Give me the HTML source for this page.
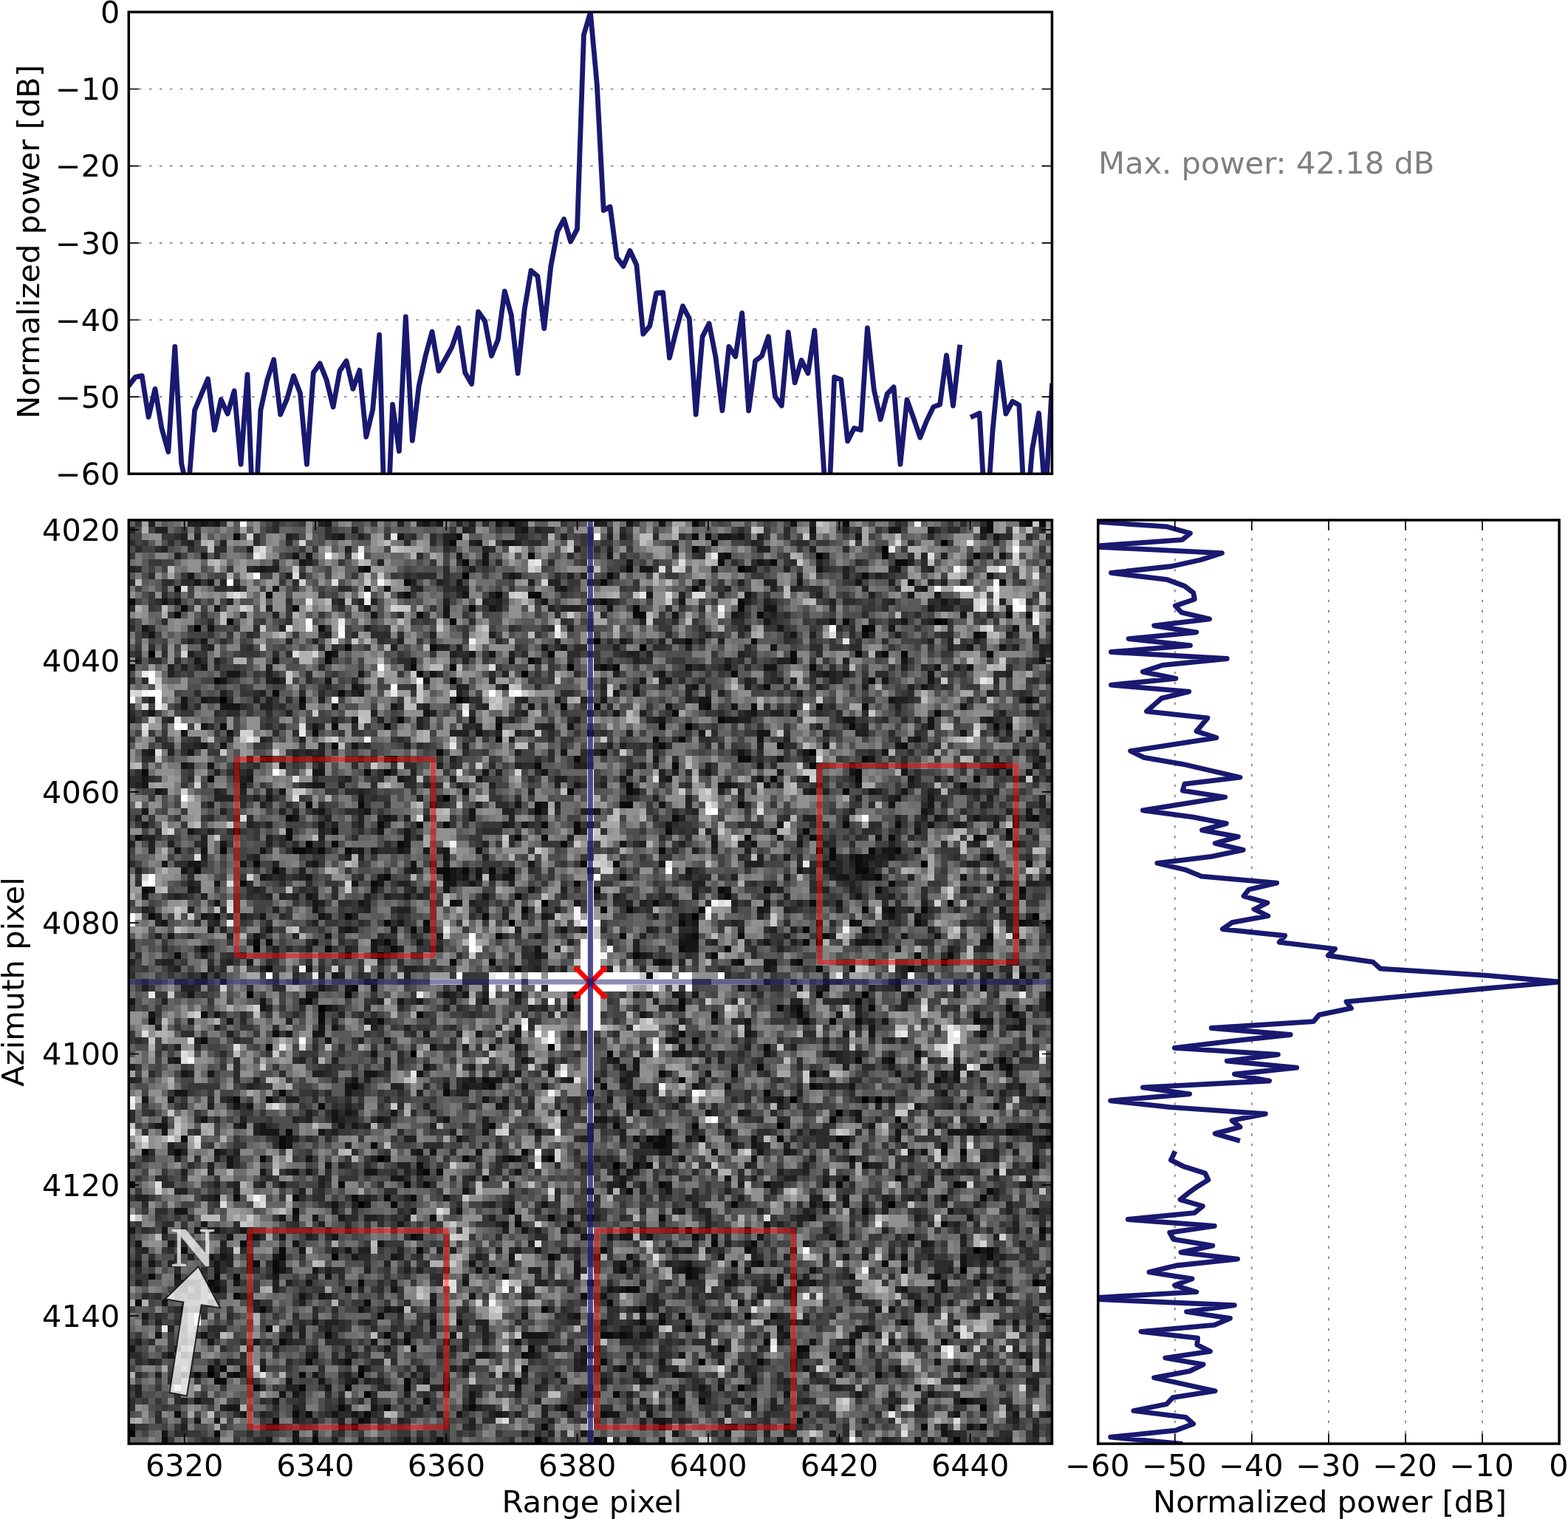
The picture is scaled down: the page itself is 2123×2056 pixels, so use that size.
<!DOCTYPE html>
<html lang="en"><head><meta charset="utf-8"><title>Point target analysis</title>
<style>html,body{margin:0;padding:0;background:#fff}svg{display:block}text{font-family:"DejaVu Sans","Liberation Sans",sans-serif;font-size:41.67px;fill:#000}.tl{font-size:41.4px}.sp{fill:none;stroke:#000;stroke-width:3.5;stroke-linejoin:miter}.tk{stroke:#000;stroke-width:1.7;fill:none}.gr{stroke:#808080;stroke-width:1.7;fill:none;stroke-dasharray:3.47 10.42}.ln{fill:none;stroke:#191970;stroke-width:6.8;stroke-linejoin:round;stroke-linecap:square}.rc{fill:none;stroke:#f00;stroke-opacity:.5;stroke-width:6.9;stroke-linejoin:round}</style></head><body>
<svg width="2123" height="2056" viewBox="0 0 2123 2056">
<rect width="2123" height="2056" fill="#fff"/>
<defs>
<clipPath id="c1"><rect x="174.3" y="16.3" width="1250.1" height="625"/></clipPath>
<clipPath id="c2"><rect x="174.3" y="703.95" width="1250.1" height="1250.15"/></clipPath>
<clipPath id="c3"><rect x="1486.7" y="703.95" width="624.4" height="1250.15"/></clipPath>
</defs>
<g id="top-axes">
<path class="gr" d="M174.3 120.5H1424.4M174.3 224.6H1424.4M174.3 328.8H1424.4M174.3 433H1424.4M174.3 537.1H1424.4"/>
<path class="ln" clip-path="url(#c1)" d="M174.3 522.2L183.2 510.4L192.2 508.7L201.1 564.4L210 526.4L218.9 579.5L227.9 611.6L236.8 469.1L245.7 627.6L254.7 667.2L263.6 555.1L272.5 534L281.5 512.9L290.4 582.1L299.3 540.8L308.2 560.1L317.2 529L326.1 628.4L335 507L344 734.7L352.9 555.1L361.8 514.6L370.7 486.8L379.7 561L388.6 539.9L397.5 508.7L406.5 532.3L415.4 628.4L424.3 504.5L433.2 491.9L442.2 514.6L451.1 550.9L460 502L469 488.5L477.9 526.4L486.8 501.1L495.8 591.3L504.7 554.2L513.6 453.1L522.5 768.4L531.5 547.5L540.4 610.7L549.3 428.6L558.3 596.4L567.2 522.2L576.1 481.7L585 448.9L594 502L602.9 486L611.8 469.9L620.8 443.8L629.7 504.5L638.6 519.7L647.6 421.9L656.5 434.5L665.4 481.7L674.3 459.8L683.3 394.1L692.2 426.1L701.1 505.3L710.1 419.4L719 366.3L727.9 373.8L736.8 444.7L745.8 360.3L754.7 313.5L763.6 296.6L772.6 327L781.5 310.1L790.4 47.1L799.4 16.7L808.3 114.5L817.2 284.8L826.1 279.8L835.1 348.5L844 360.3L852.9 339.3L861.9 358.7L870.8 452.2L879.7 441.3L888.6 396.6L897.6 395.8L906.5 484.3L915.4 448L924.4 414.3L933.3 431.2L942.2 561L951.1 455.6L960.1 437.9L969 483.4L977.9 555.9L986.9 469.1L995.8 482.6L1004.7 423.6L1013.7 555.9L1022.6 488.5L1031.5 481.7L1040.4 455.6L1049.4 536.5L1058.3 549.2L1067.2 449.7L1076.2 518L1085.1 487.6L1094 505.3L1102.9 447.2L1111.9 579.5L1120.8 717.8L1129.7 510.4L1138.7 513.8L1147.6 597.2L1156.5 579.5L1165.5 582.1L1174.4 443.8L1183.3 527.3L1192.2 567.7L1201.2 533.2L1210.1 523.9L1219 628.4L1228 540.8L1236.9 566L1245.8 592.2L1254.7 569.4L1263.7 550.9L1272.6 547.5L1281.5 480.9L1290.5 549.2L1299.4 469.9M1317.2 563.5L1326.2 559.3L1335.1 717.8L1344 582.9L1353 490.2L1361.9 560.1L1370.8 543.3L1379.8 548.3L1388.7 714.4L1397.6 608.2L1406.5 559.3L1415.5 675.6L1424.4 522.2"/>
<path class="tk" d="M174.3 16.3h13.6M1424.4 16.3h-13.6M174.3 120.5h13.6M1424.4 120.5h-13.6M174.3 224.6h13.6M1424.4 224.6h-13.6M174.3 328.8h13.6M1424.4 328.8h-13.6M174.3 433h13.6M1424.4 433h-13.6M174.3 537.1h13.6M1424.4 537.1h-13.6M174.3 641.3h13.6M1424.4 641.3h-13.6"/>
<rect class="sp" x="174.3" y="16.3" width="1250.1" height="625"/>
<text x="162.4" y="31" text-anchor="end" class="tl">0</text>
<text x="162.4" y="135.2" text-anchor="end" class="tl">−10</text>
<text x="162.4" y="239.3" text-anchor="end" class="tl">−20</text>
<text x="162.4" y="343.5" text-anchor="end" class="tl">−30</text>
<text x="162.4" y="447.7" text-anchor="end" class="tl">−40</text>
<text x="162.4" y="551.8" text-anchor="end" class="tl">−50</text>
<text x="162.4" y="656" text-anchor="end" class="tl">−60</text>
<text transform="translate(52.7 327.3) rotate(-90)" text-anchor="middle">Normalized power [dB]</text>
</g>
<text x="1487" y="235" style="fill:#808080">Max. power: 42.18 dB</text>
<g id="image-axes">
<g transform="translate(174.3 703.95) scale(8.86596)" shape-rendering="crispEdges" fill="none" stroke-width="1">
<rect width="141" height="141" fill="#4e4e4e" stroke="none"/>
<path stroke="#000000" d="M124 3.5h1m-10 1h1m-11 1h1m-13 2h1m-43 1h1m71 7h1m-114 1h1m101 0h1m-42 2h1m6 1h1m-76 1h1m63 2h1m-8 1h1m-12 1h1m-36 3h1m35 0h1m34 4h1m18 4h1m-57 7h1m-22 7h1m93 3h1m-59 6h1m22 2h1m51 0h1m-81 1h1m-40 4h1m18 1h1m85 1h1m-107 5h1m93 0h1m-84 2h1m13 7h1m57 7h1m10 0h1m1 0h1m-7 2h1m-10 2h1m-62 5h1m25 0h1m9 1h1m63 0h1m-104 6h1m80 0h1m-47 2h1m14 2h1m43 3h1m-99 1h1m95 2h1m10 2h1m-54 7h1m1 5h1m-80 2h1m3 0h1m22 0h1m57 2h1m-58 1h1m90 1h1m2 1h1m-131 4h1m61 1h1m63 0h1"/>
<path stroke="#0b0b0b" d="M58 0.5h1m27 0h1m22 0h1m21 0h1m5 0h1m1 0h1m-9 1h1m-116 1h1m33 0h1m35 0h1m1 0h1m-40 1h1m39 0h1m-4 1h1m-26 1h1m29 0h1m23 0h1m13 0h1m-79 1h1m38 0h1m7 0h1m18 0h2m-83 1h1m39 0h1m-4 1h1m38 0h1m-71 1h1m29 0h1m46 0h1m13 0h1m-127 1h1m78 0h1m-66 1h1m20 0h1m13 0h1m4 0h2m-63 1h1m71 0h1m20 0h1m-86 1h1m16 0h1m26 0h1m24 0h1m15 0h1m-87 1h1m36 0h1m32 0h2m17 0h1m37 0h1m2 0h1m-123 1h1m33 0h1m59 0h1m14 0h1m-96 1h1m83 0h1m-2 1h1m16 0h1m-45 1h1m9 0h1m-63 1h1m12 0h1m-17 1h1m33 0h1m36 0h1m9 0h1m3 0h1m2 0h1m12 0h1m-102 1h1m30 0h1m39 0h1m-59 1h1m5 0h1m22 0h1m1 0h1m29 0h1m-61 1h1m47 0h1m-80 1h1m99 0h1m-17 1h1m-76 1h1m9 0h1m-7 1h1m110 0h1m-72 1h1m4 0h1m16 0h1m6 0h1m9 0h1m6 0h1m-30 1h1m17 0h1m21 0h1m-83 1h1m48 0h1m-77 1h1m16 0h1m7 0h1m16 0h1m24 0h1m28 0h1m21 0h1m1 0h1m-107 1h1m41 0h1m-15 1h1m23 0h1m3 0h1m-54 1h1m49 0h1m17 0h1m18 0h1m-72 1h1m24 0h1m-52 1h1m18 0h1m27 0h1m24 0h2m17 0h1m-51 1h1m20 0h1m20 0h1m28 0h1m-132 1h1m33 0h1m2 0h1m71 0h1m-100 1h1m85 0h1m12 0h1m17 0h1m-54 1h1m50 0h1m-77 1h1m15 0h1m8 0h1m32 0h1m-83 2h1m7 0h1m26 0h1m12 0h2m16 0h1m-32 1h1m-39 1h1m58 0h1m54 0h1m-101 1h1m5 0h1m3 0h1m14 0h1m4 0h1m40 0h1m7 0h1m-102 1h1m7 0h1m6 0h1m36 0h1m13 0h1m20 0h1m30 0h1m-134 1h1m22 0h1m34 0h1m3 0h1m30 0h1m9 0h1m11 0h1m12 0h1m-99 1h1m9 0h1m24 0h1m68 0h1m-122 1h1m10 0h2m2 0h1m3 0h1m47 0h1m23 0h1m1 0h1m5 0h1m3 0h1m-11 1h1m3 0h1m19 0h1m-113 1h1m49 0h1m4 0h1m36 0h1m-102 1h1m11 0h1m24 0h2m2 0h1m3 0h1m2 0h1m52 0h2m-74 1h1m8 0h1m26 0h1m38 0h1m-98 1h1m19 0h1m30 0h1m47 0h1m-115 1h1m68 0h1m18 0h1m6 0h1m16 0h1m21 0h1m-78 1h1m31 0h1m-43 1h1m30 0h1m23 0h1m20 0h1m-66 1h1m11 0h1m3 0h1m10 0h1m24 0h1m3 0h1m4 0h1m-119 1h1m9 0h1m19 0h1m20 0h1m-16 1h1m5 0h1m38 0h1m25 0h1m9 0h1m15 0h1m3 0h1m-98 1h1m59 0h1m8 0h1m-57 1h1m18 0h1m10 0h1m6 0h1m12 0h1m24 0h1m3 0h1m-117 1h1m1 0h1m17 0h1m63 0h1m1 0h1m8 0h1m-104 1h1m18 0h1m9 0h1m43 0h1m6 0h1m-85 1h1m25 0h1m43 0h1m11 0h1m30 0h1m4 0h1m-77 1h1m5 0h1m25 0h1m11 0h1m8 0h1m-82 1h1m37 0h1m45 0h1m4 0h1m8 0h1m-41 1h1m56 0h1m-20 1h1m-84 1h1m95 0h1m-98 1h1m34 0h1m36 0h1m34 0h1m-114 1h1m56 0h1m26 0h1m-45 1h1m16 0h1m14 0h1m2 0h1m10 0h1m20 0h1m-124 1h1m17 0h1m14 0h1m44 0h1m12 0h1m32 0h1m-133 1h1m25 0h1m8 0h1m64 0h1m3 0h1m3 0h1m17 0h1m-108 2h1m61 0h1m45 0h1m-120 1h1m74 0h1m-66 1h1m42 0h1m32 0h1m-25 1h1m46 0h1m-10 1h1m4 0h1m16 0h1m-38 1h1m37 0h1m-54 1h1m10 0h1m11 0h1m-51 1h1m29 0h1m38 0h1m-90 1h1m20 0h1m16 0h1m31 0h1m-82 1h1m24 0h1m21 0h1m26 0h1m-82 1h1m4 0h1m117 0h1m-111 1h1m102 0h1m-67 1h1m40 1h1m9 0h1m-63 1h1m18 0h1m11 0h1m43 0h1m-107 1h1m57 0h1m51 0h1m-127 1h1m14 0h1m55 0h1m1 0h1m5 0h1m11 0h1m8 0h1m31 0h1m-118 1h1m13 0h1m42 0h2m27 0h1m-108 1h1m4 0h1m52 0h1m63 0h1m2 0h1m-108 1h1m30 0h1m6 0h1m51 0h1m-67 1h1m32 0h1m1 0h1m32 0h1m-68 1h1m1 0h1m6 1h1m54 0h1m7 0h1m-118 1h1m31 0h1m9 0h1m2 0h1m35 0h1m15 0h1m10 0h1m17 0h1m-57 1h1m5 0h1m54 0h1m-116 1h1m8 0h1m8 0h1m4 0h1m3 0h1m80 0h1m5 0h1m-91 1h1m51 0h1m13 0h1m-82 1h1m32 0h1m53 0h1m-67 1h1m17 0h1m16 0h1m-23 1h1m7 0h1m56 0h1m14 1h1m-97 1h1m42 0h1m32 0h1m-103 1h1m71 0h1m5 0h1m-88 1h1m14 0h1m20 0h1m27 0h1m21 0h1m36 0h1m-109 1h1m40 0h1m53 0h1m12 0h1m-113 1h1m2 0h1m69 0h1m3 0h1m18 0h1m-94 1h1m32 0h1m19 0h1m9 0h1m32 0h1m-116 1h1m9 0h1m2 0h1m40 0h1m27 0h1m37 0h1m-112 1h1m22 0h1m63 0h1m-87 1h1m19 0h1m42 0h2m23 0h1m-86 1h1m52 0h1m-69 1h1m34 0h1m36 0h1m46 0h1m10 0h1m-124 1h1m11 0h1m42 0h1m14 0h1m-41 1h1m45 0h1m9 0h1m3 0h1m-53 1h1m3 0h1m27 0h1m2 0h1m36 0h1m-98 1h1m8 1h1m8 0h1m32 0h2m1 0h1m-53 1h1m18 0h1m54 0h1m12 0h1m13 0h1m-82 1h1m17 0h1m28 0h1m11 0h2m-44 1h1m46 0h1m2 0h1m-84 1h1m5 0h1m38 0h1m23 0h1m-85 1h1m1 0h1m20 0h1m24 0h1m14 0h1m52 0h1m-119 1h1m5 0h1m9 0h1m56 0h1m30 0h1m-102 1h2m27 0h1m16 0h1m67 0h1m-109 1h1m6 0h1m6 0h1m8 0h1m5 0h1m20 1h1m4 0h1m8 0h1m-39 1h1m38 0h1m2 0h1m7 0h1m-64 1h1m6 0h1m12 0h1m13 0h1m-60 1h1m17 0h1m1 0h1m8 0h1m35 0h1m-51 1h1m12 0h1m66 0h1m-69 1h1m28 0h1m17 0h1m18 0h1m20 0h1m8 0h1m-118 1h1m-9 1h1m22 0h1m18 0h1m23 0h1m4 0h1"/>
<path stroke="#161616" d="M11 0.5h1m1 0h1m16 0h1m14 0h1m1 0h1m8 0h1m19 0h1m4 0h1m19 0h1m34 0h1m-77 1h1m43 0h1m11 0h2m4 0h1m7 0h1m-99 1h1m8 0h1m48 0h2m1 0h1m17 0h1m20 0h1m-80 1h1m3 0h2m24 1h1m-73 1h1m13 0h1m1 0h1m22 0h1m3 0h1m18 0h1m16 0h1m42 0h1m-108 1h1m27 0h1m21 0h1m19 0h1m-77 1h1m14 0h1m42 0h2m14 0h1m10 0h1m11 0h1m-109 1h1m48 0h1m72 0h1m-122 1h1m1 0h1m37 0h1m36 0h1m14 0h1m8 0h1m-90 1h1m13 0h1m2 0h1m26 0h1m54 0h1m-71 1h1m27 0h1m14 0h1m24 0h1m3 0h1m-119 1h1m1 0h1m55 0h1m20 0h1m39 0h1m-112 1h1m22 0h1m11 0h1m6 0h1m17 0h1m23 0h2m23 0h1m-86 1h1m10 0h1m34 0h1m8 0h1m34 0h1m-31 1h1m9 0h1m10 0h1m-117 1h1m9 0h1m86 0h1m16 0h1m18 0h1m-133 1h1m97 0h1m28 0h1m7 0h1m-128 1h1m63 0h1m-13 1h1m2 0h1m31 0h1m29 0h1m4 0h1m-103 1h1m20 0h1m2 0h1m-46 1h1m11 0h1m20 0h1m14 0h1m59 0h1m20 0h1m-140 1h1m10 0h1m73 0h1m5 0h1m5 0h2m24 0h1m4 0h1m-114 1h2m18 0h1m10 0h1m34 0h1m24 0h1m2 0h1m12 0h1m-109 1h1m7 0h1m7 0h1m14 0h1m32 0h1m3 0h1m32 0h1m6 0h1m-89 1h1m22 0h1m28 0h1m34 0h1m-87 1h1m38 0h1m2 0h1m24 0h1m-95 1h1m2 0h1m39 0h1m13 0h1m6 0h1m14 0h2m27 0h1m-109 1h1m5 0h3m9 0h1m4 0h1m8 0h1m20 0h1m20 0h1m4 0h1m4 0h1m34 0h1m-125 1h1m41 0h1m28 0h1m20 0h1m-62 1h1m17 0h1m3 0h1m24 0h1m9 0h2m16 0h2m11 0h1m8 0h1m-121 1h1m16 0h1m38 0h1m54 0h1m-115 1h1m6 0h1m37 0h1m33 0h1m8 0h2m29 0h1m9 0h1m2 0h1m-45 1h1m23 0h1m-110 1h1m2 0h1m19 0h1m71 0h1m10 0h1m-115 1h1m5 0h1m56 0h1m26 0h1m9 0h1m11 0h1m19 0h1m-116 1h1m7 0h1m51 0h1m18 0h1m13 0h1m18 0h1m6 0h1m-132 1h1m3 0h1m10 0h1m72 0h1m13 0h1m21 0h1m5 0h1m-111 1h2m24 0h1m8 0h1m12 0h1m11 0h1m10 0h1m10 0h1m7 0h1m13 0h1m1 0h1m2 0h1m-136 1h1m15 0h1m22 0h1m11 0h1m21 0h1m6 0h1m13 0h1m6 0h1m15 0h1m-118 1h1m14 0h1m10 0h2m38 0h1m21 0h2m5 0h1m13 0h1m-108 1h1m18 0h1m53 0h1m26 0h1m8 0h1m4 0h1m-98 1h1m13 0h1m81 0h1m4 0h1m-77 1h1m12 0h1m3 0h1m17 0h1m34 0h1m5 0h1m-121 1h1m26 0h1m6 0h1m15 0h1m18 0h1m49 0h1m15 0h1m-113 1h1m13 0h1m12 0h1m70 0h1m5 0h1m5 0h1m1 0h1m-136 1h1m26 0h1m27 0h1m2 0h1m21 0h1m16 0h1m22 0h1m3 0h1m5 0h1m2 0h1m-127 1h1m28 0h1m3 0h1m55 0h1m21 0h1m-79 1h1m56 0h1m14 0h1m15 0h1m3 0h1m-121 1h1m27 0h1m32 0h1m13 0h1m5 0h1m6 0h1m-96 1h1m3 0h1m8 0h1m6 0h1m7 0h1m1 0h1m3 0h1m3 0h1m2 0h1m4 0h1m61 0h2m3 0h1m-73 1h1m51 0h1m9 0h1m1 0h2m2 0h1m-112 1h1m3 0h2m6 0h1m10 0h1m14 0h1m17 0h1m19 0h1m24 0h1m5 0h1m24 0h1m2 0h1m-133 1h1m34 0h1m5 0h1m3 0h1m31 0h1m16 0h1m4 0h1m-88 1h1m6 0h1m10 0h1m10 0h1m1 0h1m1 0h1m1 0h1m1 0h2m49 0h2m2 0h2m13 0h1m12 0h1m-128 1h1m20 0h1m3 0h1m9 0h2m2 0h1m80 0h1m-131 1h1m5 0h1m27 0h1m10 0h1m12 0h1m29 0h1m-90 1h1m24 0h1m14 0h1m11 0h1m31 0h1m24 0h1m21 0h1m2 0h1m-124 1h1m14 0h1m6 0h1m14 0h1m17 0h1m28 0h1m10 0h1m-81 1h1m67 0h1m18 0h1m17 0h1m-123 1h1m8 0h1m8 0h1m33 0h1m20 0h1m31 0h1m3 0h1m-116 1h1m35 0h1m44 0h1m18 0h1m5 0h1m25 0h1m-126 1h1m8 0h1m11 0h1m6 0h1m4 0h1m20 0h1m2 0h1m70 0h1m-135 1h1m12 0h1m10 0h1m16 0h1m14 0h1m22 0h1m32 0h1m4 0h1m-96 1h1m8 0h1m6 0h1m39 0h3m10 0h1m13 0h2m17 0h2m-95 1h1m24 0h1m22 0h2m30 0h1m-56 1h1m15 0h1m-61 1h1m61 0h1m1 0h1m9 0h1m4 0h2m2 0h1m19 0h1m-95 1h1m69 0h1m42 0h1m-130 1h1m19 0h1m6 0h1m92 0h1m6 0h1m-125 1h1m21 0h1m60 0h1m8 0h1m23 0h1m-102 1h1m3 0h1m3 0h1m12 0h1m42 0h1m1 0h1m6 0h1m3 0h1m10 0h1m-109 1h1m17 0h2m19 0h1m2 0h1m7 0h1m17 0h1m5 0h1m2 0h1m32 0h1m-120 1h1m19 0h1m5 0h1m14 0h1m2 0h1m9 0h1m85 0h1m-121 1h1m9 0h1m70 0h1m38 0h1m-138 1h1m9 0h1m64 0h1m29 0h1m20 0h1m-115 1h1m20 0h1m57 0h1m20 0h1m14 0h2m4 0h1m-108 1h1m1 0h1m27 0h1m53 0h1m21 0h2m-113 1h1m3 0h2m15 0h1m7 0h1m5 0h1m7 0h1m26 0h1m14 0h1m3 0h1m-84 1h1m8 0h1m18 0h1m23 0h2m-38 1h1m8 0h1m3 0h1m24 0h1m-48 1h1m45 0h2m12 0h1m9 0h1m-101 1h1m52 0h1m13 0h1m2 0h1m37 0h1m-71 1h1m18 0h1m10 0h1m1 0h1m48 0h1m3 0h2m1 0h1m-126 1h1m3 0h1m23 0h2m6 0h1m14 0h1m4 0h1m23 0h1m17 0h1m10 0h1m6 0h1m1 0h1m7 0h1m-101 1h1m17 0h1m2 0h2m10 0h1m3 0h1m3 0h1m50 0h1m-94 1h1m14 0h1m2 0h1m2 0h1m8 0h1m22 0h1m4 0h1m13 0h1m4 0h1m25 0h1m-130 1h2m24 0h1m44 0h1m45 0h1m-123 1h1m3 0h1m47 0h1m2 0h1m15 0h1m10 0h1m14 0h1m16 0h1m11 0h1m-113 1h1m1 0h1m37 0h1m19 0h1m43 0h1m-90 1h1m1 0h1m6 0h1m37 0h1m9 0h1m4 0h1m17 0h1m-101 1h1m19 0h1m6 0h1m9 0h1m22 0h2m38 0h1m-108 1h2m11 0h1m2 0h1m11 0h1m1 0h1m78 0h1m4 0h1m18 0h1m1 0h2m-136 1h1m14 0h3m6 0h1m24 0h1m7 0h1m28 0h1m25 0h1m7 0h2m1 0h2m5 0h1m-112 1h1m25 0h1m26 0h1m2 0h1m1 0h1m2 0h1m9 0h1m13 0h1m7 0h1m21 0h1m-116 1h1m57 0h1m9 0h1m2 0h1m28 0h1m-112 1h1m30 0h1m1 0h1m6 0h1m27 0h2m6 0h1m6 0h1m3 0h1m18 0h1m1 0h1m-107 1h1m11 0h1m11 0h1m17 0h1m1 0h1m3 0h1m20 0h1m10 0h1m42 0h1m-124 1h1m14 0h1m-11 1h1m4 0h1m1 0h1m8 0h2m6 0h1m14 0h1m14 0h1m1 0h1m48 0h1m6 0h1m-93 1h2m33 0h1m15 0h1m-69 1h1m34 0h1m16 0h1m6 0h1m23 0h1m20 0h1m9 0h1m-87 1h1m30 0h1m-70 1h1m34 0h1m60 0h1m11 0h1m-91 1h1m4 0h1m26 0h1m40 0h1m4 0h1m-103 1h2m34 0h1m6 0h1m16 0h1m16 0h1m40 0h1m12 0h1m-116 1h1m1 0h1m2 0h1m3 0h1m26 0h1m44 0h1m23 0h1m-118 1h1m29 0h1m15 0h1m39 0h1m-98 1h1m4 0h1m4 0h1m2 0h1m3 0h1m42 0h1m5 0h1m21 0h1m5 0h1m-80 1h1m2 0h2m3 0h1m7 0h1m12 0h1m24 0h1m3 0h1m1 0h2m2 0h1m9 0h1m6 0h1m10 0h1m31 0h1m-139 1h1m4 0h1m18 0h1m12 0h1m69 0h1m12 0h1m-96 1h1m6 0h1m28 0h1m20 0h1m1 0h1m15 0h1m28 0h1m-119 1h1m1 0h1m7 0h1m11 0h1m5 0h1m17 0h1m12 0h1m4 0h1m13 0h1m18 0h1m2 0h1m14 0h1m-127 1h1m1 0h1m9 0h1m38 0h1m15 0h1m6 0h1m1 0h1m7 0h1m9 0h1m31 0h1m-115 1h1m9 0h1m4 0h1m24 0h1m14 0h1m15 0h1m1 0h1m7 0h1m9 0h1m-98 1h1m14 0h1m7 0h1m37 0h1m17 0h1m5 0h1m6 0h1m1 0h1m8 0h1m11 0h1m7 0h1m-118 1h1m2 0h1m10 0h1m23 0h1m18 0h1m20 0h1m10 0h1m1 0h1m19 0h1m4 0h1m3 0h1m5 0h1m-128 1h1m27 0h1m32 0h1m1 0h1m42 0h1m3 0h1m1 0h1m-99 1h1m2 0h1m22 0h1m19 0h1m23 0h1m4 0h1m30 0h1m-128 1h1m6 0h1m33 0h1m46 0h1m-59 1h1m3 0h1m1 0h1m72 0h1m1 0h1m3 0h1m1 0h1m6 0h1m-128 1h1m57 0h1m7 0h1m12 0h1m9 0h1m47 0h1m-112 1h1m43 0h1m28 0h1m1 0h1m28 0h1m2 0h1m4 0h1m-117 1h1m74 0h1m12 0h1m-109 1h1m6 0h1m30 0h1m6 0h1m10 0h4m10 0h1m1 0h1m1 0h2m20 0h1m10 0h1m28 0h1m-129 1h1m6 0h1m17 0h1m10 0h1m10 0h1m44 0h1m11 0h1m2 0h1m-120 1h1m38 0h1m29 0h1m57 0h1m-122 1h1m1 0h1m19 0h1m24 0h2m6 0h1m22 0h1m17 0h1m33 0h1m-68 1h1m11 0h1m19 0h1m6 0h1m14 0h1m13 0h1m-121 1h1m2 0h1m30 0h1m19 0h1m31 0h1m6 0h1m6 0h1m8 0h1m-112 1h1m12 0h1m36 0h1m11 0h1m6 0h1m23 0h1m8 0h1m12 0h1m1 0h1m1 0h1m-128 1h1m16 0h1m4 0h1m4 0h1m10 0h1m26 0h1m5 0h2m15 0h1m-66 1h1m28 0h1m27 0h1m2 0h1m29 0h1m-98 1h1m1 0h1m26 0h1m47 0h1m10 0h1m10 0h1m-113 1h1m11 0h1m29 0h1m25 0h1m49 0h1m-114 1h2m20 0h1m57 0h1m20 0h1m-100 1h1m13 0h1m2 0h1m15 0h1m5 0h1m10 0h1m5 0h2m4 0h1m23 0h1m22 0h1m8 0h1m4 0h1m-131 1h1m2 0h1m22 0h1m43 0h2m-82 1h1m20 0h2m9 0h1m59 0h1m2 0h1m28 0h1m3 0h1m-124 1h1m19 0h1m43 0h1m13 0h1m7 0h1m32 0h1m-104 1h1m3 0h1m16 0h1m29 0h1m4 0h1m3 0h1m17 0h1m20 0h1"/>
<path stroke="#212121" d="M3 0.5h1m5 0h2m1 0h1m16 0h1m11 0h1m2 0h1m5 0h1m1 0h1m6 0h1m11 0h2m31 0h1m-105 1h1m3 0h2m28 0h1m16 0h1m7 0h1m2 0h1m46 0h1m-102 1h1m1 0h1m13 0h1m6 0h1m3 0h1m12 0h2m16 0h1m6 0h1m1 0h1m16 0h1m3 0h1m7 0h1m25 0h1m-122 1h1m4 0h1m33 0h1m3 0h1m6 0h1m35 0h1m-91 1h1m12 0h1m14 0h1m20 0h1m13 0h1m4 0h1m22 0h2m6 0h1m-98 1h1m98 0h1m14 0h1m2 0h1m6 0h1m-105 1h1m10 0h1m58 0h1m7 0h1m13 0h1m8 0h1m11 0h1m-141 1h1m18 0h1m1 0h2m29 0h1m36 0h1m5 0h1m4 0h1m8 0h1m6 0h1m5 0h1m-99 1h1m34 0h1m7 0h1m1 0h1m32 0h1m6 0h1m4 0h1m-101 1h1m28 0h1m3 0h1m13 0h1m2 0h2m27 0h1m3 0h2m17 0h1m5 0h1m1 0h1m-109 1h1m27 0h1m5 0h2m13 0h1m25 0h1m6 0h1m2 0h1m10 0h1m7 0h1m-80 1h1m13 0h1m28 0h1m20 0h1m7 0h1m-99 1h1m16 0h1m2 0h1m1 0h1m10 0h1m5 0h1m1 0h1m13 0h2m1 0h1m20 0h1m2 0h1m9 0h1m8 0h1m9 0h1m6 0h1m-113 1h1m34 0h1m7 0h1m1 0h3m55 0h2m8 0h1m5 0h1m-119 1h1m70 0h1m4 0h1m32 0h1m-54 1h1m43 0h1m-100 1h1m12 0h1m30 0h1m26 0h1m-65 1h1m15 0h1m8 0h1m32 0h1m15 0h1m12 0h1m16 0h1m-126 1h1m14 0h1m3 0h1m12 0h1m23 0h1m15 0h1m1 0h2m2 0h1m2 0h1m31 0h1m2 0h1m3 0h1m8 0h1m-127 1h1m27 0h1m6 0h2m1 0h1m23 0h1m10 0h1m39 0h1m9 0h1m3 0h2m-132 1h1m39 0h1m8 0h1m17 0h2m1 0h1m13 0h1m20 0h1m24 0h1m-139 1h1m11 0h1m37 0h1m10 0h1m14 0h1m13 0h1m7 0h2m8 0h1m-104 1h1m1 0h1m12 0h1m49 0h1m1 0h1m13 0h1m30 0h1m7 0h1m-121 1h1m14 0h1m35 0h1m16 0h1m30 0h1m1 0h1m26 0h1m-114 1h1m1 0h1m31 0h1m25 0h1m12 0h1m4 0h1m1 0h1m5 0h1m32 0h1m-106 1h1m14 0h2m20 0h1m2 0h1m1 0h1m7 0h1m8 0h1m10 0h1m6 0h1m6 0h1m-106 1h1m5 0h1m13 0h1m15 0h1m34 0h1m4 0h1m40 0h1m-129 1h1m8 0h2m5 0h1m1 0h1m7 0h1m19 0h1m10 0h1m8 0h1m15 0h1m31 0h2m17 0h1m1 0h1m-119 1h2m23 0h1m8 0h1m62 0h1m-94 1h1m12 0h1m8 0h1m13 0h1m17 0h1m15 0h1m3 0h2m33 0h1m3 0h2m-139 1h1m5 0h1m24 0h1m6 0h1m5 0h1m13 0h1m9 0h1m11 0h1m12 0h2m35 0h1m-87 1h1m8 0h1m9 0h2m40 0h1m6 0h1m-64 1h3m4 0h1m2 0h1m16 0h1m29 0h1m4 0h2m19 0h1m1 0h1m-115 1h1m5 0h1m31 0h1m41 0h1m18 0h1m-110 1h1m18 0h1m12 0h1m8 0h1m21 0h1m1 0h1m4 0h1m15 0h1m-95 1h1m3 0h1m18 0h1m1 0h1m1 0h1m29 0h1m11 0h1m66 0h1m-121 1h1m6 0h1m3 0h1m5 0h1m3 0h1m9 0h1m53 0h1m-95 1h1m6 0h1m12 0h1m17 0h1m11 0h1m8 0h2m8 0h1m9 0h1m29 0h1m-106 1h1m2 0h1m1 0h1m21 0h1m2 0h1m12 0h1m24 0h1m1 0h1m-67 1h1m15 0h1m8 0h1m6 0h1m15 0h2m14 0h1m41 0h1m1 0h1m10 0h1m1 0h1m1 0h1m-140 1h1m25 0h1m4 0h1m12 0h1m4 0h1m4 0h1m9 0h1m6 0h1m19 0h1m6 0h1m5 0h1m13 0h1m-115 1h1m7 0h1m3 0h1m3 0h1m13 0h1m25 0h1m28 0h1m2 0h1m9 0h1m2 0h1m7 0h1m7 0h1m4 0h1m1 0h1m2 0h1m-120 1h3m3 0h1m24 0h1m2 0h1m32 0h1m4 0h1m25 0h1m4 0h1m14 0h1m7 0h1m-128 1h1m7 0h1m32 0h1m11 0h1m19 0h1m44 0h1m8 0h1m-126 1h1m8 0h1m1 0h1m2 0h1m6 0h1m21 0h2m4 0h1m5 0h2m15 0h1m23 0h1m11 0h1m11 0h1m5 0h1m-140 1h1m28 0h1m4 0h1m2 0h1m1 0h1m1 0h1m2 0h1m12 0h1m25 0h1m18 0h2m4 0h1m7 0h1m3 0h1m2 0h1m7 0h1m-115 1h1m2 0h1m9 0h1m3 0h1m22 0h1m11 0h1m35 0h1m13 0h1m6 0h1m-116 1h1m16 0h1m39 0h1m18 0h1m48 0h1m-136 1h2m7 0h1m9 0h1m7 0h1m14 0h1m22 0h1m21 0h1m12 0h1m2 0h1m-106 1h1m2 0h1m2 0h1m4 0h1m9 0h1m32 0h1m23 0h1m5 0h1m8 0h1m12 0h1m9 0h1m12 0h1m-127 1h1m24 0h1m5 0h1m7 0h1m4 0h1m38 0h1m2 0h1m4 0h1m-84 1h1m7 0h1m13 0h1m1 0h1m18 0h1m41 0h1m17 0h2m14 0h1m-109 1h1m4 0h1m18 0h1m1 0h1m45 0h3m11 0h1m1 0h1m3 0h1m13 0h2m-129 1h1m21 0h1m2 0h1m15 0h1m7 0h1m19 0h1m33 0h1m1 0h1m1 0h1m4 0h1m-93 1h1m1 0h1m2 0h1m23 0h1m34 0h1m6 0h1m7 0h1m6 0h1m3 0h1m7 0h1m11 0h1m-123 1h1m31 0h2m15 0h1m27 0h2m22 0h1m23 0h1m2 0h2m-129 1h1m8 0h1m23 0h1m22 0h1m19 0h1m12 0h1m6 0h1m3 0h1m16 0h1m1 0h1m2 0h1m-126 1h1m3 0h1m9 0h1m1 0h1m1 0h1m2 0h1m7 0h1m2 0h1m4 0h1m26 0h1m2 0h1m7 0h1m7 0h1m9 0h1m15 0h1m-88 1h1m6 0h1m15 0h1m23 0h1m1 0h1m4 0h1m8 0h1m9 0h1m18 0h1m-120 1h1m6 0h1m12 0h1m13 0h1m4 0h2m10 0h1m11 0h1m31 0h1m2 0h1m7 0h1m10 0h1m10 0h1m-127 1h1m7 0h1m4 0h1m12 0h1m3 0h1m22 0h1m2 0h1m3 0h1m15 0h1m4 0h1m10 0h1m18 0h1m17 0h2m2 0h1m-134 1h1m8 0h1m14 0h1m56 0h1m6 0h1m28 0h1m5 0h1m6 0h1m3 0h1m-125 1h1m17 0h1m1 0h1m24 0h1m19 0h1m6 0h1m6 0h1m4 0h1m2 0h1m11 0h1m1 0h1m6 0h1m-119 1h1m10 0h1m9 0h1m52 0h1m5 0h1m15 0h1m6 0h1m-108 1h1m37 0h1m28 0h1m9 0h1m11 0h1m11 0h1m11 0h1m22 0h1m-137 1h1m11 0h1m9 0h1m4 0h1m5 0h1m7 0h1m4 0h2m17 0h1m11 0h1m21 0h1m25 0h1m4 0h1m-120 1h1m25 0h1m1 0h1m23 0h1m15 0h1m-80 1h1m4 0h2m8 0h1m22 0h1m45 0h1m28 0h1m17 0h1m2 0h2m4 0h1m-134 1h1m4 0h1m7 0h1m21 0h2m18 0h1m1 0h1m1 0h1m6 0h1m24 0h1m19 0h1m17 0h1m-124 1h1m15 0h1m2 0h1m9 0h1m75 0h1m11 0h1m3 0h1m-125 1h2m13 0h1m11 0h1m78 0h1m20 0h1m-136 1h1m5 0h2m95 0h1m7 0h1m6 0h1m5 0h1m9 0h1m-88 1h1m4 0h1m24 0h1m4 0h1m41 0h1m-122 1h1m32 0h1m10 0h1m9 0h1m7 0h1m12 0h1m20 0h2m6 0h1m8 0h1m-98 1h1m9 0h1m16 0h1m12 0h1m1 0h1m18 0h1m28 0h1m6 0h1m18 0h1m-106 1h1m68 0h1m9 0h1m22 0h1m-126 1h1m14 0h1m12 0h1m46 0h1m4 0h1m12 0h1m10 0h1m-110 1h1m8 0h1m23 0h1m4 0h1m51 0h1m39 0h1m-120 1h1m34 0h1m44 0h1m42 0h1m-129 1h1m24 0h1m70 0h1m9 0h1m1 0h1m-112 1h1m43 0h1m42 0h1m6 0h1m-23 1h1m5 0h1m1 0h1m2 0h1m15 0h1m1 0h1m2 0h1m23 0h1m-130 1h1m19 0h1m4 0h1m7 0h1m33 0h1m14 0h1m1 0h1m17 0h1m11 0h1m5 0h1m-127 1h1m38 0h1m12 0h1m39 0h1m16 0h1m6 0h1m-108 1h1m18 0h2m27 0h1m18 0h2m50 0h1m-129 1h1m18 0h1m16 0h1m14 0h1m6 0h1m7 0h1m9 0h1m10 0h1m31 0h1m4 0h1m5 0h1m9 0h1m-123 1h1m16 0h1m4 0h2m10 0h2m6 0h1m15 0h1m30 0h1m26 0h1m-91 1h1m5 0h2m25 0h1m24 0h1m28 0h1m1 0h1m2 0h1m-122 1h1m8 0h2m52 0h1m18 0h2m39 0h1m-127 1h1m20 0h1m11 0h1m11 0h1m3 0h1m9 0h1m11 0h1m15 0h1m14 0h1m10 0h1m1 0h1m-101 1h1m6 0h1m11 0h1m29 0h1m2 0h1m14 0h1m15 0h1m-106 1h1m11 0h1m7 0h1m1 0h1m4 0h1m6 0h1m14 0h1m19 0h1m-59 1h1m2 0h1m16 0h1m9 0h1m7 0h1m6 0h1m8 0h1m52 0h1m4 0h1m7 0h1m-118 1h1m11 0h1m17 0h1m25 0h1m10 0h1m15 0h1m1 0h1m22 0h1m2 0h1m5 0h2m-113 1h1m16 0h2m25 0h2m4 0h1m62 0h1m-133 1h1m26 0h1m44 0h2m16 0h1m3 0h1m33 0h1m4 0h1m-134 1h1m1 0h1m5 0h1m1 0h1m26 0h1m57 0h1m30 0h1m2 0h1m-129 1h1m5 0h1m23 0h1m33 0h1m6 0h1m25 0h1m22 0h1m2 0h1m1 0h1m-133 1h1m11 0h1m19 0h1m8 0h2m18 0h1m7 0h1m8 0h1m15 0h1m8 0h1m6 0h1m2 0h2m-107 1h1m3 0h1m11 0h1m17 0h1m34 0h1m4 0h1m16 0h1m3 0h1m15 0h1m4 0h1m3 0h1m-100 1h1m22 0h1m42 0h1m4 0h2m4 0h1m11 0h1m3 0h1m-110 1h1m2 0h1m3 0h1m8 0h1m43 0h2m3 0h1m14 0h1m4 0h2m21 0h1m14 0h1m-130 1h2m7 0h1m9 0h1m46 0h1m4 0h1m12 0h1m6 0h1m33 0h1m-132 1h2m9 0h1m23 0h1m5 0h1m42 0h1m7 0h1m10 0h2m9 0h1m3 0h1m12 0h1m-99 1h1m20 0h1m2 0h1m27 0h1m25 0h1m2 0h1m13 0h1m4 0h1m-104 1h1m25 0h1m25 0h1m3 0h2m7 0h1m6 0h1m2 0h1m8 0h1m18 0h1m-99 1h2m4 0h1m12 0h1m15 0h1m16 0h1m13 0h2m16 0h1m-92 1h1m26 0h1m31 0h1m10 0h1m2 0h1m23 0h1m8 0h1m-124 1h1m17 0h1m2 0h1m23 0h1m4 0h1m5 0h1m7 0h1m1 0h1m4 0h1m22 0h1m8 0h1m19 0h1m-109 1h1m99 0h1m4 0h1m-119 1h1m46 0h1m29 0h1m2 0h1m8 0h1m18 0h1m4 0h1m8 0h1m-135 1h1m7 0h1m3 0h1m16 0h1m3 0h2m4 0h1m5 0h1m1 0h1m6 0h1m2 0h1m6 0h1m1 0h1m15 0h1m3 0h1m6 0h1m16 0h1m19 0h1m-124 1h1m5 0h1m2 0h1m22 0h1m11 0h1m11 0h1m29 0h1m4 0h1m5 0h1m9 0h1m5 0h1m7 0h1m2 0h1m-128 1h1m8 0h1m2 0h1m4 0h1m15 0h1m18 0h1m15 0h1m7 0h1m1 0h1m13 0h1m31 0h1m1 0h1m-115 1h1m11 0h1m5 0h1m5 0h1m1 0h1m16 0h2m11 0h1m8 0h1m3 0h1m37 0h1m-75 1h1m51 0h1m36 0h1m-140 1h1m5 0h3m12 0h1m1 0h1m15 0h1m21 0h2m14 0h1m13 0h1m4 0h1m5 0h1m-96 1h1m5 0h1m7 0h1m12 0h1m38 0h1m22 0h2m10 0h2m6 0h1m16 0h1m5 0h1m-124 1h1m12 0h1m15 0h1m13 0h2m18 0h1m5 0h1m13 0h1m9 0h2m7 0h1m3 0h1m9 0h1m-115 1h1m6 0h1m53 0h1m14 0h1m5 0h1m21 0h1m1 0h1m7 0h1m-115 1h1m20 0h1m36 0h1m2 0h1m6 0h1m40 0h1m-83 1h1m20 0h1m10 0h1m10 0h1m9 0h1m-96 1h1m25 0h2m4 0h1m16 0h2m22 0h1m7 0h1m11 0h1m28 0h1m6 0h1m-128 1h1m19 0h1m3 0h1m15 0h1m7 0h1m20 0h2m2 0h1m8 0h1m22 0h1m1 0h1m23 0h1m-112 1h1m19 0h1m7 0h1m33 0h1m10 0h1m10 0h1m3 0h1m11 0h1m12 0h1m-139 1h1m6 0h1m15 0h1m15 0h1m10 0h1m2 0h1m44 0h1m-93 1h1m14 0h1m10 0h1m15 0h1m1 0h1m12 0h2m5 0h1m41 0h1m-87 1h1m6 0h1m12 0h1m14 0h1m6 0h1m6 0h1m1 0h1m24 0h1m5 0h1m27 0h1m1 0h1m-137 1h1m9 0h1m1 0h1m4 0h1m11 0h1m19 0h1m15 0h1m21 0h1m-55 1h1m7 0h1m4 0h1m18 0h2m4 0h1m6 0h1m10 0h1m1 0h1m6 0h1m30 0h1m-129 1h1m8 0h1m3 0h1m15 0h1m9 0h1m1 0h1m11 0h1m2 0h1m17 0h1m6 0h1m9 0h1m8 0h1m-87 1h1m14 0h1m2 0h1m1 0h1m9 0h1m14 0h1m2 0h1m23 0h1m9 0h1m25 0h1m10 0h2m-138 1h1m22 0h2m13 0h1m6 0h2m14 0h1m40 0h1m3 0h2m29 0h1m-138 1h1m40 0h1m16 0h1m11 0h1m4 0h1m10 0h2m27 0h1m-109 1h1m23 0h1m4 0h1m24 0h1m5 0h1m14 0h1m9 0h1m4 0h1m4 0h1m13 0h1m3 0h1m4 0h1m2 0h1m-116 1h1m10 0h1m7 0h1m8 0h1m8 0h1m1 0h1m9 0h1m1 0h1m10 0h1m2 0h1m1 0h1m2 0h1m6 0h1m6 0h1m21 0h1m13 0h1m-115 1h1m26 0h1m7 0h1m1 0h1m1 0h1m3 0h1m27 0h1m47 0h1m-115 1h1m2 0h1m3 0h1m8 0h1m10 0h1m11 0h1m13 0h1m3 0h1m1 0h1m27 0h1m22 0h1m-128 1h1m43 0h1m25 0h1m12 0h1m2 0h1m43 0h1m-111 1h1m31 0h1m3 0h1m32 0h1m3 0h1m5 0h1m17 0h1m12 0h1m-108 1h1m3 0h1m8 0h1m18 0h1m44 0h1m6 0h1m6 0h1m8 0h1m2 0h1"/>
<path stroke="#2c2c2c" d="M22 0.5h1m23 0h1m7 0h1m2 0h1m2 0h1m26 0h1m29 0h1m9 0h1m2 0h1m-109 1h1m7 0h1m21 0h1m10 0h2m8 0h1m1 0h1m17 0h1m6 0h1m22 0h1m1 0h2m12 0h1m-133 1h1m11 0h1m5 0h1m4 0h1m12 0h1m2 0h1m12 0h2m19 0h1m3 0h1m15 0h1m21 0h1m10 0h2m2 0h1m2 0h1m-141 1h1m5 0h1m1 0h1m10 0h1m4 0h1m17 0h1m3 0h1m14 0h2m33 0h1m5 0h2m15 0h1m12 0h1m-132 1h1m2 0h1m4 0h1m3 0h2m33 0h1m6 0h1m15 0h1m15 0h1m21 0h1m-97 1h1m30 0h1m22 0h1m19 0h1m31 0h1m-98 1h1m27 0h1m5 0h1m7 0h1m27 0h1m2 0h1m5 0h1m9 0h1m9 0h1m-121 1h1m16 0h1m29 0h1m26 0h1m30 0h1m14 0h1m-119 1h1m22 0h1m15 0h1m1 0h3m1 0h1m8 0h1m7 0h1m8 0h1m36 0h1m3 0h1m-116 1h1m4 0h2m1 0h2m6 0h1m8 0h1m22 0h1m21 0h2m55 0h1m-115 1h2m17 0h2m9 0h1m4 0h2m52 0h1m1 0h2m11 0h1m-113 1h1m44 0h1m39 0h1m4 0h1m-92 1h1m1 0h1m17 0h1m6 0h1m23 0h1m18 0h1m23 0h1m10 0h2m4 0h1m6 0h2m1 0h1m11 0h1m-138 1h1m31 0h1m36 0h1m12 0h1m4 0h1m19 0h1m7 0h1m7 0h1m3 0h2m-112 1h1m23 0h1m23 0h1m6 0h1m24 0h1m2 0h1m11 0h1m7 0h1m-116 1h1m6 0h1m11 0h1m27 0h1m13 0h1m16 0h1m8 0h2m4 0h1m6 0h2m6 0h1m2 0h2m3 0h1m-122 1h1m2 0h1m15 0h1m38 0h1m5 0h1m22 0h1m5 0h1m14 0h1m1 0h1m29 0h1m-139 1h1m15 0h1m10 0h1m4 0h1m2 0h3m1 0h1m40 0h1m10 0h1m6 0h1m9 0h1m2 0h1m10 0h2m-112 1h1m23 0h1m17 0h1m16 0h1m2 0h1m23 0h1m10 0h1m3 0h1m-113 1h1m7 0h1m6 0h1m10 0h1m1 0h1m33 0h1m2 0h2m10 0h2m12 0h1m9 0h2m4 0h2m15 0h1m-127 1h1m3 0h1m16 0h1m1 0h1m25 0h2m8 0h1m6 0h2m6 0h1m18 0h1m10 0h1m34 0h1m-138 1h2m2 0h1m3 0h1m29 0h2m24 0h1m10 0h2m13 0h1m1 0h1m42 0h1m-129 1h1m2 0h1m15 0h1m12 0h1m43 0h1m3 0h1m3 0h1m12 0h1m13 0h1m12 0h1m2 0h1m-111 1h1m19 0h1m7 0h1m12 0h1m11 0h1m17 0h1m5 0h1m3 0h1m5 0h2m16 0h2m6 0h1m-141 1h1m1 0h1m24 0h1m6 0h1m37 0h1m11 0h1m2 0h1m7 0h1m2 0h1m5 0h1m3 0h1m3 0h1m19 0h1m5 0h1m-109 1h1m12 0h1m12 0h1m5 0h1m18 0h1m6 0h1m7 0h1m3 0h1m21 0h1m1 0h1m-115 1h1m8 0h1m6 0h1m2 0h1m36 0h2m4 0h1m15 0h1m30 0h1m12 0h1m3 0h1m-122 1h1m8 0h1m27 0h2m5 0h1m26 0h1m32 0h1m8 0h1m-119 1h1m6 0h1m5 0h1m17 0h1m2 0h1m8 0h1m9 0h1m9 0h1m23 0h1m9 0h1m32 0h1m-141 1h1m1 0h1m10 0h1m1 0h2m4 0h1m30 0h1m6 0h1m10 0h1m19 0h1m2 0h1m11 0h1m2 0h1m3 0h1m4 0h1m-113 1h1m61 0h1m11 0h1m28 0h1m6 0h1m2 0h1m1 0h1m11 0h1m1 0h1m-123 1h1m8 0h1m1 0h1m5 0h1m4 0h1m16 0h2m9 0h1m23 0h1m24 0h1m9 0h1m17 0h1m-118 1h1m2 0h1m28 0h1m6 0h1m2 0h1m7 0h1m16 0h1m10 0h1m15 0h1m3 0h1m18 0h1m-136 1h1m5 0h1m4 0h1m5 0h1m19 0h1m22 0h1m18 0h1m3 0h2m28 0h1m15 0h1m2 0h1m-132 1h2m1 0h2m26 0h1m7 0h1m33 0h1m3 0h1m5 0h1m1 0h1m9 0h2m21 0h1m16 0h1m-133 1h1m17 0h1m1 0h1m22 0h1m12 0h1m4 0h1m10 0h1m11 0h1m1 0h1m1 0h1m5 0h1m10 0h1m5 0h1m2 0h1m14 0h1m-136 1h2m33 0h1m24 0h1m1 0h1m4 0h1m13 0h1m12 0h1m7 0h1m13 0h1m10 0h1m8 0h1m-120 1h1m14 0h1m7 0h2m5 0h1m5 0h1m4 0h2m18 0h1m17 0h1m28 0h1m2 0h2m7 0h1m-139 1h1m13 0h1m1 0h1m20 0h1m23 0h1m22 0h1m1 0h1m32 0h1m10 0h1m-132 1h2m1 0h1m5 0h1m6 0h1m11 0h1m3 0h1m5 0h1m4 0h1m17 0h1m10 0h1m5 0h1m16 0h1m6 0h1m7 0h1m9 0h1m14 0h1m-136 1h1m25 0h1m10 0h1m4 0h2m2 0h2m21 0h1m15 0h1m34 0h1m5 0h1m-113 1h1m18 0h2m1 0h1m86 0h1m4 0h1m2 0h1m-115 1h1m19 0h1m21 0h1m16 0h1m16 0h1m35 0h1m5 0h1m-119 1h1m6 0h1m4 0h1m9 0h1m7 0h1m8 0h2m36 0h1m18 0h1m7 0h1m2 0h1m6 0h1m-99 1h2m26 0h1m3 0h1m17 0h1m1 0h1m41 0h1m-116 1h1m3 0h1m1 0h1m61 0h1m19 0h1m27 0h1m1 0h2m-113 1h1m14 0h1m4 0h1m21 0h1m21 0h1m9 0h1m1 0h2m7 0h1m8 0h2m25 0h1m-137 1h1m5 0h1m4 0h1m14 0h1m4 0h1m18 0h3m15 0h1m11 0h1m1 0h1m25 0h2m3 0h1m13 0h1m-109 1h1m10 0h1m23 0h1m22 0h1m3 0h1m21 0h1m3 0h1m7 0h1m18 0h1m-129 1h1m12 0h1m1 0h1m3 0h1m9 0h1m18 0h1m18 0h1m16 0h1m12 0h1m2 0h1m13 0h1m3 0h1m7 0h1m-113 1h1m13 0h3m42 0h1m30 0h1m-97 1h1m74 0h1m8 0h1m5 0h1m8 0h2m7 0h1m10 0h1m-138 1h1m6 0h2m2 0h1m90 0h1m1 0h2m1 0h1m5 0h1m1 0h1m16 0h1m-124 1h1m34 0h1m12 0h1m3 0h1m24 0h1m16 0h1m6 0h1m-102 1h1m12 0h1m2 0h1m9 0h1m20 0h1m27 0h1m2 0h2m21 0h1m-110 1h1m8 0h1m7 0h1m4 0h1m3 0h1m23 0h1m1 0h1m41 0h1m2 0h1m5 0h1m4 0h1m29 0h2m-123 1h1m1 0h1m5 0h1m1 0h1m2 0h1m10 0h1m2 0h1m42 0h1m9 0h1m5 0h2m5 0h1m3 0h1m5 0h1m-116 1h1m1 0h1m9 0h1m1 0h1m3 0h1m6 0h1m8 0h2m3 0h1m20 0h1m8 0h1m5 0h1m28 0h1m3 0h2m5 0h1m-90 1h2m19 0h2m19 0h2m3 0h1m1 0h1m6 0h1m5 0h1m4 0h1m6 0h1m8 0h1m1 0h1m10 0h1m-126 1h1m10 0h1m20 0h1m4 0h1m16 0h1m19 0h1m1 0h1m12 0h1m8 0h1m15 0h2m3 0h1m3 0h1m-112 1h1m2 0h1m4 0h1m17 0h1m10 0h1m64 0h1m3 0h1m13 0h1m-126 1h1m1 0h1m8 0h1m13 0h1m4 0h1m52 0h1m6 0h1m6 0h1m9 0h1m12 0h1m4 0h1m-71 1h1m6 0h1m7 0h1m1 0h1m1 0h2m11 0h1m36 0h1m-126 1h1m10 0h1m17 0h1m4 0h1m13 0h1m47 0h1m6 0h1m2 0h1m-98 1h1m8 0h1m4 0h1m7 0h1m6 0h1m25 0h1m14 0h1m5 0h1m1 0h1m2 0h1m21 0h2m16 0h1m-135 1h1m4 0h1m13 0h1m9 0h1m4 0h1m20 0h1m34 0h1m30 0h1m2 0h1m1 0h1m-131 1h1m13 0h1m1 0h1m4 0h1m20 0h2m5 0h1m9 0h2m23 0h1m2 0h1m6 0h1m28 0h1m-121 1h1m7 0h1m1 0h1m6 0h1m5 0h1m13 0h1m19 0h2m67 0h1m7 0h1m-133 1h1m7 0h1m14 0h1m14 0h1m11 0h1m1 0h1m2 0h1m16 0h1m11 0h1m26 0h1m2 0h2m8 0h1m2 0h2m-135 1h1m8 0h1m15 0h1m9 0h1m55 0h1m14 0h1m15 0h1m-121 1h1m4 0h2m99 0h1m26 0h1m-126 1h1m7 0h1m3 0h2m6 0h1m23 0h1m8 0h1m34 0h2m15 0h2m-21 1h1m21 0h1m13 0h1m-96 1h1m5 0h1m9 0h1m38 0h1m13 0h3m4 0h1m20 0h1m4 0h1m-140 1h1m25 0h1m9 0h1m4 0h1m8 0h1m11 0h1m14 0h1m3 0h1m1 0h1m33 0h1m8 0h1m12 0h1m-123 1h1m7 0h1m9 0h1m1 0h1m14 0h1m11 0h1m14 0h1m23 0h1m32 0h1m3 0h1m-124 1h1m13 0h1m29 0h1m30 0h2m10 0h1m7 0h1m-91 1h1m26 0h1m6 0h1m4 0h1m14 0h1m6 0h1m27 0h1m19 0h1m-124 1h2m33 0h1m25 0h1m4 0h1m14 0h1m13 0h2m24 0h1m-129 1h1m14 0h1m39 0h1m14 0h1m20 0h1m1 0h1m18 0h1m1 0h1m20 0h1m-132 1h1m4 0h1m17 0h1m3 0h1m15 0h2m10 0h1m75 0h1m-123 1h1m26 0h1m17 0h1m8 0h1m9 0h1m14 0h1m4 0h1m10 0h1m2 0h1m3 0h1m13 0h1m7 0h1m-123 1h1m8 0h1m2 0h1m12 0h1m19 0h1m2 0h1m1 0h1m29 0h1m5 0h1m6 0h1m12 0h1m9 0h1m3 0h2m-122 1h1m13 0h1m15 0h1m16 0h1m22 0h1m15 0h1m9 0h2m13 0h1m-125 1h1m12 0h1m6 0h1m6 0h1m7 0h1m33 0h1m2 0h1m6 0h1m14 0h1m7 0h1m14 0h1m2 0h1m-123 1h1m14 0h1m14 0h1m1 0h1m14 0h1m1 0h1m48 0h1m10 0h2m8 0h1m4 0h1m9 0h1m3 0h1m-121 1h1m25 0h1m4 0h1m24 0h1m11 0h1m14 0h1m3 0h1m1 0h2m10 0h1m4 0h1m9 0h1m-108 1h1m1 0h1m3 0h2m5 0h1m31 0h1m6 0h1m13 0h1m15 0h1m12 0h1m-112 1h1m1 0h1m7 0h1m5 0h1m4 0h1m5 0h1m21 0h1m5 0h2m7 0h1m15 0h1m1 0h1m16 0h1m1 0h1m1 0h1m17 0h1m3 0h1m-130 1h1m8 0h1m13 0h1m3 0h1m5 0h1m10 0h1m12 0h1m2 0h1m20 0h1m13 0h1m20 0h1m-125 1h1m2 0h1m26 0h1m1 0h1m10 0h1m45 0h1m8 0h1m23 0h1m-123 1h1m9 0h1m2 0h1m12 0h1m6 0h2m2 0h1m9 0h1m25 0h1m22 0h1m2 0h2m13 0h1m12 0h1m-125 1h1m17 0h1m13 0h1m3 0h1m11 0h1m20 0h1m17 0h1m9 0h1m5 0h1m17 0h1m9 0h2m-134 1h1m7 0h1m19 0h1m10 0h1m22 0h1m5 0h1m25 0h2m7 0h2m4 0h1m10 0h1m8 0h3m-112 1h1m4 0h1m2 0h1m20 0h1m10 0h1m5 0h1m17 0h1m14 0h1m3 0h3m2 0h1m26 0h1m-116 1h1m22 0h3m6 0h1m1 0h1m36 0h1m3 0h1m5 0h1m1 0h2m11 0h1m19 0h1m-136 1h1m30 0h1m14 0h1m14 0h1m3 0h1m8 0h4m26 0h1m8 0h1m13 0h2m6 0h1m-137 1h1m7 0h1m5 0h1m35 0h1m3 0h1m16 0h1m3 0h1m31 0h1m9 0h1m11 0h1m-123 1h1m6 0h1m16 0h1m2 0h1m16 0h1m2 0h1m8 0h1m6 0h1m2 0h1m12 0h1m6 0h1m21 0h1m5 0h1m11 0h1m-106 1h1m9 0h1m15 0h1m16 0h1m12 0h1m2 0h1m3 0h1m2 0h1m4 0h2m3 0h1m15 0h1m4 0h1m1 0h1m4 0h1m1 0h1m-133 1h2m2 0h1m12 0h1m8 0h1m11 0h1m1 0h1m6 0h1m22 0h1m1 0h1m16 0h1m14 0h1m23 0h1m4 0h1m-133 1h2m8 0h1m3 0h1m18 0h1m5 0h1m1 0h1m4 0h1m58 0h1m7 0h1m3 0h1m-94 1h1m9 0h2m24 0h1m9 0h1m5 0h1m4 0h1m33 0h1m4 0h1m-115 1h1m14 0h1m1 0h2m5 0h1m1 0h1m20 0h1m6 0h1m5 0h1m9 0h1m4 0h1m25 0h1m3 0h1m1 0h1m-117 1h1m27 0h1m19 0h1m3 0h1m2 0h1m44 0h1m2 0h1m18 0h1m-121 1h2m28 0h1m6 0h1m20 0h1m6 0h1m1 0h1m6 0h1m25 0h1m5 0h1m2 0h1m6 0h1m6 0h1m11 0h2m-132 1h1m23 0h2m3 0h1m1 0h1m28 0h1m5 0h1m25 0h1m10 0h1m8 0h1m13 0h1m3 0h1m-135 1h2m9 0h1m8 0h1m7 0h1m4 0h1m42 0h1m25 0h1m2 0h1m11 0h1m2 0h1m3 0h1m9 0h1m-138 1h1m5 0h1m5 0h1m1 0h1m1 0h1m8 0h1m54 0h1m4 0h1m3 0h1m5 0h1m3 0h1m24 0h1m4 0h1m2 0h1m2 0h1m2 0h1m-136 1h1m14 0h1m7 0h1m1 0h1m11 0h1m13 0h1m5 0h2m6 0h1m7 0h1m8 0h1m3 0h1m18 0h1m6 0h1m-111 1h2m73 0h1m35 0h1m-118 1h1m4 0h1m8 0h1m1 0h1m40 0h1m8 0h1m13 0h1m8 0h1m25 0h1m4 0h2m5 0h1m8 0h1m-137 1h1m1 0h1m3 0h1m5 0h1m21 0h2m7 0h1m9 0h1m13 0h1m27 0h1m31 0h2m2 0h1m4 0h2m-132 1h1m4 0h1m1 0h1m6 0h1m14 0h1m5 0h1m2 0h1m37 0h1m22 0h1m13 0h1m2 0h3m2 0h1m11 0h1m-140 1h1m5 0h1m3 0h1m2 0h1m4 0h1m4 0h1m6 0h2m15 0h1m15 0h1m4 0h1m7 0h1m22 0h1m8 0h1m10 0h1m2 0h2m8 0h1m-113 1h1m6 0h1m3 0h1m13 0h2m14 0h1m13 0h1m20 0h1m11 0h1m6 0h1m9 0h1m11 0h1m-129 1h1m3 0h1m23 0h1m8 0h1m17 0h2m6 0h1m8 0h1m2 0h3m7 0h1m36 0h1m7 0h1m-131 1h1m27 0h1m21 0h1m6 0h1m16 0h1m2 0h1m3 0h1m4 0h1m-95 1h1m1 0h1m4 0h2m7 0h1m8 0h1m51 0h1m4 0h1m3 0h2m30 0h1m18 0h2m-99 1h1m36 0h1m1 0h1m30 0h2m3 0h1m11 0h1m4 0h1m-128 1h1m2 0h1m10 0h1m6 0h1m2 0h1m4 0h1m14 0h1m8 0h1m3 0h1m1 0h1m6 0h2m1 0h1m31 0h1m29 0h1m-135 1h1m6 0h1m3 0h1m9 0h1m2 0h1m12 0h1m8 0h1m14 0h1m7 0h1m16 0h1m9 0h1m2 0h1m3 0h1m5 0h1m23 0h1m-136 1h1m4 0h1m18 0h1m5 0h1m2 0h1m8 0h1m14 0h1m7 0h2m4 0h1m2 0h1m22 0h2m1 0h1m14 0h1m1 0h1m-112 1h1m3 0h3m14 0h1m2 0h1m4 0h1m2 0h1m2 0h1m28 0h1m7 0h1m8 0h1m35 0h1m9 0h1m-126 1h1m2 0h1m9 0h2m6 0h1m32 0h1m30 0h1m1 0h1m-95 1h1m13 0h1m3 0h1m3 0h2m3 0h3m28 0h3m3 0h1m7 0h4m3 0h1m1 0h1m1 0h3m2 0h1m16 0h2m10 0h2m9 0h1m7 0h1m-126 1h1m3 0h1m9 0h1m7 0h1m44 0h1m6 0h1m2 0h1m4 0h1m13 0h1m6 0h1m2 0h1m2 0h1m11 0h1m3 0h1m-140 1h2m3 0h1m11 0h1m13 0h1m1 0h1m21 0h1m12 0h1m12 0h2m6 0h2m4 0h1m35 0h1m-131 1h1m2 0h1m11 0h1m7 0h1m6 0h1m5 0h2m1 0h1m52 0h1m3 0h1m11 0h1m4 0h1m-102 1h1m15 0h1m15 0h1m36 0h2m11 0h1m13 0h1m4 0h1m1 0h1m14 0h1m-131 1h1m7 0h1m22 0h1m15 0h1m2 0h1m3 0h1m16 0h1m21 0h1m4 0h1m11 0h1m6 0h1m9 0h1m9 0h2m-134 1h1m30 0h1m6 0h1m15 0h1m12 0h1m12 0h1m12 0h1m5 0h2m17 0h2m-106 1h1m17 0h1m13 0h2m9 0h1m4 0h1m15 0h1m1 0h1m1 0h1m5 0h1m5 0h1m8 0h2m22 0h1m-127 1h1m18 0h1m3 0h1m1 0h1m4 0h1m7 0h1m7 0h1m14 0h1m15 0h1m27 0h1m10 0h1m2 0h1m-127 1h1m6 0h1m3 0h2m7 0h1m5 0h1m8 0h1m33 0h1m18 0h1m3 0h1m9 0h1m1 0h1m11 0h1m13 0h1m2 0h2m-135 1h1m21 0h1m3 0h1m11 0h1m5 0h1m9 0h2m11 0h1m4 0h2m4 0h1m4 0h1m15 0h1m-96 1h1m11 0h1m4 0h1m4 0h1m3 0h1m1 0h2m1 0h1m1 0h1m5 0h2m52 0h1m7 0h1m1 0h1m6 0h1m5 0h2m3 0h1m11 0h1m-134 1h1m3 0h1m17 0h1m11 0h1m3 0h1m11 0h2m13 0h1m15 0h1m4 0h1m6 0h1m9 0h1m8 0h1m17 0h1m3 0h1m-91 1h1m2 0h1m45 0h1m3 0h2m6 0h1m19 0h1m5 0h1m-129 1h2m9 0h1m13 0h1m13 0h1m15 0h1m26 0h1m10 0h1m8 0h1m1 0h1m14 0h2m5 0h2m-124 1h1m1 0h1m5 0h2m17 0h1m2 0h1m4 0h1m1 0h1m9 0h1m15 0h1m19 0h1m7 0h1m13 0h1m8 0h1m1 0h1m4 0h2m4 0h1"/>
<path stroke="#373737" d="M1 0.5h1m12 0h1m11 0h1m10 0h1m28 0h1m10 0h1m40 0h1m6 0h1m-118 1h1m1 0h1m10 0h1m27 0h1m6 0h1m40 0h1m13 0h1m2 0h1m19 0h1m-130 1h2m29 0h1m2 0h1m2 0h1m20 0h1m5 0h1m6 0h1m17 0h1m2 0h1m-96 1h1m53 0h1m3 0h1m8 0h1m2 0h2m9 0h1m10 0h1m6 0h1m3 0h2m4 0h1m13 0h1m-100 1h1m1 0h1m20 0h1m26 0h1m25 0h1m11 0h1m3 0h1m20 0h1m-140 1h1m23 0h1m8 0h1m41 0h1m10 0h1m13 0h1m29 0h1m-128 1h2m23 0h1m3 0h1m13 0h1m6 0h1m15 0h1m10 0h1m19 0h1m5 0h1m5 0h1m-98 1h1m35 0h1m2 0h1m25 0h1m16 0h1m9 0h1m2 0h1m28 0h1m-132 1h1m25 0h1m5 0h1m2 0h1m38 0h2m11 0h2m16 0h1m2 0h1m11 0h1m6 0h1m-125 1h1m11 0h1m43 0h2m4 0h1m3 0h1m12 0h1m18 0h2m25 0h1m-132 1h1m9 0h1m1 0h1m7 0h1m32 0h1m8 0h1m7 0h1m1 0h1m9 0h1m1 0h2m12 0h1m-101 1h1m3 0h1m21 0h1m13 0h1m4 0h1m17 0h1m30 0h1m6 0h1m4 0h1m28 0h1m-136 1h1m6 0h1m23 0h1m22 0h1m4 0h1m26 0h1m5 0h1m10 0h1m4 0h1m1 0h1m13 0h2m-126 1h1m20 0h1m10 0h1m10 0h1m7 0h1m10 0h1m18 0h1m27 0h2m-108 1h1m4 0h1m12 0h1m4 0h1m15 0h1m5 0h1m29 0h1m12 0h1m4 0h1m18 0h1m10 0h1m-130 1h1m19 0h1m22 0h1m1 0h1m21 0h1m12 0h2m4 0h1m12 0h1m3 0h1m6 0h1m14 0h1m4 0h1m1 0h1m-124 1h1m6 0h1m13 0h1m6 0h1m1 0h1m11 0h1m7 0h1m3 0h1m17 0h2m14 0h2m1 0h1m3 0h1m15 0h1m4 0h1m-114 1h1m2 0h1m3 0h1m5 0h1m25 0h1m10 0h1m24 0h1m2 0h1m32 0h1m11 0h1m-128 1h1m1 0h1m28 0h1m4 0h1m1 0h1m23 0h1m8 0h1m6 0h1m14 0h1m2 0h1m2 0h1m13 0h1m5 0h1m2 0h1m-130 1h1m3 0h1m11 0h1m14 0h1m3 0h1m22 0h1m22 0h1m24 0h2m7 0h1m5 0h1m3 0h1m3 0h1m3 0h1m-135 1h1m9 0h2m5 0h3m21 0h1m4 0h1m7 0h1m16 0h1m2 0h1m14 0h1m5 0h1m28 0h2m-112 1h1m39 0h1m9 0h1m6 0h1m1 0h1m9 0h2m7 0h1m5 0h1m5 0h1m1 0h1m12 0h1m17 0h1m-122 1h1m39 0h1m7 0h1m24 0h1m2 0h1m16 0h1m6 0h1m5 0h1m4 0h1m-121 1h1m1 0h1m4 0h1m2 0h1m1 0h1m2 0h1m8 0h1m9 0h1m20 0h1m1 0h1m18 0h3m2 0h1m1 0h1m6 0h1m12 0h1m1 0h1m12 0h1m1 0h1m-113 1h1m45 0h1m2 0h1m32 0h1m25 0h1m13 0h1m-121 1h1m11 0h1m11 0h2m63 0h1m3 0h1m14 0h1m2 0h2m2 0h1m-118 1h1m1 0h2m12 0h1m1 0h1m9 0h1m7 0h1m47 0h1m1 0h1m16 0h1m16 0h1m1 0h1m-136 1h1m19 0h1m18 0h1m70 0h2m6 0h1m9 0h1m-131 1h1m6 0h1m10 0h1m3 0h1m36 0h1m9 0h1m9 0h1m19 0h1m1 0h1m4 0h1m-99 1h2m4 0h1m3 0h1m47 0h1m5 0h1m9 0h1m5 0h2m6 0h2m8 0h1m25 0h1m6 0h1m-139 1h1m19 0h1m10 0h1m7 0h1m4 0h1m11 0h1m53 0h2m1 0h1m11 0h1m6 0h1m-114 1h1m6 0h1m8 0h1m8 0h1m43 0h1m6 0h1m3 0h1m3 0h1m4 0h1m23 0h1m-131 1h1m1 0h1m7 0h1m18 0h1m1 0h2m19 0h1m4 0h1m7 0h1m2 0h1m13 0h1m8 0h2m11 0h1m13 0h1m8 0h1m-131 1h1m4 0h1m3 0h1m30 0h1m1 0h1m9 0h1m1 0h1m11 0h2m21 0h1m16 0h1m9 0h1m4 0h1m12 0h1m4 0h1m-121 1h2m14 0h1m9 0h1m15 0h1m4 0h1m9 0h2m14 0h1m29 0h1m-111 1h2m10 0h1m6 0h1m5 0h1m16 0h1m19 0h1m2 0h2m21 0h1m10 0h2m14 0h1m2 0h1m-108 1h1m2 0h1m6 0h2m7 0h1m4 0h1m2 0h1m4 0h1m20 0h1m18 0h1m2 0h1m1 0h1m7 0h1m7 0h1m6 0h1m-106 1h1m6 0h1m2 0h1m11 0h1m9 0h1m25 0h2m11 0h1m15 0h1m5 0h1m3 0h1m18 0h1m-126 1h1m38 0h1m40 0h1m37 0h1m11 0h1m-136 1h1m32 0h1m7 0h1m8 0h1m13 0h1m22 0h1m14 0h1m2 0h1m23 0h1m-126 1h1m9 0h1m1 0h1m30 0h1m19 0h1m3 0h1m5 0h1m2 0h1m8 0h1m10 0h1m3 0h1m1 0h1m6 0h1m3 0h1m10 0h1m5 0h1m-109 1h2m5 0h1m5 0h1m11 0h1m22 0h1m16 0h1m16 0h1m2 0h1m1 0h1m3 0h1m3 0h2m3 0h1m5 0h1m-134 1h1m14 0h1m3 0h1m3 0h1m9 0h1m1 0h2m15 0h2m18 0h1m1 0h1m37 0h1m5 0h1m1 0h2m9 0h1m-124 1h1m9 0h1m14 0h1m11 0h1m30 0h1m18 0h1m11 0h2m16 0h1m4 0h1m3 0h2m-131 1h1m18 0h1m2 0h1m7 0h1m6 0h1m33 0h1m14 0h1m12 0h1m1 0h1m20 0h1m8 0h1m-137 1h1m3 0h1m3 0h1m17 0h1m19 0h1m1 0h1m10 0h1m36 0h1m18 0h1m1 0h1m12 0h1m2 0h1m2 0h2m-140 1h1m1 0h1m4 0h1m11 0h1m7 0h1m1 0h1m12 0h1m5 0h1m1 0h1m2 0h3m5 0h1m6 0h1m11 0h1m2 0h2m8 0h1m23 0h1m2 0h1m3 0h1m-115 1h1m5 0h1m1 0h1m17 0h1m3 0h1m1 0h1m9 0h1m8 0h1m15 0h1m4 0h1m1 0h1m16 0h1m7 0h1m3 0h1m1 0h1m4 0h1m-118 1h1m1 0h1m12 0h1m2 0h1m20 0h1m8 0h2m55 0h1m2 0h1m4 0h1m3 0h1m5 0h1m-113 1h1m12 0h1m24 0h1m2 0h1m6 0h3m5 0h1m11 0h1m33 0h1m-109 1h1m11 0h1m8 0h1m30 0h1m11 0h1m50 0h3m4 0h1m-104 1h2m2 0h1m4 0h1m31 0h1m5 0h1m2 0h1m2 0h2m11 0h1m3 0h1m7 0h1m2 0h1m15 0h1m6 0h1m3 0h1m3 0h1m-112 1h1m5 0h1m18 0h3m9 0h1m1 0h1m40 0h1m17 0h1m-109 1h1m13 0h1m5 0h1m12 0h1m1 0h1m7 0h1m1 0h1m10 0h1m1 0h1m9 0h1m6 0h1m14 0h1m4 0h1m1 0h1m7 0h1m9 0h1m-134 1h1m15 0h1m6 0h1m9 0h1m27 0h1m1 0h1m11 0h1m9 0h1m3 0h1m13 0h1m32 0h1m1 0h1m-132 1h1m21 0h2m8 0h1m9 0h1m4 0h1m7 0h1m2 0h1m5 0h2m6 0h1m2 0h1m10 0h1m2 0h1m7 0h1m2 0h1m2 0h1m5 0h2m3 0h2m-97 1h1m10 0h1m23 0h1m5 0h1m7 0h1m4 0h1m5 0h1m40 0h1m-120 1h1m6 0h1m2 0h1m17 0h1m5 0h1m9 0h1m1 0h1m4 0h1m11 0h1m6 0h1m12 0h1m3 0h2m9 0h1m4 0h1m5 0h1m19 0h2m-124 1h1m8 0h1m1 0h1m6 0h1m11 0h2m8 0h1m1 0h1m10 0h1m12 0h1m10 0h1m7 0h1m1 0h1m3 0h1m24 0h1m1 0h2m1 0h2m-123 1h1m7 0h1m4 0h1m2 0h1m1 0h1m19 0h1m6 0h1m1 0h1m11 0h1m2 0h1m23 0h1m1 0h1m18 0h1m-105 1h1m4 0h1m7 0h1m9 0h1m79 0h1m7 0h1m-114 1h1m9 0h1m2 0h2m1 0h1m2 0h1m5 0h1m7 0h1m3 0h1m17 0h1m17 0h2m24 0h1m11 0h2m-110 1h1m2 0h1m5 0h1m16 0h1m4 0h1m16 0h1m21 0h1m14 0h1m25 0h1m-100 1h1m6 0h2m3 0h1m14 0h1m1 0h1m1 0h1m34 0h2m4 0h1m8 0h1m13 0h1m12 0h1m-136 1h1m9 0h1m18 0h1m10 0h1m52 0h1m3 0h1m7 0h1m4 0h1m4 0h1m5 0h1m-106 1h1m4 0h1m4 0h1m6 0h1m5 0h2m15 0h1m19 0h1m12 0h1m5 0h1m21 0h1m-109 1h1m1 0h1m15 0h1m7 0h1m17 0h1m8 0h1m8 0h1m4 0h1m4 0h1m39 0h1m-119 1h1m7 0h1m5 0h1m6 0h1m1 0h1m3 0h1m41 0h1m8 0h1m22 0h1m7 0h2m6 0h1m3 0h1m-130 1h1m1 0h1m22 0h1m6 0h1m2 0h1m2 0h1m2 0h1m3 0h1m1 0h1m12 0h1m23 0h1m6 0h1m11 0h1m25 0h1m-124 1h1m3 0h1m11 0h1m13 0h1m12 0h1m1 0h4m38 0h1m4 0h1m10 0h1m7 0h1m10 0h1m-107 1h1m19 0h1m8 0h4m43 0h2m1 0h1m5 0h1m14 0h1m3 0h2m4 0h3m-132 1h1m8 0h1m18 0h1m16 0h1m9 0h1m25 0h1m25 0h1m3 0h1m17 0h1m2 0h1m-132 1h2m2 0h1m2 0h1m25 0h1m5 0h1m3 0h1m2 0h1m9 0h1m6 0h1m7 0h1m48 0h1m-113 1h1m15 0h1m7 0h1m5 0h1m20 0h1m9 0h1m11 0h1m24 0h1m8 0h1m-116 1h1m18 0h1m8 0h1m18 0h1m1 0h1m11 0h1m2 0h1m26 0h1m4 0h1m23 0h2m3 0h1m-126 1h1m9 0h1m6 0h1m12 0h1m10 0h1m5 0h1m1 0h1m4 0h1m1 0h1m5 0h1m5 0h1m27 0h1m11 0h1m18 0h1m6 0h1m-93 1h1m15 0h1m11 0h1m23 0h3m20 0h1m4 0h1m6 0h1m1 0h1m-129 1h1m9 0h2m13 0h1m5 0h1m1 0h1m3 0h2m2 0h1m57 0h1m16 0h1m14 0h2m-140 1h1m18 0h1m3 0h1m12 0h1m1 0h1m3 0h1m15 0h1m24 0h1m3 0h1m23 0h1m11 0h1m9 0h1m-134 1h1m1 0h1m14 0h2m9 0h1m5 0h1m14 0h1m17 0h1m1 0h1m8 0h1m20 0h1m1 0h2m1 0h1m3 0h2m-73 1h1m2 0h1m2 0h1m3 0h1m5 0h1m32 0h1m1 0h1m11 0h1m8 0h1m28 0h1m-135 1h1m16 0h1m4 0h3m3 0h1m18 0h1m23 0h1m10 0h1m23 0h1m10 0h1m11 0h1m-97 1h1m11 0h1m9 0h1m12 0h1m20 0h1m1 0h1m14 0h1m12 0h2m9 0h1m3 0h1m-138 1h1m6 0h1m5 0h1m7 0h1m6 0h1m1 0h2m1 0h1m6 0h1m9 0h1m2 0h2m1 0h1m1 0h1m12 0h1m1 0h1m29 0h1m10 0h1m3 0h1m15 0h1m-105 1h1m7 0h1m22 0h1m33 0h1m15 0h1m12 0h1m-102 1h1m28 0h1m35 0h1m2 0h1m5 0h1m19 0h1m-110 1h5m3 0h1m2 0h2m58 0h1m41 0h2m6 0h1m-125 1h1m2 0h1m2 0h1m13 0h2m10 0h1m10 0h1m10 0h1m15 0h1m14 0h1m26 0h1m15 0h1m-127 1h1m21 0h2m3 0h1m5 0h1m4 0h1m8 0h1m3 0h1m5 0h1m11 0h1m3 0h1m3 0h1m14 0h1m1 0h1m7 0h1m13 0h2m10 0h1m-135 1h1m4 0h1m7 0h1m10 0h1m5 0h1m1 0h1m3 0h1m12 0h1m7 0h1m12 0h2m3 0h2m3 0h1m4 0h1m12 0h1m4 0h1m10 0h1m4 0h1m1 0h1m9 0h1m2 0h2m1 0h1m-138 1h1m7 0h1m6 0h2m1 0h1m7 0h1m31 0h1m7 0h1m3 0h1m11 0h1m18 0h2m2 0h1m11 0h1m15 0h1m2 0h1m-118 1h1m8 0h1m38 0h1m16 0h1m7 0h2m27 0h1m1 0h1m5 0h1m-110 1h1m8 0h1m1 0h1m18 0h1m18 0h1m31 0h1m3 0h1m4 0h1m4 0h1m11 0h1m-121 1h1m22 0h2m12 0h1m11 0h1m4 0h1m8 0h1m1 0h1m6 0h1m5 0h1m4 0h1m5 0h1m14 0h1m5 0h1m20 0h1m-125 1h1m4 0h1m6 0h1m6 0h1m4 0h1m15 0h1m21 0h1m12 0h1m4 0h1m6 0h2m11 0h1m3 0h4m3 0h1m-121 1h2m3 0h1m3 0h2m57 0h1m7 0h1m28 0h1m2 0h1m7 0h1m8 0h1m7 0h1m-126 1h1m11 0h1m11 0h1m23 0h1m33 0h1m14 0h1m-110 1h1m17 0h1m3 0h1m2 0h1m4 0h1m2 0h1m7 0h2m2 0h1m11 0h1m7 0h1m3 0h1m1 0h1m8 0h1m6 0h1m17 0h1m2 0h1m5 0h2m-74 1h1m1 0h1m25 0h1m7 0h1m5 0h1m27 0h1m21 0h1m1 0h1m-135 1h1m17 0h1m4 0h1m5 0h1m3 0h2m3 0h1m9 0h1m1 0h1m2 0h1m3 0h1m6 0h1m10 0h1m2 0h1m16 0h1m13 0h1m11 0h1m8 0h1m1 0h2m-138 1h1m11 0h1m6 0h1m1 0h1m9 0h3m14 0h1m7 0h1m13 0h1m8 0h1m3 0h2m13 0h1m7 0h1m23 0h1m-120 1h1m9 0h1m1 0h2m4 0h1m46 0h1m10 0h1m2 0h1m37 0h1m3 0h1m5 0h1m-139 1h1m11 0h1m14 0h1m18 0h1m4 0h1m7 0h1m8 0h1m18 0h1m15 0h1m4 0h2m2 0h2m18 0h1m-134 1h1m2 0h1m19 0h1m9 0h1m7 0h1m7 0h1m7 0h1m21 0h1m2 0h1m4 0h2m1 0h1m6 0h1m10 0h1m11 0h1m2 0h1m12 0h1m-124 1h1m15 0h1m2 0h1m9 0h1m19 0h1m1 0h2m4 0h2m3 0h1m2 0h1m4 0h1m7 0h1m1 0h2m5 0h1m22 0h1m6 0h1m4 0h2m2 0h2m-139 1h1m39 0h1m6 0h1m18 0h1m3 0h1m13 0h1m32 0h1m1 0h1m4 0h1m1 0h1m4 0h1m3 0h1m-134 1h1m2 0h1m14 0h1m18 0h1m12 0h1m10 0h1m1 0h1m4 0h1m3 0h1m10 0h1m10 0h1m11 0h1m-110 1h1m6 0h1m15 0h1m11 0h1m3 0h1m1 0h1m1 0h1m2 0h1m5 0h3m22 0h1m10 0h1m8 0h1m1 0h1m5 0h1m5 0h1m7 0h1m12 0h1m-131 1h1m11 0h1m8 0h3m9 0h1m3 0h1m5 0h1m3 0h1m10 0h1m5 0h1m1 0h1m11 0h1m25 0h1m15 0h1m5 0h1m-78 1h1m21 0h1m30 0h2m6 0h2m5 0h1m-103 1h1m17 0h1m2 0h3m4 0h1m26 0h1m3 0h1m8 0h1m6 0h1m3 0h1m6 0h1m4 0h1m6 0h1m7 0h1m14 0h1m-135 1h1m24 0h1m1 0h1m5 0h1m14 0h1m19 0h1m12 0h1m2 0h1m8 0h1m19 0h1m8 0h1m8 0h1m-126 1h1m14 0h1m16 0h1m8 0h1m20 0h1m3 0h1m42 0h2m1 0h2m9 0h2m-136 1h1m3 0h1m39 0h1m9 0h1m9 0h1m6 0h1m6 0h1m7 0h1m7 0h1m23 0h1m10 0h1m6 0h1m-116 1h1m7 0h1m9 0h1m1 0h1m4 0h1m24 0h1m4 0h1m28 0h1m7 0h1m16 0h1m3 0h1m4 0h1m-139 1h2m8 0h1m15 0h1m11 0h1m2 0h1m21 0h1m26 0h1m14 0h1m1 0h1m15 0h1m6 0h1m-130 1h1m14 0h1m1 0h1m5 0h1m6 0h1m10 0h1m2 0h1m34 0h1m11 0h1m2 0h1m8 0h2m8 0h1m-109 1h1m11 0h1m3 0h1m2 0h1m1 0h2m7 0h1m3 0h1m19 0h1m10 0h1m8 0h1m4 0h1m2 0h1m10 0h1m24 0h1m1 0h1m-125 1h1m3 0h1m5 0h2m16 0h1m6 0h1m2 0h1m12 0h1m16 0h1m11 0h1m6 0h1m1 0h1m-75 1h1m1 0h2m3 0h1m6 0h1m1 0h2m3 0h1m27 0h1m1 0h1m2 0h1m13 0h2m18 0h1m3 0h1m10 0h1m8 0h1m4 0h1m1 0h1m-132 1h1m2 0h1m1 0h1m3 0h1m22 0h1m4 0h1m2 0h1m3 0h1m16 0h1m11 0h1m2 0h1m8 0h1m21 0h1m4 0h1m4 0h1m13 0h1m-133 1h1m1 0h1m5 0h1m8 0h1m8 0h1m12 0h2m20 0h1m7 0h1m7 0h1m22 0h1m12 0h1m6 0h1m3 0h1m5 0h1m-121 1h1m9 0h1m1 0h1m1 0h1m3 0h1m3 0h1m3 0h1m9 0h1m14 0h1m7 0h2m3 0h2m1 0h1m15 0h1m14 0h1m11 0h1m11 0h1m1 0h1m-109 1h1m1 0h1m7 0h1m2 0h1m5 0h2m1 0h1m11 0h1m3 0h1m1 0h1m2 0h1m3 0h1m4 0h2m15 0h1m4 0h1m34 0h1m-140 1h1m4 0h1m1 0h1m3 0h1m25 0h1m1 0h1m2 0h2m6 0h1m3 0h1m21 0h1m2 0h1m1 0h1m11 0h1m24 0h1m9 0h1m6 0h1m-137 1h1m5 0h1m13 0h1m12 0h1m1 0h1m5 0h1m39 0h1m1 0h1m16 0h1m34 0h1m-130 1h1m20 0h1m10 0h1m8 0h1m14 0h1m3 0h2m9 0h1m4 0h1m6 0h1m7 0h1m32 0h1m2 0h1m-125 1h2m11 0h1m13 0h1m2 0h2m8 0h1m21 0h2m6 0h1m21 0h1m11 0h1m21 0h1m-134 1h1m14 0h1m8 0h1m1 0h1m14 0h1m7 0h1m9 0h1m1 0h1m12 0h1m18 0h1m6 0h1m2 0h1m20 0h1m12 0h1m-116 1h1m17 0h1m7 0h1m26 0h1m18 0h1m5 0h1m1 0h1m20 0h1m1 0h1m1 0h1m7 0h1m-132 1h2m3 0h1m17 0h1m8 0h1m2 0h1m21 0h1m9 0h1m7 0h1m4 0h1m2 0h1m2 0h1m12 0h1m9 0h1m13 0h1m-120 1h1m8 0h1m12 0h1m42 0h1m1 0h1m9 0h1m13 0h1m2 0h1m-105 1h1m3 0h1m9 0h1m7 0h1m6 0h1m39 0h1m2 0h1m22 0h1m3 0h1m12 0h1m9 0h1m14 0h1m-127 1h1m32 0h1m11 0h1m1 0h1m8 0h1m13 0h1m9 0h1m10 0h1m7 0h1m10 0h1m2 0h1m12 0h1m-136 1h1m1 0h1m11 0h1m4 0h1m2 0h2m4 0h1m10 0h1m4 0h1m4 0h1m15 0h1m8 0h1m23 0h1m10 0h1m3 0h1m-111 1h1m24 0h2m14 0h1m41 0h2m4 0h1m11 0h1m14 0h1m1 0h1m2 0h2m7 0h1m1 0h1m-116 1h1m6 0h1m8 0h1m3 0h1m8 0h1m36 0h1m6 0h1m2 0h3m5 0h1m11 0h1m11 0h1m3 0h1m-115 1h1m6 0h1m6 0h1m4 0h1m8 0h1m14 0h1m4 0h1m2 0h1m2 0h1m21 0h1m-96 1h2m4 0h1m6 0h1m5 0h1m2 0h1m2 0h1m11 0h1m2 0h1m20 0h1m17 0h1m9 0h1m14 0h1m7 0h1m26 0h1m-132 1h2m9 0h2m9 0h1m3 0h1m5 0h2m1 0h1m3 0h1m1 0h1m1 0h1m3 0h1m9 0h1m70 0h1m2 0h1m-135 1h1m5 0h1m3 0h1m23 0h1m26 0h1m22 0h2m3 0h1m1 0h1m6 0h1m12 0h1m11 0h1m7 0h1"/>
<path stroke="#434343" d="M21 0.5h1m1 0h1m1 0h1m25 0h1m38 0h1m6 0h1m2 0h1m-98 1h1m27 0h1m7 0h1m21 0h1m5 0h1m8 0h1m3 0h1m11 0h1m1 0h1m13 0h1m1 0h1m7 0h1m5 0h1m-125 1h2m32 0h1m12 0h1m13 0h1m6 0h1m1 0h1m14 0h1m16 0h1m6 0h1m3 0h1m24 0h1m-138 1h1m8 0h1m52 0h1m11 0h2m5 0h1m9 0h2m-92 1h2m6 0h2m27 0h1m29 0h1m-62 1h1m14 0h1m24 0h1m20 0h1m1 0h1m5 0h1m5 0h1m15 0h1m16 0h1m11 0h1m5 0h1m4 0h1m-135 1h2m41 0h1m19 0h1m5 0h2m2 0h1m14 0h1m22 0h1m15 0h1m-130 1h1m1 0h1m20 0h1m3 0h1m11 0h1m10 0h1m1 0h1m7 0h1m9 0h2m7 0h1m19 0h1m5 0h1m-96 1h2m5 0h2m1 0h1m6 0h1m10 0h1m7 0h2m3 0h1m11 0h1m5 0h1m6 0h1m25 0h1m4 0h1m6 0h2m5 0h1m7 0h1m-84 1h1m1 0h1m6 0h1m27 0h1m25 0h1m10 0h1m11 0h1m-135 1h1m7 0h1m10 0h1m8 0h1m26 0h1m11 0h1m7 0h1m2 0h1m5 0h1m7 0h1m5 0h1m-91 1h1m21 0h1m17 0h1m4 0h1m2 0h1m9 0h1m1 0h1m38 0h1m5 0h1m16 0h1m8 0h1m-140 1h1m10 0h1m1 0h1m34 0h1m15 0h1m9 0h1m3 0h1m7 0h1m11 0h1m5 0h1m6 0h1m-109 1h1m4 0h1m1 0h1m19 0h1m25 0h1m4 0h1m13 0h1m17 0h1m19 0h1m6 0h1m4 0h1m-94 1h1m20 0h1m7 0h1m24 0h1m15 0h1m3 0h1m11 0h1m2 0h1m9 0h1m-122 1h1m7 0h1m3 0h1m20 0h1m1 0h1m22 0h1m12 0h1m17 0h1m3 0h1m9 0h1m4 0h1m9 0h1m7 0h1m-125 1h2m18 0h1m4 0h1m11 0h1m4 0h1m14 0h1m15 0h1m5 0h1m8 0h1m3 0h1m3 0h1m24 0h1m-134 1h1m2 0h1m4 0h3m21 0h1m22 0h1m14 0h1m17 0h1m18 0h1m7 0h1m1 0h1m2 0h1m-121 1h1m1 0h1m1 0h1m9 0h1m1 0h1m22 0h1m10 0h1m5 0h1m44 0h1m2 0h1m4 0h1m7 0h3m3 0h1m3 0h1m5 0h1m5 0h1m-134 1h1m15 0h1m36 0h1m3 0h1m6 0h3m1 0h1m11 0h1m7 0h1m5 0h1m7 0h1m10 0h1m17 0h1m-123 1h1m25 0h1m16 0h1m3 0h1m5 0h2m7 0h1m33 0h1m9 0h1m-114 1h1m15 0h1m5 0h1m1 0h1m1 0h1m4 0h1m8 0h1m26 0h1m5 0h1m6 0h2m6 0h1m16 0h1m16 0h1m3 0h1m-129 1h1m1 0h1m4 0h2m1 0h1m17 0h1m26 0h1m2 0h1m11 0h1m6 0h1m3 0h1m7 0h1m8 0h1m6 0h1m6 0h1m20 0h1m-133 1h1m11 0h1m9 0h1m14 0h1m29 0h1m15 0h1m7 0h1m18 0h1m5 0h1m1 0h1m-116 1h2m3 0h1m2 0h1m5 0h1m2 0h1m3 0h1m5 0h1m23 0h2m13 0h1m8 0h1m6 0h1m12 0h1m9 0h1m8 0h1m1 0h1m6 0h1m-122 1h1m4 0h1m3 0h2m2 0h1m4 0h1m4 0h1m1 0h2m5 0h1m25 0h1m23 0h1m8 0h1m12 0h1m2 0h1m2 0h1m3 0h1m6 0h1m2 0h1m-131 1h1m22 0h1m22 0h1m14 0h1m9 0h1m12 0h1m3 0h2m7 0h1m5 0h1m1 0h1m4 0h1m21 0h1m-131 1h1m22 0h1m33 0h1m14 0h1m20 0h1m4 0h1m-105 1h1m5 0h1m27 0h1m11 0h1m33 0h1m6 0h1m11 0h1m13 0h1m1 0h1m9 0h1m8 0h1m1 0h1m-139 1h1m2 0h1m2 0h1m15 0h1m5 0h1m10 0h1m7 0h1m1 0h1m12 0h1m3 0h2m10 0h1m1 0h1m9 0h1m8 0h1m3 0h1m2 0h1m10 0h1m5 0h2m14 0h1m-128 1h2m1 0h1m3 0h1m1 0h1m4 0h4m19 0h1m8 0h1m4 0h1m17 0h1m12 0h1m6 0h1m4 0h1m31 0h1m-135 1h1m3 0h1m6 0h1m5 0h1m17 0h1m47 0h1m3 0h1m1 0h1m22 0h1m8 0h1m4 0h1m8 0h1m-140 1h1m14 0h1m20 0h1m8 0h1m16 0h1m1 0h1m7 0h1m4 0h1m13 0h1m15 0h1m4 0h1m9 0h1m-116 1h1m5 0h1m36 0h1m10 0h2m9 0h1m1 0h1m5 0h1m3 0h1m4 0h1m2 0h1m4 0h2m8 0h1m3 0h1m10 0h1m16 0h1m-138 1h1m8 0h1m8 0h1m4 0h1m14 0h1m4 0h1m25 0h1m6 0h1m13 0h1m26 0h1m4 0h1m9 0h1m2 0h1m-105 1h1m10 0h1m2 0h1m3 0h2m6 0h2m8 0h1m10 0h1m5 0h1m2 0h1m23 0h1m2 0h2m2 0h1m6 0h1m-107 1h1m4 0h1m8 0h1m7 0h1m11 0h1m2 0h3m1 0h1m3 0h1m4 0h1m2 0h1m21 0h1m4 0h1m6 0h1m1 0h1m2 0h1m5 0h1m5 0h1m7 0h1m2 0h1m-136 1h1m12 0h1m1 0h1m8 0h1m30 0h1m9 0h1m35 0h1m2 0h1m7 0h1m-115 1h1m7 0h1m16 0h1m11 0h1m14 0h1m7 0h1m4 0h1m5 0h1m47 0h1m1 0h2m6 0h1m3 0h1m6 0h1m-133 1h1m20 0h3m4 0h1m18 0h2m5 0h1m1 0h1m2 0h1m1 0h1m1 0h1m36 0h1m15 0h1m7 0h1m1 0h1m4 0h1m-129 1h1m13 0h1m30 0h2m3 0h1m5 0h1m34 0h1m3 0h1m15 0h1m-121 1h2m35 0h1m6 0h1m72 0h1m-104 1h1m3 0h1m2 0h1m3 0h1m18 0h1m2 0h1m1 0h1m9 0h1m48 0h1m14 0h1m2 0h1m-122 1h1m17 0h1m4 0h2m17 0h1m8 0h1m41 0h1m6 0h1m-103 1h1m9 0h1m5 0h1m10 0h1m18 0h1m7 0h1m13 0h1m6 0h1m3 0h1m15 0h1m23 0h1m3 0h1m-129 1h1m14 0h1m18 0h1m32 0h2m6 0h1m10 0h1m3 0h1m3 0h1m1 0h1m11 0h1m16 0h1m-102 1h3m20 0h1m5 0h1m17 0h1m8 0h1m5 0h1m21 0h1m1 0h1m12 0h1m4 0h1m10 0h1m-138 1h1m10 0h1m4 0h1m6 0h1m8 0h1m24 0h1m35 0h1m1 0h1m9 0h1m10 0h1m-112 1h1m6 0h2m2 0h1m63 0h1m20 0h1m2 0h1m13 0h1m12 0h1m-112 1h1m1 0h1m15 0h1m11 0h1m14 0h1m8 0h1m4 0h1m3 0h1m28 0h2m21 0h2m-139 1h1m15 0h2m47 0h1m5 0h1m2 0h1m7 0h1m4 0h1m8 0h1m4 0h2m3 0h1m3 0h1m7 0h2m3 0h1m6 0h1m6 0h1m-132 1h1m9 0h2m8 0h1m33 0h1m1 0h1m27 0h1m28 0h1m4 0h1m-124 1h1m12 0h1m3 0h1m1 0h2m14 0h1m8 0h1m5 0h1m6 0h1m3 0h1m2 0h1m12 0h2m10 0h1m6 0h3m24 0h1m6 0h1m-130 1h1m18 0h1m34 0h1m23 0h1m19 0h1m32 0h1m-120 1h1m13 0h1m1 0h1m6 0h1m2 0h1m1 0h1m9 0h1m21 0h1m16 0h1m14 0h1m8 0h1m7 0h2m4 0h1m3 0h1m-112 1h1m9 0h1m10 0h1m2 0h1m14 0h1m19 0h1m3 0h1m10 0h1m3 0h1m23 0h1m10 0h1m-123 1h1m11 0h1m14 0h1m5 0h1m7 0h2m19 0h1m18 0h2m13 0h1m6 0h1m6 0h1m9 0h1m4 0h2m-135 1h1m11 0h1m29 0h1m17 0h1m14 0h1m2 0h1m22 0h1m1 0h1m18 0h1m4 0h1m-133 1h1m2 0h1m8 0h1m6 0h3m8 0h1m11 0h1m21 0h2m18 0h1m15 0h1m11 0h1m9 0h1m8 0h1m1 0h1m-115 1h2m12 0h1m12 0h1m5 0h1m11 0h1m1 0h1m2 0h1m13 0h2m1 0h1m16 0h1m27 0h1m-126 1h1m33 0h1m5 0h1m6 0h1m7 0h1m12 0h2m3 0h1m2 0h1m14 0h1m6 0h1m5 0h1m2 0h1m4 0h1m10 0h1m-112 1h1m1 0h1m11 0h1m1 0h1m3 0h1m4 0h1m12 0h1m4 0h1m1 0h1m3 0h1m15 0h1m34 0h1m12 0h1m7 0h1m-124 1h1m5 0h1m3 0h1m15 0h1m20 0h1m3 0h1m7 0h1m26 0h1m4 0h1m6 0h1m8 0h1m11 0h1m-133 1h1m4 0h1m9 0h1m47 0h1m13 0h1m30 0h1m4 0h1m5 0h1m16 0h1m-117 1h1m6 0h1m2 0h1m9 0h1m12 0h1m2 0h1m3 0h1m44 0h1m8 0h1m22 0h1m-135 1h1m16 0h1m1 0h1m48 0h1m23 0h1m2 0h1m9 0h1m-106 1h1m3 0h1m1 0h1m42 0h1m24 0h1m1 0h1m1 0h1m18 0h2m10 0h1m6 0h1m7 0h1m4 0h1m-135 1h1m5 0h1m31 0h1m6 0h1m11 0h1m1 0h1m14 0h1m2 0h1m10 0h1m18 0h1m1 0h1m28 0h1m-139 1h1m3 0h1m3 0h1m3 0h1m4 0h1m3 0h2m22 0h1m2 0h1m5 0h1m9 0h1m15 0h2m3 0h1m1 0h2m4 0h1m9 0h1m19 0h1m-121 1h1m3 0h1m3 0h1m1 0h1m5 0h1m5 0h1m13 0h1m51 0h1m1 0h1m4 0h2m13 0h1m10 0h1m11 0h1m-129 1h1m19 0h1m11 0h1m44 0h3m42 0h1m-131 1h1m11 0h1m14 0h1m13 0h1m8 0h1m34 0h1m7 0h1m1 0h1m7 0h1m-98 1h1m2 0h1m1 0h1m7 0h1m2 0h1m10 0h1m18 0h1m2 0h1m16 0h1m4 0h1m10 0h1m5 0h1m3 0h1m9 0h3m1 0h1m9 0h1m7 0h1m7 0h1m-125 1h1m7 0h1m9 0h1m11 0h1m2 0h1m9 0h1m6 0h1m8 0h1m12 0h1m8 0h1m15 0h1m7 0h1m1 0h2m7 0h1m3 0h1m-134 1h1m9 0h1m29 0h1m4 0h1m7 0h1m18 0h1m12 0h1m1 0h1m8 0h1m4 0h1m3 0h1m4 0h1m3 0h1m5 0h1m7 0h1m2 0h1m4 0h1m-127 1h1m5 0h1m5 0h1m1 0h1m4 0h1m6 0h1m7 0h1m2 0h2m3 0h2m6 0h1m11 0h2m48 0h1m1 0h1m1 0h1m-125 1h1m2 0h1m31 0h1m17 0h1m27 0h1m4 0h1m23 0h1m19 0h1m-121 1h1m26 0h1m1 0h1m2 0h1m35 0h1m20 0h1m5 0h1m4 0h1m15 0h1m2 0h1m-123 1h1m4 0h1m20 0h1m17 0h1m15 0h1m1 0h1m12 0h1m-83 1h1m40 0h2m12 0h1m6 0h1m20 0h1m7 0h1m7 0h1m26 0h1m-127 1h1m1 0h1m5 0h2m5 0h1m5 0h1m8 0h1m4 0h1m36 0h1m16 0h1m2 0h1m1 0h1m7 0h1m4 0h1m8 0h1m13 0h1m-129 1h1m6 0h1m17 0h1m4 0h1m17 0h1m5 0h1m6 0h1m20 0h2m1 0h2m1 0h1m20 0h1m-112 1h1m9 0h1m27 0h2m1 0h1m9 0h1m9 0h1m26 0h1m14 0h1m32 0h1m-137 1h1m4 0h1m18 0h1m7 0h1m57 0h2m9 0h1m11 0h1m18 0h3m1 0h1m-140 1h1m2 0h1m2 0h1m5 0h1m20 0h1m10 0h1m6 0h1m1 0h1m3 0h1m2 0h1m9 0h1m39 0h1m4 0h1m4 0h1m7 0h1m5 0h1m-128 1h2m3 0h1m6 0h1m5 0h1m12 0h1m6 0h2m9 0h1m23 0h1m20 0h1m4 0h1m5 0h2m13 0h1m-121 1h1m7 0h1m9 0h2m8 0h1m10 0h1m50 0h1m2 0h1m10 0h1m2 0h2m10 0h2m-127 1h1m7 0h1m3 0h2m6 0h1m1 0h1m4 0h1m6 0h1m2 0h2m1 0h1m18 0h1m30 0h2m1 0h1m2 0h2m7 0h1m1 0h1m7 0h1m8 0h1m8 0h1m-118 1h1m7 0h1m5 0h1m5 0h1m3 0h1m2 0h1m23 0h1m12 0h1m10 0h1m12 0h1m10 0h2m4 0h1m16 0h1m-114 1h1m25 0h1m6 0h1m18 0h1m4 0h1m17 0h1m1 0h1m1 0h2m14 0h1m-99 1h1m1 0h1m11 0h2m17 0h1m6 0h1m9 0h1m10 0h1m4 0h1m18 0h1m6 0h1m-105 1h1m2 0h1m2 0h3m14 0h1m4 0h1m26 0h2m6 0h1m4 0h1m10 0h1m16 0h1m1 0h1m8 0h1m8 0h2m-129 1h1m11 0h1m45 0h1m6 0h2m7 0h1m9 0h1m30 0h1m21 0h1m-126 1h1m20 0h1m1 0h1m10 0h2m3 0h1m20 0h1m16 0h1m12 0h1m-78 1h1m25 0h1m19 0h1m19 0h1m9 0h1m10 0h1m15 0h1m2 0h1m2 0h1m-125 1h1m16 0h1m12 0h2m6 0h2m1 0h1m4 0h1m27 0h1m2 0h1m28 0h1m9 0h1m-105 1h1m2 0h1m11 0h1m18 0h1m3 0h1m11 0h1m18 0h1m9 0h1m1 0h1m8 0h1m6 0h1m-107 1h1m11 0h1m26 0h1m27 0h1m5 0h1m15 0h1m8 0h1m9 0h1m16 0h1m-139 1h1m8 0h1m6 0h1m9 0h1m6 0h1m2 0h1m2 0h1m14 0h1m1 0h1m10 0h1m1 0h2m27 0h1m4 0h1m14 0h1m7 0h1m-126 1h1m18 0h1m4 0h1m6 0h1m36 0h1m37 0h1m3 0h1m4 0h1m3 0h1m-116 1h1m29 0h1m8 0h2m17 0h1m1 0h1m1 0h2m24 0h1m8 0h1m1 0h1m15 0h1m2 0h2m3 0h1m3 0h1m-123 1h1m15 0h2m34 0h1m5 0h1m2 0h1m7 0h1m14 0h1m4 0h1m4 0h1m8 0h1m10 0h1m6 0h1m2 0h1m2 0h1m-129 1h1m1 0h1m10 0h1m1 0h1m32 0h1m8 0h1m16 0h1m5 0h1m1 0h1m6 0h1m8 0h1m9 0h1m2 0h1m16 0h1m-129 1h1m16 0h1m3 0h1m8 0h1m6 0h1m2 0h1m12 0h1m4 0h2m4 0h2m2 0h1m5 0h1m7 0h1m5 0h1m15 0h1m10 0h1m5 0h1m1 0h2m-127 1h2m2 0h1m5 0h1m24 0h1m5 0h1m2 0h2m2 0h1m12 0h1m9 0h1m1 0h1m2 0h1m10 0h1m11 0h1m5 0h1m3 0h2m7 0h2m-116 1h1m19 0h1m32 0h1m9 0h1m5 0h1m9 0h1m5 0h1m4 0h1m32 0h1m-131 1h1m33 0h1m22 0h2m2 0h1m19 0h1m3 0h1m20 0h1m10 0h1m6 0h1m8 0h1m1 0h1m-141 1h1m3 0h1m23 0h1m17 0h1m13 0h1m4 0h1m2 0h1m2 0h1m2 0h1m2 0h1m12 0h1m36 0h1m6 0h1m-134 1h1m17 0h2m1 0h1m11 0h1m28 0h1m9 0h1m1 0h1m3 0h2m9 0h1m9 0h1m7 0h1m1 0h1m14 0h1m-126 1h1m5 0h4m4 0h1m11 0h1m7 0h1m26 0h1m18 0h1m13 0h1m2 0h1m20 0h1m2 0h1m13 0h1m-136 1h1m9 0h1m8 0h1m3 0h1m2 0h1m3 0h1m16 0h2m1 0h1m4 0h1m7 0h1m1 0h2m25 0h1m6 0h2m12 0h1m3 0h1m1 0h1m12 0h2m1 0h1m2 0h1m1 0h1m-123 1h1m21 0h1m4 0h1m14 0h2m1 0h1m32 0h1m16 0h1m6 0h1m3 0h1m13 0h1m-115 1h1m8 0h1m4 0h1m44 0h1m5 0h1m8 0h1m-73 1h1m60 0h2m10 0h1m2 0h1m19 0h1m8 0h1m5 0h1m-135 1h1m11 0h1m1 0h1m20 0h1m4 0h1m1 0h1m1 0h1m32 0h1m11 0h1m8 0h1m6 0h1m23 0h1m4 0h2m-135 1h1m10 0h1m4 0h1m4 0h1m15 0h1m36 0h1m8 0h1m2 0h1m3 0h3m17 0h1m12 0h1m1 0h1m3 0h1m-108 1h1m1 0h1m10 0h1m24 0h1m2 0h1m30 0h1m9 0h1m1 0h2m11 0h1m4 0h1m1 0h1m-125 1h1m20 0h1m62 0h1m28 0h2m2 0h1m4 0h1m1 0h1m-106 1h1m47 0h1m13 0h1m5 0h1m1 0h1m2 0h2m4 0h1m21 0h2m2 0h1m6 0h1m-135 1h1m47 0h1m12 0h1m3 0h1m2 0h1m42 0h1m24 0h1m-140 1h1m22 0h1m5 0h1m3 0h2m40 0h1m7 0h1m20 0h1m16 0h1m14 0h1m-134 1h1m12 0h1m20 0h1m13 0h2m5 0h1m17 0h1m15 0h1m13 0h1m3 0h3m15 0h1m4 0h2m1 0h1m3 0h1m-136 1h2m1 0h1m4 0h1m6 0h1m19 0h1m11 0h1m8 0h1m2 0h2m17 0h2m8 0h1m10 0h3m31 0h1m-135 1h1m15 0h1m4 0h1m21 0h1m10 0h1m1 0h1m12 0h1m3 0h1m18 0h1m-81 1h1m11 0h2m15 0h1m6 0h2m11 0h1m2 0h2m46 0h1m16 0h1m-132 1h1m6 0h1m3 0h1m1 0h2m11 0h1m16 0h1m9 0h1m2 0h1m20 0h1m14 0h1m6 0h1m23 0h1m2 0h1m5 0h1m-134 1h1m13 0h1m4 0h1m2 0h1m7 0h1m8 0h1m9 0h1m21 0h1m5 0h1m28 0h2m28 0h1m-136 1h1m32 0h1m12 0h1m7 0h1m6 0h1m6 0h1m12 0h1m2 0h1m6 0h2m1 0h1m11 0h1m6 0h1m5 0h1m7 0h2m-119 1h1m12 0h1m3 0h1m6 0h1m7 0h1m2 0h1m8 0h1m5 0h1m2 0h1m5 0h1m1 0h1m6 0h1m5 0h1m7 0h1m34 0h1m3 0h1m-134 1h1m5 0h2m13 0h2m10 0h1m3 0h2m13 0h3m9 0h1m8 0h1m60 0h1m4 0h1m-138 1h1m21 0h1m9 0h1m9 0h1m13 0h1m3 0h1m1 0h1m15 0h1m1 0h1m5 0h1m2 0h1m27 0h1m5 0h1m5 0h1m1 0h1m2 0h2m2 0h1m-137 1h1m21 0h2m2 0h1m8 0h1m3 0h1m13 0h2m5 0h1m11 0h1m3 0h1m4 0h1m10 0h1m1 0h1m8 0h1m6 0h1m3 0h1m9 0h1m4 0h1m-111 1h1m27 0h1m2 0h2m9 0h1m4 0h1m7 0h1m3 0h1m2 0h1m15 0h2m10 0h1m26 0h1m-141 1h1m45 0h1m1 0h1m2 0h1m5 0h1m4 0h1m7 0h1m4 0h1m1 0h1m11 0h1m2 0h1m10 0h1m21 0h1m8 0h1m3 0h1m1 0h1m-140 1h1m7 0h1m5 0h1m15 0h1m2 0h1m3 0h2m19 0h1m29 0h1m50 0h1m-137 1h1m1 0h2m4 0h1m47 0h1m3 0h1m22 0h1m12 0h2m3 0h1m7 0h1m-104 1h1m2 0h1m5 0h1m25 0h1m8 0h1m3 0h1m1 0h1m7 0h1m8 0h1m5 0h2m43 0h1m-114 1h1m5 0h1m7 0h1m1 0h1m5 0h1m11 0h1m1 0h1m6 0h1m2 0h2m12 0h1m7 0h1m10 0h2m4 0h1m3 0h1m4 0h1m4 0h1m21 0h1m-132 1h1m18 0h1m2 0h1m5 0h1m8 0h1m10 0h1m10 0h1m17 0h1m1 0h1m27 0h1m2 0h1m7 0h1m1 0h1m6 0h1m1 0h1m1 0h1m2 0h1m-138 1h1m8 0h1m4 0h2m4 0h1m28 0h1m9 0h1m1 0h1m6 0h1m13 0h1m36 0h1m-112 1h1m7 0h1m7 0h1m9 0h1m8 0h1m11 0h1m6 0h1m1 0h1m1 0h1m16 0h2m22 0h1m4 0h1m25 0h1"/>
<path stroke="#595959" d="M5 0.5h1m10 0h1m3 0h1m10 0h1m7 0h1m2 0h1m6 0h1m5 0h1m6 0h2m5 0h1m12 0h1m13 0h1m11 0h1m17 0h1m1 0h1m-113 1h1m1 0h1m6 0h2m6 0h1m7 0h2m2 0h2m1 0h1m6 0h1m9 0h1m22 0h1m9 0h1m2 0h1m-90 1h1m4 0h1m10 0h1m23 0h2m2 0h1m8 0h1m6 0h1m37 0h1m3 0h1m3 0h1m2 0h1m2 0h1m-122 1h1m24 0h1m6 0h2m29 0h1m14 0h1m3 0h1m18 0h1m3 0h1m11 0h1m12 0h1m2 0h1m2 0h2m-134 1h1m16 0h1m6 0h1m14 0h1m5 0h2m31 0h1m13 0h1m3 0h1m8 0h1m20 0h1m-131 1h1m6 0h1m1 0h1m13 0h1m18 0h1m10 0h1m7 0h1m3 0h1m3 0h1m6 0h1m12 0h1m2 0h1m18 0h1m-113 1h1m30 0h1m8 0h1m12 0h1m35 0h1m15 0h1m2 0h1m22 0h1m3 0h1m-136 1h1m26 0h1m3 0h2m6 0h1m2 0h1m2 0h1m2 0h1m6 0h2m32 0h1m6 0h2m1 0h1m28 0h1m-131 1h1m9 0h1m5 0h1m16 0h1m27 0h2m13 0h1m4 0h1m2 0h1m4 0h1m4 0h1m3 0h1m7 0h1m1 0h1m12 0h1m11 0h1m6 0h1m-139 1h1m1 0h1m14 0h1m46 0h1m8 0h1m8 0h1m4 0h1m13 0h1m10 0h2m12 0h1m11 0h1m-137 1h1m23 0h1m1 0h1m14 0h1m9 0h1m27 0h1m22 0h1m1 0h2m19 0h1m10 0h1m-101 1h1m24 0h1m9 0h1m9 0h1m5 0h1m4 0h1m18 0h1m2 0h1m-117 1h1m8 0h1m9 0h1m21 0h1m8 0h1m24 0h1m10 0h1m30 0h2m-102 1h1m13 0h1m9 0h1m28 0h1m6 0h1m31 0h1m6 0h3m10 0h1m5 0h1m-130 1h1m1 0h1m1 0h1m6 0h1m7 0h1m2 0h1m16 0h1m15 0h1m20 0h1m17 0h1m10 0h1m2 0h1m16 0h1m-130 1h1m29 0h1m25 0h2m1 0h1m6 0h1m2 0h1m2 0h1m14 0h1m34 0h2m-117 1h1m10 0h1m11 0h2m7 0h2m4 0h1m6 0h1m11 0h2m3 0h1m4 0h1m1 0h1m4 0h1m2 0h1m26 0h1m2 0h2m2 0h1m9 0h1m4 0h1m-132 1h1m1 0h1m4 0h1m46 0h1m7 0h1m6 0h1m9 0h1m11 0h1m21 0h1m2 0h1m-102 1h1m39 0h1m2 0h1m3 0h1m9 0h1m17 0h3m9 0h1m4 0h1m19 0h1m2 0h1m2 0h1m-140 1h1m13 0h1m6 0h1m2 0h1m9 0h1m3 0h1m5 0h1m9 0h1m7 0h1m16 0h1m6 0h1m16 0h1m15 0h1m-105 1h1m17 0h1m6 0h1m31 0h2m7 0h1m15 0h1m12 0h1m9 0h1m2 0h1m6 0h1m7 0h1m-137 1h1m5 0h1m12 0h1m1 0h2m7 0h1m11 0h1m5 0h1m12 0h1m10 0h1m12 0h1m19 0h1m12 0h1m15 0h1m-135 1h1m23 0h1m3 0h1m6 0h1m13 0h1m6 0h1m20 0h2m12 0h1m14 0h1m8 0h1m7 0h1m10 0h1m-125 1h1m5 0h1m7 0h1m6 0h1m14 0h1m7 0h1m6 0h1m14 0h1m8 0h1m1 0h1m3 0h2m26 0h1m6 0h1m-120 1h2m37 0h1m17 0h1m9 0h1m8 0h1m4 0h1m18 0h1m11 0h1m-106 1h1m11 0h1m23 0h1m10 0h1m1 0h3m11 0h1m2 0h2m25 0h1m6 0h1m21 0h1m1 0h1m-130 1h1m1 0h1m7 0h1m1 0h2m21 0h1m18 0h1m5 0h1m3 0h1m27 0h1m10 0h1m18 0h1m-117 1h1m7 0h1m11 0h1m36 0h1m5 0h1m20 0h1m2 0h1m6 0h1m15 0h1m1 0h1m3 0h1m-122 1h1m6 0h1m28 0h1m31 0h1m28 0h1m9 0h1m3 0h1m-107 1h1m7 0h1m13 0h1m7 0h1m44 0h1m17 0h1m4 0h1m20 0h1m-135 1h1m36 0h1m7 0h1m30 0h1m4 0h1m32 0h2m-94 1h2m11 0h1m41 0h2m9 0h1m4 0h1m5 0h1m6 0h1m29 0h1m-125 1h1m8 0h1m3 0h1m12 0h1m26 0h1m1 0h1m10 0h2m1 0h1m20 0h1m10 0h1m1 0h1m10 0h1m-123 1h1m18 0h1m20 0h1m8 0h1m12 0h1m8 0h1m4 0h1m32 0h1m14 0h1m1 0h1m5 0h1m-139 1h1m3 0h1m8 0h1m16 0h1m8 0h1m3 0h1m3 0h1m7 0h1m2 0h1m5 0h1m9 0h1m33 0h1m7 0h1m2 0h1m1 0h1m8 0h2m4 0h2m-131 1h1m31 0h1m2 0h1m1 0h1m28 0h1m11 0h1m9 0h1m24 0h1m13 0h1m1 0h1m3 0h1m-125 1h1m26 0h1m2 0h1m6 0h1m12 0h1m7 0h1m2 0h2m2 0h1m9 0h2m17 0h1m19 0h1m2 0h1m6 0h1m-137 1h1m15 0h1m24 0h1m2 0h1m9 0h1m4 0h2m1 0h1m20 0h1m5 0h1m3 0h1m9 0h1m5 0h1m-80 1h1m9 0h1m8 0h1m1 0h1m1 0h1m14 0h1m19 0h1m3 0h1m29 0h1m-81 1h1m10 0h1m29 0h1m9 0h1m9 0h1m13 0h2m3 0h1m3 0h1m-122 1h1m5 0h1m17 0h1m18 0h1m29 0h1m31 0h1m1 0h1m1 0h1m5 0h1m3 0h2m-120 1h1m5 0h1m15 0h1m14 0h1m5 0h1m2 0h1m2 0h1m5 0h1m3 0h1m2 0h2m11 0h1m22 0h1m7 0h1m17 0h1m-123 1h1m18 0h1m33 0h1m15 0h1m10 0h1m13 0h1m13 0h1m9 0h1m5 0h1m-135 1h1m12 0h1m21 0h2m3 0h1m2 0h1m5 0h1m22 0h1m16 0h1m3 0h1m19 0h1m13 0h1m2 0h1m-116 1h1m4 0h1m37 0h1m7 0h1m3 0h1m26 0h1m3 0h1m10 0h1m1 0h1m6 0h1m2 0h1m5 0h1m3 0h1m-123 1h1m5 0h1m2 0h1m4 0h1m3 0h1m8 0h1m4 0h1m3 0h1m2 0h1m25 0h1m25 0h1m16 0h1m-123 1h1m3 0h1m17 0h1m9 0h2m32 0h1m8 0h1m11 0h1m1 0h1m29 0h1m16 0h1m-111 1h1m5 0h2m6 0h1m9 0h1m12 0h1m16 0h1m11 0h1m3 0h1m18 0h1m9 0h1m2 0h1m4 0h1m-124 1h1m49 0h1m15 0h1m1 0h1m5 0h1m30 0h1m-98 1h1m7 0h1m3 0h1m15 0h2m11 0h1m26 0h1m21 0h2m11 0h1m-107 1h1m61 0h1m33 0h1m22 0h3m-125 1h1m23 0h1m9 0h2m1 0h1m5 0h1m10 0h1m10 0h1m6 0h1m4 0h1m1 0h1m9 0h1m2 0h2m14 0h1m8 0h1m5 0h1m2 0h1m-113 1h1m25 0h1m14 0h1m9 0h1m8 0h1m4 0h1m8 0h1m25 0h1m-124 1h1m14 0h1m18 0h2m2 0h1m34 0h1m11 0h3m7 0h1m18 0h1m11 0h1m2 0h1m3 0h1m2 0h1m-132 1h1m35 0h1m16 0h1m19 0h1m15 0h1m3 0h1m3 0h1m12 0h1m11 0h1m-125 1h1m7 0h1m5 0h1m8 0h1m9 0h1m17 0h1m4 0h1m11 0h1m4 0h1m2 0h1m6 0h1m2 0h1m8 0h1m4 0h1m6 0h1m1 0h1m11 0h3m1 0h1m-125 1h2m25 0h1m9 0h1m22 0h1m1 0h1m10 0h1m8 0h1m10 0h1m7 0h1m25 0h1m5 0h1m-138 1h1m26 0h1m2 0h1m1 0h1m25 0h2m5 0h1m7 0h1m12 0h1m36 0h1m4 0h1m-123 1h1m4 0h1m3 0h1m22 0h1m15 0h1m28 0h1m11 0h1m10 0h1m20 0h1m-131 1h1m22 0h1m13 0h1m67 0h1m21 0h2m8 0h2m-129 1h1m10 0h1m6 0h1m2 0h1m5 0h2m6 0h1m10 0h1m19 0h1m12 0h1m3 0h1m12 0h1m5 0h1m15 0h1m2 0h2m3 0h1m-130 1h1m16 0h1m1 0h1m19 0h1m28 0h2m2 0h1m9 0h1m14 0h1m3 0h1m-103 1h1m8 0h1m1 0h1m12 0h1m5 0h1m10 0h1m25 0h1m2 0h1m4 0h1m22 0h1m11 0h2m1 0h1m7 0h1m2 0h1m-131 1h1m4 0h1m4 0h1m17 0h1m6 0h2m5 0h1m2 0h1m19 0h1m6 0h1m1 0h1m4 0h1m2 0h2m36 0h2m-121 1h1m4 0h1m6 0h1m10 0h1m36 0h2m15 0h1m13 0h1m2 0h1m4 0h1m36 0h1m-137 1h1m2 0h1m4 0h1m3 0h1m3 0h1m10 0h2m18 0h1m2 0h1m5 0h1m17 0h1m3 0h1m16 0h1m8 0h1m18 0h1m-125 1h1m18 0h2m6 0h1m2 0h1m3 0h1m1 0h1m4 0h1m12 0h1m42 0h2m3 0h1m6 0h1m1 0h1m2 0h1m24 0h1m-120 1h1m9 0h1m2 0h2m8 0h1m8 0h1m14 0h1m23 0h1m8 0h1m2 0h2m9 0h1m7 0h1m-120 1h1m33 0h1m30 0h1m16 0h1m6 0h1m8 0h1m4 0h1m16 0h1m-123 1h1m13 0h1m29 0h1m70 0h1m3 0h1m5 0h2m11 0h1m-137 1h1m22 0h2m3 0h1m6 0h1m5 0h2m65 0h1m11 0h1m16 0h1m-126 1h1m33 0h1m42 0h1m7 0h1m11 0h1m24 0h1m-137 1h1m17 0h1m10 0h1m1 0h1m25 0h1m13 0h1m12 0h1m6 0h1m7 0h1m5 0h1m9 0h1m20 0h1m-131 1h1m1 0h1m8 0h1m27 0h1m3 0h1m26 0h2m3 0h1m3 0h1m4 0h1m5 0h1m27 0h1m6 0h1m-128 1h1m5 0h1m16 0h1m17 0h1m10 0h1m6 0h1m13 0h1m9 0h1m7 0h1m7 0h1m5 0h1m24 0h1m-121 1h1m4 0h1m18 0h1m1 0h1m15 0h1m9 0h1m9 0h1m36 0h1m15 0h1m-115 1h1m1 0h1m11 0h1m4 0h1m5 0h1m8 0h1m1 0h1m42 0h1m1 0h1m18 0h1m10 0h2m-123 1h1m1 0h1m7 0h1m8 0h2m20 0h1m4 0h1m47 0h2m8 0h1m8 0h1m-113 1h1m6 0h1m16 0h3m13 0h2m12 0h1m16 0h3m1 0h1m9 0h1m3 0h1m18 0h1m3 0h1m11 0h1m4 0h1m2 0h1m-111 1h1m2 0h2m9 0h1m24 0h1m16 0h1m3 0h1m17 0h1m20 0h2m-119 1h1m3 0h1m13 0h1m1 0h1m9 0h1m24 0h1m2 0h1m9 0h1m28 0h1m4 0h1m4 0h2m6 0h1m-127 1h1m11 0h1m21 0h1m3 0h2m9 0h1m3 0h1m10 0h1m4 0h1m1 0h1m10 0h1m13 0h1m4 0h1m11 0h1m3 0h1m14 0h1m3 0h1m3 0h1m-109 1h3m1 0h1m11 0h1m22 0h1m19 0h1m5 0h2m13 0h1m-108 1h1m7 0h1m24 0h1m4 0h1m3 0h1m1 0h1m6 0h1m11 0h1m2 0h1m4 0h1m4 0h1m5 0h2m14 0h1m7 0h1m6 0h1m1 0h1m2 0h1m8 0h1m6 0h1m-126 1h2m19 0h1m37 0h2m8 0h1m14 0h1m2 0h1m11 0h1m19 0h1m5 0h2m-134 1h1m10 0h1m10 0h1m2 0h1m5 0h1m22 0h1m1 0h1m8 0h1m1 0h1m15 0h2m14 0h1m5 0h1m2 0h1m5 0h1m-94 1h1m2 0h2m4 0h1m4 0h1m28 0h1m20 0h2m3 0h1m2 0h1m16 0h1m11 0h1m2 0h1m-108 1h1m5 0h2m22 0h1m26 0h1m13 0h1m15 0h2m11 0h1m2 0h1m3 0h1m-123 1h1m6 0h1m16 0h1m12 0h1m1 0h2m7 0h1m11 0h1m12 0h1m23 0h1m11 0h1m12 0h1m-130 1h1m2 0h1m13 0h1m26 0h1m42 0h1m4 0h1m13 0h1m18 0h1m6 0h1m-117 1h1m1 0h2m2 0h1m3 0h1m5 0h1m8 0h1m5 0h1m2 0h1m13 0h1m3 0h1m29 0h1m-96 1h1m7 0h1m1 0h1m11 0h1m12 0h1m1 0h1m2 0h1m2 0h3m4 0h2m1 0h2m16 0h1m1 0h1m2 0h1m2 0h1m4 0h1m13 0h1m4 0h1m2 0h1m2 0h1m6 0h1m14 0h2m-137 1h1m7 0h1m32 0h2m3 0h1m1 0h1m2 0h1m19 0h1m5 0h1m8 0h1m2 0h1m4 0h1m1 0h1m5 0h2m14 0h1m6 0h1m-86 1h1m12 0h1m12 0h2m13 0h1m15 0h1m16 0h1m7 0h1m13 0h2m-129 1h1m1 0h1m4 0h1m1 0h1m28 0h1m5 0h1m1 0h1m1 0h1m13 0h1m19 0h2m29 0h1m6 0h1m2 0h1m-109 1h1m11 0h1m33 0h1m11 0h1m9 0h1m9 0h1m3 0h1m1 0h1m2 0h1m11 0h1m9 0h1m-101 1h1m5 0h1m14 0h1m15 0h1m1 0h1m9 0h2m13 0h1m14 0h2m-99 1h2m13 0h1m13 0h1m3 0h1m16 0h1m2 0h1m11 0h1m8 0h1m23 0h1m4 0h1m14 0h1m-134 1h1m2 0h1m2 0h1m5 0h1m6 0h1m13 0h1m10 0h1m38 0h1m5 0h2m36 0h1m-124 1h1m44 0h1m8 0h1m4 0h1m9 0h1m2 0h1m5 0h1m2 0h1m9 0h1m6 0h1m5 0h1m12 0h1m-105 1h1m5 0h1m9 0h1m1 0h1m5 0h1m9 0h1m8 0h1m14 0h1m4 0h1m13 0h1m7 0h1m9 0h1m1 0h1m-116 1h1m5 0h1m59 0h1m3 0h1m31 0h1m9 0h1m6 0h1m-106 1h1m20 0h1m1 0h1m23 0h1m16 0h1m9 0h1m7 0h1m7 0h1m10 0h1m17 0h1m-103 1h1m11 0h1m15 0h1m65 0h1m2 0h1m10 0h1m-131 1h1m5 0h2m7 0h1m18 0h1m52 0h1m23 0h1m-121 1h1m7 0h1m10 0h1m5 0h1m9 0h1m18 0h1m18 0h1m17 0h4m5 0h1m6 0h1m8 0h1m12 0h1m-117 1h1m14 0h1m5 0h1m12 0h1m1 0h1m23 0h1m21 0h1m8 0h1m7 0h1m5 0h1m12 0h1m4 0h1m-128 1h1m2 0h1m12 0h1m4 0h1m11 0h1m1 0h1m6 0h1m13 0h1m6 0h1m9 0h1m10 0h1m8 0h1m27 0h1m-121 1h1m20 0h1m9 0h2m11 0h1m28 0h1m1 0h1m2 0h1m3 0h1m10 0h2m5 0h1m9 0h1m6 0h1m7 0h1m-136 1h1m10 0h1m12 0h1m7 0h1m2 0h1m3 0h1m4 0h2m8 0h1m29 0h1m12 0h1m1 0h1m14 0h1m20 0h1m-110 1h2m3 0h1m11 0h1m7 0h1m3 0h1m7 0h1m3 0h1m7 0h1m3 0h1m2 0h1m12 0h1m1 0h1m6 0h1m6 0h1m1 0h1m13 0h1m8 0h1m-138 1h1m8 0h1m1 0h1m13 0h1m3 0h1m34 0h2m25 0h1m5 0h1m10 0h1m14 0h1m-120 1h1m15 0h1m4 0h1m16 0h1m3 0h1m9 0h1m40 0h1m3 0h1m8 0h2m-110 1h1m2 0h1m2 0h1m28 0h1m13 0h1m1 0h1m19 0h1m30 0h1m4 0h1m9 0h1m19 0h1m-140 1h1m32 0h1m3 0h1m19 0h1m30 0h1m14 0h1m2 0h2m18 0h1m9 0h1m-120 1h1m5 0h2m6 0h1m6 0h1m1 0h1m2 0h1m22 0h1m7 0h2m3 0h2m12 0h1m31 0h1m8 0h1m-124 1h1m6 0h1m11 0h2m1 0h2m15 0h1m29 0h1m2 0h1m10 0h1m12 0h1m23 0h1m-130 1h1m13 0h1m7 0h1m6 0h1m7 0h1m8 0h1m1 0h1m1 0h1m2 0h1m2 0h1m5 0h1m20 0h1m17 0h1m25 0h1m2 0h2m-133 1h1m30 0h1m4 0h1m11 0h1m9 0h1m2 0h1m5 0h1m9 0h1m18 0h1m8 0h2m13 0h1m2 0h1m13 0h1m-133 1h1m2 0h1m13 0h1m5 0h1m8 0h1m24 0h1m21 0h1m8 0h1m1 0h1m3 0h1m6 0h2m2 0h1m20 0h1m3 0h1m1 0h1m1 0h1m-140 1h2m2 0h1m6 0h1m9 0h1m2 0h1m4 0h1m1 0h1m19 0h1m6 0h1m33 0h2m4 0h1m31 0h2m-127 1h1m10 0h1m14 0h1m26 0h1m10 0h1m1 0h1m12 0h1m1 0h2m15 0h1m10 0h1m-102 1h1m6 0h1m12 0h1m8 0h1m26 0h1m18 0h1m4 0h1m15 0h1m3 0h2m18 0h1m-124 1h1m3 0h1m2 0h1m19 0h2m9 0h1m20 0h1m23 0h2m8 0h1m9 0h1m2 0h1m14 0h1m-126 1h1m12 0h1m11 0h1m3 0h1m34 0h1m13 0h2m3 0h1m5 0h1m5 0h1m2 0h1m24 0h2m-121 1h1m6 0h1m3 0h1m4 0h1m18 0h1m6 0h1m17 0h1m8 0h1m4 0h1m7 0h1m1 0h1m7 0h1m22 0h1m2 0h1m7 0h1m-126 1h1m8 0h1m12 0h1m23 0h1m9 0h1m6 0h2m2 0h1m14 0h1m4 0h1m12 0h1m2 0h1m-112 1h1m10 0h1m8 0h1m4 0h1m2 0h1m9 0h1m2 0h2m5 0h1m6 0h1m4 0h1m9 0h2m1 0h1m10 0h1m25 0h1m5 0h1m-121 1h1m4 0h1m4 0h2m18 0h1m3 0h1m14 0h1m8 0h1m20 0h1m2 0h1m6 0h1m8 0h1m11 0h1m1 0h2m7 0h1m10 0h1m3 0h1m3 0h1m-132 1h1m8 0h1m21 0h1m5 0h1m14 0h2m2 0h1m4 0h1m9 0h1m4 0h2m12 0h1m11 0h1m3 0h1m3 0h1m1 0h1m-100 1h1m4 0h1m8 0h1m2 0h1m2 0h1m11 0h1m11 0h1m20 0h1m12 0h1m8 0h1m13 0h1m3 0h1m-97 1h1m17 0h1m3 0h2m1 0h1m4 0h1m12 0h1m9 0h1m4 0h1m1 0h1m2 0h1m22 0h1m1 0h1m9 0h1m5 0h1m-133 1h1m14 0h1m22 0h1m18 0h1m5 0h2m6 0h2m13 0h1m-86 1h1m1 0h1m10 0h1m6 0h1m2 0h1m3 0h1m2 0h1m6 0h1m18 0h2m1 0h1m2 0h1m28 0h1m11 0h3m3 0h1m16 0h2m-129 1h1m13 0h1m1 0h1m3 0h1m9 0h1m39 0h1m7 0h1m8 0h2m2 0h1m2 0h1m9 0h1m4 0h1m7 0h1m10 0h1m-114 1h1m4 0h1m17 0h1m1 0h1m6 0h1m17 0h2m1 0h1m21 0h1m9 0h1m7 0h1m2 0h1m2 0h1m4 0h1m9 0h1m3 0h1m-136 1h1m1 0h1m77 0h1m3 0h1m3 0h1m2 0h1m3 0h1m7 0h1m7 0h1m18 0h1m-89 1h1m1 0h1m1 0h1m17 0h1m11 0h1m14 0h1m8 0h1m4 0h1m1 0h1m19 0h1m10 0h2m-116 1h1m10 0h1m2 0h1m5 0h2m2 0h1m6 0h1m14 0h2m1 0h1m4 0h1m16 0h1m7 0h1m6 0h1m8 0h1m10 0h1m5 0h1m-137 1h1m10 0h1m11 0h1m24 0h1m3 0h1m14 0h1m7 0h1m11 0h1m19 0h1m3 0h1m4 0h1m10 0h2m-121 1h1m7 0h1m4 0h1m16 0h1m9 0h1m3 0h1m16 0h1m18 0h1m10 0h2m10 0h1"/>
<path stroke="#646464" d="M0 0.5h1m5 0h1m21 0h1m7 0h1m41 0h1m1 0h1m40 0h1m-116 1h1m6 0h1m9 0h2m12 0h1m2 0h1m2 0h2m2 0h1m22 0h1m7 0h1m2 0h1m4 0h1m41 0h1m-115 1h1m29 0h1m56 0h1m4 0h1m1 0h1m10 0h1m5 0h1m-113 1h1m9 0h1m1 0h1m5 0h1m2 0h1m39 0h1m5 0h1m19 0h1m30 0h1m-109 1h1m10 0h1m12 0h1m2 0h1m74 0h2m-125 1h1m11 0h1m13 0h1m11 0h2m9 0h1m1 0h1m1 0h1m22 0h1m6 0h1m7 0h1m9 0h1m3 0h1m1 0h1m1 0h2m4 0h2m19 0h1m-132 1h1m3 0h1m3 0h1m4 0h1m16 0h1m5 0h1m1 0h1m6 0h1m10 0h1m8 0h1m26 0h1m4 0h1m8 0h1m13 0h1m-124 1h1m7 0h1m10 0h1m4 0h1m27 0h1m15 0h1m4 0h1m12 0h1m1 0h1m18 0h2m21 0h1m-130 1h1m1 0h1m29 0h1m9 0h1m4 0h1m2 0h1m29 0h1m-83 1h1m23 0h1m34 0h1m13 0h1m24 0h1m5 0h1m5 0h1m3 0h1m2 0h1m10 0h1m7 0h1m-138 1h1m9 0h1m13 0h1m19 0h1m12 0h2m23 0h1m7 0h1m17 0h1m-92 1h1m14 0h1m9 0h1m1 0h1m45 0h1m5 0h2m1 0h1m10 0h1m13 0h1m-118 1h1m31 0h1m5 0h1m2 0h1m13 0h1m4 0h1m6 0h1m31 0h1m9 0h1m21 0h1m-96 1h1m1 0h1m23 0h1m2 0h1m11 0h1m2 0h1m2 0h1m2 0h1m4 0h1m1 0h1m7 0h1m5 0h1m-114 1h2m8 0h1m6 0h2m47 0h1m3 0h1m8 0h1m12 0h1m8 0h2m-77 1h1m8 0h1m20 0h1m14 0h1m20 0h1m5 0h1m6 0h1m11 0h1m-117 1h1m16 0h1m30 0h1m4 0h1m44 0h2m29 0h1m-90 1h1m4 0h2m8 0h1m13 0h1m7 0h1m16 0h1m10 0h1m16 0h1m-115 1h1m9 0h1m2 0h1m19 0h1m1 0h1m15 0h1m13 0h1m10 0h1m23 0h1m3 0h1m-113 1h1m4 0h2m16 0h1m13 0h1m9 0h1m41 0h1m5 0h2m14 0h1m2 0h1m4 0h1m5 0h1m2 0h1m3 0h1m-116 1h1m1 0h1m19 0h1m12 0h1m23 0h1m9 0h1m5 0h1m1 0h1m20 0h1m-81 1h1m17 0h1m36 0h1m17 0h2m8 0h1m4 0h1m-127 1h1m2 0h1m23 0h1m4 0h2m5 0h1m25 0h1m2 0h1m30 0h1m2 0h1m2 0h1m4 0h1m3 0h1m4 0h1m17 0h1m-134 1h1m4 0h2m22 0h1m42 0h1m8 0h1m24 0h1m5 0h1m1 0h1m18 0h1m-138 1h1m4 0h2m9 0h1m2 0h1m14 0h1m35 0h1m28 0h1m9 0h1m15 0h1m-126 1h1m9 0h1m3 0h1m11 0h1m32 0h2m2 0h1m3 0h1m18 0h1m10 0h2m7 0h1m3 0h1m-96 1h1m11 0h1m28 0h1m18 0h1m4 0h1m2 0h1m26 0h1m26 0h1m-132 1h1m15 0h1m3 0h1m2 0h1m9 0h1m20 0h2m7 0h1m2 0h1m2 0h1m5 0h1m20 0h1m5 0h2m4 0h1m8 0h1m-93 1h1m13 0h2m10 0h1m6 0h1m6 0h1m35 0h1m17 0h1m4 0h1m1 0h2m-125 1h1m20 0h1m23 0h2m7 0h1m21 0h1m-76 1h1m39 0h1m8 0h1m5 0h1m17 0h1m4 0h1m10 0h1m20 0h1m-105 1h1m25 0h1m25 0h2m1 0h1m3 0h1m20 0h1m-98 1h1m29 0h1m44 0h1m10 0h1m3 0h2m22 0h1m3 0h1m-97 1h1m5 0h1m8 0h1m9 0h1m2 0h1m10 0h1m3 0h1m3 0h1m22 0h1m4 0h1m9 0h1m1 0h2m2 0h1m8 0h1m-108 1h1m34 0h1m1 0h1m3 0h1m8 0h1m36 0h1m23 0h2m-127 1h1m19 0h1m8 0h1m4 0h1m27 0h1m25 0h1m11 0h1m5 0h1m24 0h1m6 0h1m-135 1h1m1 0h2m15 0h1m23 0h1m21 0h1m2 0h1m16 0h1m24 0h1m-106 1h1m2 0h1m42 0h1m8 0h1m7 0h1m1 0h1m3 0h1m4 0h1m9 0h1m24 0h2m2 0h1m4 0h2m-110 1h1m11 0h1m16 0h1m1 0h1m9 0h1m4 0h4m3 0h1m4 0h2m11 0h1m2 0h1m29 0h1m11 0h1m1 0h1m-92 1h1m25 0h1m41 0h1m-104 1h1m47 0h1m3 0h1m71 0h1m3 0h1m-126 1h1m12 0h1m28 0h1m82 0h1m-130 1h1m17 0h1m13 0h1m1 0h1m12 0h1m42 0h1m5 0h1m11 0h1m13 0h1m3 0h1m-138 1h1m5 0h1m25 0h1m35 0h1m11 0h1m11 0h1m4 0h1m7 0h1m17 0h1m16 0h1m-130 1h1m1 0h1m12 0h1m13 0h2m7 0h1m41 0h1m5 0h1m4 0h1m1 0h1m10 0h1m22 0h1m-118 1h1m9 0h1m4 0h1m32 0h1m1 0h2m16 0h1m-74 1h2m5 0h1m12 0h1m15 0h1m11 0h1m42 0h1m23 0h1m5 0h2m-131 1h1m11 0h1m1 0h1m28 0h1m5 0h1m3 0h1m2 0h1m10 0h1m3 0h1m25 0h1m13 0h1m3 0h1m5 0h1m-122 1h1m7 0h1m8 0h1m9 0h2m2 0h1m1 0h1m14 0h1m78 0h1m-131 1h1m3 0h1m3 0h1m48 0h1m11 0h1m45 0h1m-115 1h1m3 0h1m2 0h1m64 0h1m1 0h1m14 0h1m4 0h1m2 0h1m4 0h1m-108 1h2m4 0h1m12 0h1m9 0h2m9 0h1m2 0h1m8 0h1m19 0h1m9 0h1m39 0h1m-122 1h1m3 0h1m6 0h1m1 0h1m23 0h1m20 0h1m14 0h1m17 0h1m23 0h1m1 0h2m-121 1h1m12 0h1m6 0h1m3 0h1m2 0h1m6 0h1m39 0h1m6 0h1m11 0h1m1 0h1m1 0h1m1 0h1m5 0h1m-39 1h1m11 0h1m48 0h1m5 0h1m-119 1h1m27 0h1m74 0h1m-106 1h1m6 0h1m14 0h1m2 0h1m1 0h1m5 0h1m2 0h1m42 0h1m19 0h1m4 0h1m-115 1h1m8 0h1m36 0h1m1 0h1m46 0h1m5 0h1m3 0h1m3 0h1m6 0h1m9 0h1m9 0h1m-136 1h1m16 0h1m16 0h1m32 0h1m4 0h1m33 0h1m6 0h1m5 0h1m1 0h1m12 0h1m-136 1h1m5 0h1m1 0h1m14 0h1m2 0h2m24 0h1m1 0h1m15 0h1m38 0h1m6 0h1m3 0h1m-109 1h1m5 0h1m4 0h1m7 0h2m18 0h1m6 0h1m14 0h2m2 0h1m9 0h2m16 0h1m13 0h1m-115 1h1m4 0h1m1 0h1m12 0h1m7 0h1m14 0h1m4 0h1m2 0h1m4 0h1m11 0h2m20 0h1m2 0h1m19 0h1m10 0h1m-121 1h1m23 0h1m1 0h1m14 0h1m23 0h1m41 0h2m7 0h1m-119 1h1m12 0h1m6 0h1m14 0h1m20 0h1m9 0h1m3 0h1m35 0h1m-107 1h1m2 0h1m5 0h1m1 0h1m2 0h2m15 0h1m6 0h1m5 0h1m1 0h1m8 0h1m8 0h1m3 0h1m2 0h1m21 0h1m18 0h1m-116 1h1m5 0h1m1 0h1m51 0h1m11 0h1m6 0h1m1 0h1m7 0h1m5 0h1m9 0h1m1 0h1m24 0h1m-138 1h1m22 0h1m20 0h1m20 0h1m14 0h1m9 0h1m11 0h1m13 0h1m3 0h1m7 0h1m6 0h1m1 0h1m-138 1h1m9 0h1m3 0h1m5 0h1m16 0h1m1 0h1m7 0h1m2 0h1m2 0h1m26 0h1m6 0h1m24 0h1m7 0h1m-120 1h1m3 0h1m7 0h1m17 0h1m4 0h1m12 0h1m22 0h1m17 0h1m20 0h1m16 0h2m4 0h2m-137 1h1m13 0h1m20 0h1m1 0h1m3 0h1m96 0h1m-141 1h1m4 0h1m27 0h1m6 0h1m64 0h1m9 0h1m2 0h1m-119 1h1m3 0h1m2 0h1m24 0h1m5 0h1m5 0h1m15 0h2m59 0h1m2 0h1m8 0h1m-132 1h1m13 0h1m7 0h1m4 0h1m1 0h1m4 0h1m1 0h1m3 0h1m14 0h1m4 0h1m24 0h1m6 0h1m2 0h1m22 0h2m-119 1h1m2 0h1m3 0h1m57 0h1m14 0h1m33 0h1m8 0h1m-124 1h1m2 0h1m2 0h1m12 0h1m1 0h1m9 0h1m14 0h1m4 0h1m42 0h1m10 0h1m5 0h1m4 0h2m7 0h1m-101 1h1m4 0h1m8 0h1m5 0h1m12 0h1m1 0h1m16 0h1m23 0h1m-103 1h1m18 0h1m10 0h1m18 0h1m11 0h1m1 0h1m1 0h2m4 0h1m31 0h2m1 0h1m13 0h1m14 0h3m-128 1h1m22 0h1m18 0h2m25 0h1m30 0h1m-95 1h1m6 0h1m13 0h1m9 0h1m7 0h1m10 0h1m19 0h1m25 0h1m5 0h1m3 0h1m9 0h1m5 0h1m-120 1h1m14 0h1m16 0h1m3 0h1m23 0h1m6 0h1m1 0h1m33 0h1m6 0h2m5 0h2m-140 1h1m19 0h1m6 0h1m5 0h1m22 0h1m10 0h1m7 0h1m1 0h1m9 0h1m4 0h1m2 0h1m6 0h1m-101 1h1m4 0h1m15 0h1m5 0h1m16 0h1m11 0h1m13 0h1m22 0h1m3 0h1m29 0h1m-128 1h1m10 0h1m30 0h1m7 0h1m22 0h2m12 0h1m15 0h2m22 0h1m-109 1h1m2 0h1m10 0h1m1 0h1m24 0h1m10 0h1m24 0h1m7 0h1m-96 1h1m7 0h1m2 0h1m26 0h1m10 0h1m30 0h1m1 0h1m16 0h1m3 0h2m-102 1h1m2 0h1m7 0h1m23 0h1m12 0h1m17 0h1m7 0h1m12 0h1m3 0h1m3 0h1m24 0h1m-135 1h1m45 0h1m2 0h1m8 0h1m2 0h1m7 0h1m49 0h1m11 0h1m5 0h2m-134 1h1m14 0h1m26 0h1m6 0h1m2 0h1m11 0h1m1 0h1m31 0h1m2 0h1m1 0h1m5 0h1m1 0h1m12 0h1m-110 1h1m8 0h1m18 0h1m26 0h1m27 0h1m22 0h1m-123 1h1m4 0h1m14 0h1m3 0h1m14 0h1m4 0h1m14 0h1m2 0h1m13 0h1m11 0h1m15 0h1m2 0h1m18 0h1m-130 1h1m5 0h1m7 0h1m21 0h1m10 0h1m7 0h1m34 0h2m9 0h1m2 0h1m7 0h2m11 0h1m-126 1h1m1 0h1m32 0h1m5 0h1m18 0h1m22 0h1m31 0h1m16 0h2m1 0h1m-123 1h1m25 0h1m15 0h1m20 0h1m24 0h1m16 0h1m2 0h1m2 0h1m6 0h2m-118 1h1m20 0h2m20 0h1m7 0h1m50 0h1m-107 1h1m16 0h1m23 0h2m3 0h1m41 0h1m29 0h1m-113 1h1m2 0h1m5 0h1m1 0h1m14 0h1m8 0h1m10 0h1m4 0h1m1 0h1m2 0h1m2 0h1m8 0h1m20 0h1m-89 1h2m7 0h1m19 0h1m9 0h1m49 0h1m8 0h1m-118 1h1m3 0h2m37 0h1m5 0h1m11 0h1m14 0h1m2 0h1m25 0h1m18 0h1m11 0h1m-126 1h1m1 0h1m17 0h1m27 0h1m16 0h1m5 0h1m14 0h2m6 0h2m11 0h1m11 0h1m1 0h1m7 0h1m-140 1h1m7 0h1m21 0h1m34 0h1m1 0h1m16 0h1m6 0h1m5 0h1m6 0h1m12 0h1m-119 1h1m11 0h1m3 0h2m38 0h1m1 0h1m1 0h1m2 0h1m14 0h1m2 0h1m6 0h1m21 0h1m4 0h1m3 0h1m-111 1h1m49 0h1m19 0h1m4 0h1m22 0h1m23 0h1m-121 1h1m7 0h1m4 0h1m6 0h1m10 0h1m1 0h2m3 0h2m15 0h1m1 0h1m34 0h1m23 0h1m1 0h1m-115 1h1m39 0h1m6 0h1m50 0h1m3 0h1m20 0h1m-139 1h2m5 0h1m13 0h3m3 0h1m9 0h1m1 0h1m5 0h1m1 0h1m26 0h1m2 0h1m4 0h1m13 0h1m6 0h1m4 0h1m2 0h1m8 0h1m10 0h2m-120 1h1m16 0h1m6 0h2m1 0h1m13 0h1m1 0h1m6 0h1m21 0h1m3 0h1m26 0h1m5 0h1m6 0h1m-120 1h1m20 0h1m13 0h1m48 0h1m11 0h2m17 0h3m3 0h1m1 0h1m2 0h1m-125 1h1m22 0h1m28 0h1m10 0h2m38 0h1m5 0h1m10 0h1m3 0h1m1 0h1m-130 1h1m25 0h1m18 0h1m47 0h1m15 0h1m5 0h1m7 0h1m-104 1h1m29 0h2m10 0h1m21 0h1m7 0h1m14 0h1m7 0h1m13 0h1m-130 1h1m59 0h1m5 0h1m11 0h1m2 0h1m10 0h1m5 0h1m3 0h1m-109 1h1m9 0h1m10 0h1m3 0h1m14 0h1m61 0h1m3 0h2m6 0h1m16 0h1m5 0h1m-139 1h1m16 0h1m1 0h1m7 0h2m17 0h1m20 0h1m4 0h1m4 0h1m2 0h1m1 0h2m2 0h1m26 0h1m10 0h1m13 0h1m-131 1h1m16 0h1m10 0h1m16 0h1m1 0h1m12 0h1m36 0h1m6 0h1m6 0h1m16 0h1m-133 1h1m2 0h1m49 0h1m6 0h1m5 0h1m29 0h1m7 0h1m3 0h2m5 0h1m-113 1h2m15 0h1m9 0h1m12 0h1m8 0h2m3 0h1m3 0h1m9 0h1m20 0h1m1 0h1m3 0h1m32 0h1m1 0h1m-137 1h2m10 0h1m4 0h1m20 0h1m13 0h1m4 0h1m11 0h1m4 0h1m23 0h1m15 0h1m18 0h1m-132 1h1m3 0h1m5 0h1m20 0h1m31 0h1m1 0h2m11 0h1m52 0h1m1 0h1m-117 1h1m1 0h1m15 0h1m6 0h1m5 0h1m12 0h2m2 0h1m6 0h1m34 0h1m12 0h1m-119 1h1m2 0h1m13 0h1m12 0h1m39 0h1m10 0h1m20 0h1m6 0h1m2 0h1m-107 1h1m31 0h1m15 0h1m3 0h1m5 0h1m9 0h1m21 0h1m6 0h1m16 0h1m2 0h1m-130 1h1m19 0h1m4 0h2m5 0h4m32 0h1m10 0h1m2 0h1m9 0h1m2 0h1m4 0h1m15 0h1m-106 1h1m11 0h1m17 0h1m2 0h1m1 0h1m10 0h1m4 0h1m44 0h2m26 0h1m-137 1h1m6 0h1m8 0h1m11 0h1m6 0h1m9 0h1m9 0h1m1 0h1m9 0h1m19 0h1m14 0h1m6 0h1m13 0h1m9 0h1m-132 1h1m6 0h1m12 0h1m2 0h1m44 0h1m20 0h1m11 0h2m15 0h1m3 0h2m-112 1h1m24 0h1m28 0h1m4 0h1m22 0h1m16 0h1m3 0h1m-113 1h1m20 0h1m25 0h1m2 0h1m7 0h1m20 0h1m15 0h1m20 0h2m-120 1h1m3 0h1m6 0h1m5 0h1m2 0h1m1 0h1m18 0h1m12 0h1m9 0h1m44 0h1m25 0h1m-131 1h1m13 0h1m12 0h1m9 0h1m9 0h1m19 0h1m39 0h1m6 0h1m4 0h1m7 0h1m-135 1h1m2 0h1m21 0h1m16 0h1m14 0h1m13 0h1m39 0h1m5 0h1m4 0h1m-121 1h1m26 0h2m15 0h1m20 0h1m1 0h1m3 0h1m-64 1h1m3 0h1m4 0h1m19 0h1m5 0h2m2 0h2m3 0h1m47 0h1m9 0h1m2 0h1m19 0h1m-135 1h1m2 0h1m6 0h1m8 0h1m9 0h1m2 0h1m14 0h1m11 0h1m2 0h1m11 0h1m2 0h1m1 0h1m1 0h1m12 0h1m9 0h1m11 0h1m8 0h2m2 0h2m1 0h1m-121 1h1m1 0h1m2 0h1m34 0h1m27 0h1m16 0h1m4 0h1m28 0h1m-107 1h1m16 0h1m4 0h1m3 0h1m20 0h1m4 0h1m21 0h1m11 0h1m9 0h1m8 0h1m-125 1h1m2 0h1m35 0h1m10 0h1m16 0h1m6 0h1m57 0h1m-127 1h1m8 0h1m17 0h1m7 0h1m3 0h1m10 0h2m21 0h1m14 0h1m7 0h2m17 0h1m-121 1h1m20 0h1m57 0h1m9 0h1m6 0h1m7 0h1m15 0h1m-124 1h1m5 0h1m3 0h2m13 0h1m22 0h1m2 0h1m19 0h1m9 0h1m1 0h1m16 0h2m6 0h1m2 0h1m-115 1h1m25 0h1m3 0h1m4 0h2m3 0h1m30 0h2m2 0h1m2 0h1m3 0h1m20 0h1m6 0h1m1 0h1m4 0h1m-121 1h3m31 0h1m17 0h1m1 0h1m29 0h1m8 0h1m12 0h1m11 0h1m2 0h1m8 0h1"/>
<path stroke="#6f6f6f" d="M7 0.5h1m32 0h1m12 0h1m21 0h1m23 0h1m2 0h1m9 0h1m10 0h1m-112 1h1m2 0h1m50 0h1m15 0h1m4 0h1m1 0h1m1 0h1m7 0h1m-85 1h1m41 0h2m61 0h1m-80 1h1m1 0h1m33 0h1m12 0h1m6 0h1m11 0h1m3 0h1m-106 1h1m13 0h1m4 0h1m8 0h1m33 0h1m3 0h1m2 0h1m14 0h1m5 0h1m2 0h1m4 0h1m1 0h1m1 0h1m6 0h1m-112 1h1m2 0h1m7 0h1m19 0h2m10 0h1m12 0h1m3 0h1m27 0h1m3 0h1m24 0h1m-124 1h1m20 0h1m1 0h1m1 0h1m3 0h1m10 0h2m15 0h1m2 0h1m4 0h1m1 0h1m11 0h1m29 0h1m5 0h1m13 0h1m1 0h1m7 0h1m-132 1h1m15 0h1m24 0h1m10 0h1m4 0h1m59 0h1m2 0h1m-118 1h1m16 0h1m10 0h1m13 0h1m2 0h1m35 0h1m8 0h1m27 0h1m4 0h1m-111 1h1m5 0h1m2 0h1m19 0h3m32 0h1m16 0h1m20 0h1m3 0h1m6 0h1m-100 1h1m15 0h1m2 0h1m6 0h1m6 0h1m6 0h1m3 0h1m14 0h1m16 0h2m-115 1h1m6 0h1m23 0h1m5 0h1m8 0h1m15 0h1m-45 1h1m6 0h1m39 0h1m11 0h1m-42 1h1m11 0h1m25 0h1m5 0h1m22 0h1m1 0h1m-91 1h1m11 0h1m3 0h1m3 0h1m6 0h1m16 0h1m30 0h1m22 0h1m21 0h1m-134 1h1m9 0h1m7 0h1m11 0h1m14 0h1m2 0h1m32 0h1m17 0h1m8 0h1m19 0h1m2 0h1m-130 1h1m35 0h1m3 0h1m20 0h1m9 0h1m6 0h1m27 0h1m5 0h1m10 0h1m-122 1h1m6 0h1m63 0h1m24 0h1m16 0h1m-114 1h1m15 0h1m31 0h1m11 0h1m24 0h2m20 0h1m2 0h1m-93 1h1m17 0h1m17 0h1m21 0h1m5 0h1m16 0h1m-95 1h1m19 0h1m11 0h2m7 0h1m8 0h1m29 0h1m24 0h1m8 0h1m10 0h1m-126 1h1m21 0h1m21 0h1m3 0h1m4 0h1m51 0h1m-106 1h1m6 0h1m24 0h1m3 0h1m3 0h1m23 0h1m-64 1h1m28 0h1m6 0h1m22 0h1m3 0h1m23 0h1m19 0h1m2 0h1m-119 1h1m12 0h1m7 0h1m31 0h1m1 0h1m12 0h1m1 0h1m20 0h1m8 0h1m5 0h1m2 0h1m3 0h1m-107 1h1m6 0h2m3 0h1m8 0h1m40 0h1m26 0h1m11 0h1m-67 1h1m21 0h1m12 0h1m23 0h1m6 0h1m2 0h1m7 0h1m1 0h1m-111 1h1m73 0h1m3 0h1m4 0h1m14 0h1m-102 1h1m15 0h1m32 0h1m1 0h1m2 0h1m10 0h1m2 0h1m7 0h1m3 0h2m3 0h1m5 0h1m8 0h1m1 0h1m20 0h1m-132 1h1m20 0h1m22 0h1m30 0h1m-69 1h1m4 0h1m35 0h1m8 0h2m10 0h1m11 0h1m12 0h1m1 0h1m23 0h1m-125 1h1m55 0h1m7 0h1m8 0h1m7 0h1m8 0h1m7 0h1m6 0h1m9 0h1m1 0h1m18 0h1m-134 1h1m38 0h1m30 0h1m4 0h1m21 0h2m22 0h1m10 0h1m-99 1h1m39 0h2m14 0h1m6 0h1m1 0h1m-50 1h1m30 0h1m19 0h1m7 0h1m-99 1h1m20 0h1m3 0h2m13 0h1m2 0h1m6 0h1m16 0h1m27 0h1m-110 1h1m10 0h1m2 0h1m15 0h1m52 0h1m2 0h2m42 0h1m3 0h1m-125 1h1m9 0h1m13 0h1m18 0h1m26 0h1m40 0h1m14 0h1m-135 1h1m15 0h1m21 0h1m16 0h1m25 0h1m15 0h1m5 0h1m8 0h2m-82 1h1m41 0h1m6 0h1m5 0h1m1 0h1m20 0h1m4 0h1m9 0h1m-110 1h1m60 0h1m26 0h1m22 0h1m8 0h1m-111 1h1m12 0h1m1 0h1m5 0h1m12 0h2m9 0h1m6 0h1m17 0h1m33 0h1m-128 1h1m33 0h1m1 0h1m31 0h1m15 0h1m8 0h1m12 0h1m13 0h2m-115 1h1m8 0h1m11 0h1m5 0h2m24 0h2m5 0h1m4 0h1m11 0h1m13 0h1m4 0h1m2 0h1m4 0h1m1 0h2m5 0h2m-108 1h1m21 0h1m23 0h2m13 0h1m11 0h1m4 0h1m12 0h1m5 0h1m2 0h1m-119 1h1m16 0h1m2 0h1m31 0h1m2 0h1m8 0h1m52 0h1m-70 1h1m46 0h2m2 0h1m13 0h1m-113 1h1m24 0h1m10 0h1m6 0h1m5 0h1m5 0h1m6 0h1m1 0h1m25 0h1m30 0h1m10 0h1m4 0h1m-121 1h1m10 0h1m5 0h1m2 0h1m13 0h1m11 0h1m21 0h1m6 0h1m2 0h1m19 0h1m4 0h1m-120 1h1m3 0h1m25 0h4m5 0h2m10 0h1m5 0h1m8 0h1m16 0h1m2 0h1m20 0h3m16 0h1m-129 1h1m29 0h1m11 0h1m1 0h1m9 0h1m31 0h1m1 0h1m1 0h2m28 0h1m5 0h1m-126 1h1m11 0h1m5 0h1m16 0h2m3 0h1m13 0h1m10 0h1m28 0h1m5 0h1m17 0h1m12 0h1m-119 1h1m6 0h1m13 0h1m9 0h1m2 0h1m34 0h1m30 0h1m6 0h1m1 0h1m-111 1h1m13 0h1m36 0h1m54 0h1m3 0h1m5 0h1m-96 1h1m22 0h1m5 0h1m12 0h1m24 0h1m12 0h1m3 0h1m-95 1h1m18 0h1m18 0h1m10 0h1m1 0h1m10 0h1m10 0h1m20 0h1m9 0h1m-102 1h1m33 0h1m18 0h2m1 0h1m34 0h1m-106 1h1m13 0h1m16 0h1m9 0h1m21 0h1m23 0h1m19 0h2m5 0h1m-128 1h1m21 0h1m13 0h1m1 0h1m2 0h1m1 0h1m70 0h1m-92 1h1m56 0h1m12 0h1m10 0h1m22 0h1m-125 1h1m33 0h1m8 0h1m1 0h1m44 0h1m5 0h1m3 0h1m2 0h1m31 0h1m-139 1h1m5 0h1m10 0h1m3 0h1m23 0h1m1 0h1m30 0h2m19 0h1m1 0h1m22 0h1m-96 1h1m9 0h1m10 0h1m11 0h1m24 0h1m2 0h1m7 0h1m5 0h1m-105 1h1m9 0h1m20 0h1m3 0h1m11 0h2m2 0h1m10 0h1m25 0h1m1 0h1m9 0h2m33 0h1m-134 1h1m2 0h2m32 0h1m45 0h1m30 0h2m8 0h1m-127 1h1m17 0h1m22 0h1m11 0h1m3 0h1m3 0h1m18 0h2m4 0h1m15 0h1m7 0h1m3 0h1m2 0h1m1 0h1m-113 1h1m3 0h1m4 0h1m12 0h1m25 0h1m8 0h1m6 0h1m1 0h1m25 0h1m5 0h1m2 0h1m1 0h1m8 0h1m11 0h1m2 0h1m-128 1h2m68 0h1m32 0h1m7 0h1m11 0h1m-123 1h1m17 0h1m48 0h1m21 0h1m-97 1h1m40 0h1m38 0h1m13 0h1m3 0h1m2 0h2m26 0h1m-120 1h1m6 0h1m3 0h1m9 0h1m4 0h1m88 0h1m9 0h1m-122 1h1m3 0h1m23 0h1m1 0h1m79 0h1m-128 1h1m40 0h1m38 0h1m1 0h1m8 0h1m1 0h1m23 0h1m11 0h1m-128 1h1m5 0h1m2 0h1m5 0h1m6 0h1m6 0h1m2 0h1m5 0h1m6 0h1m3 0h1m43 0h1m4 0h1m26 0h1m2 0h1m7 0h1m-132 1h1m5 0h1m24 0h1m4 0h1m1 0h1m47 0h1m29 0h1m12 0h1m-130 1h1m78 0h1m18 0h1m1 0h1m12 0h1m-113 1h1m16 0h1m2 0h1m14 0h1m4 0h1m6 0h1m8 0h1m12 0h1m8 0h1m1 0h1m29 0h1m13 0h1m7 0h1m-141 1h1m14 0h1m14 0h1m8 0h1m27 0h1m7 0h1m14 0h3m2 0h1m11 0h1m-74 1h2m8 0h1m32 0h1m12 0h1m7 0h1m1 0h1m15 0h1m5 0h1m5 0h1m-104 1h1m5 0h1m16 0h1m1 0h1m4 0h1m35 0h1m5 0h1m16 0h1m8 0h1m-86 1h1m3 0h1m7 0h1m10 0h1m23 0h1m5 0h1m11 0h1m1 0h1m1 0h1m8 0h2m10 0h2m2 0h1m6 0h1m-135 1h1m11 0h1m1 0h1m10 0h1m14 0h1m19 0h1m15 0h1m18 0h1m17 0h2m11 0h1m5 0h1m-123 1h1m14 0h1m7 0h1m17 0h1m25 0h1m2 0h1m1 0h1m13 0h1m17 0h1m11 0h1m3 0h1m-134 1h1m4 0h1m9 0h1m1 0h1m3 0h1m16 0h1m44 0h1m3 0h1m3 0h1m28 0h1m-117 1h1m17 0h1m2 0h1m14 0h1m4 0h2m83 0h1m-131 1h1m1 0h1m40 0h1m31 0h1m4 0h1m14 0h1m19 0h1m14 0h1m3 0h1m-134 1h1m3 0h1m6 0h1m50 0h1m11 0h1m7 0h1m13 0h1m3 0h1m17 0h1m-77 1h1m6 0h1m6 0h1m2 0h1m48 0h1m3 0h1m3 0h2m16 0h1m2 0h1m-138 1h1m48 0h1m7 0h1m18 0h1m47 0h1m-115 1h2m4 0h1m30 0h1m7 0h1m26 0h1m2 0h1m12 0h1m8 0h1m-106 1h1m3 0h1m44 0h2m17 0h1m9 0h1m2 0h2m12 0h1m11 0h1m15 0h1m8 0h1m-134 1h1m57 0h1m15 0h1m4 0h1m34 0h1m21 0h1m-78 1h1m20 0h1m4 0h1m4 0h1m-91 1h1m12 0h1m42 0h1m19 0h1m3 0h1m4 0h1m-75 1h1m22 0h1m49 0h1m22 0h2m1 0h1m4 0h1m-106 1h1m4 0h1m11 0h2m2 0h2m14 0h1m3 0h1m10 0h1m1 0h1m20 0h1m1 0h1m9 0h1m14 0h1m2 0h1m-110 1h1m26 0h1m7 0h1m1 0h1m3 0h1m17 0h1m35 0h1m28 0h1m-129 1h1m28 0h1m5 0h2m12 0h1m46 0h1m11 0h1m18 0h1m-131 1h2m13 0h1m6 0h2m11 0h1m13 0h1m5 0h1m5 0h1m25 0h1m31 0h1m2 0h1m5 0h1m-132 1h1m15 0h2m32 0h1m6 0h1m3 0h1m2 0h1m48 0h1m26 0h1m-138 1h1m7 0h1m15 0h1m58 0h1m41 0h1m1 0h1m-91 1h1m9 0h1m11 0h1m2 0h1m45 0h1m7 0h1m-120 1h1m1 0h1m17 0h2m15 0h1m3 0h1m1 0h1m19 0h1m8 0h1m4 0h1m7 0h1m25 0h1m12 0h1m3 0h1m8 0h1m-133 1h1m1 0h1m14 0h1m7 0h1m23 0h1m22 0h1m11 0h1m16 0h1m15 0h1m-119 1h1m33 0h1m62 0h1m8 0h1m11 0h1m10 0h1m3 0h1m-99 1h1m11 0h1m14 0h1m3 0h1m47 0h1m4 0h1m12 0h1m-134 1h1m16 0h2m2 0h1m48 0h1m-65 1h1m4 0h1m7 0h1m14 0h1m46 0h1m11 0h1m14 0h1m1 0h1m14 0h1m-91 1h1m14 0h1m10 0h1m7 0h1m19 0h1m2 0h1m23 0h1m-118 1h1m7 0h1m13 0h1m13 0h1m8 0h1m5 0h1m3 0h1m6 0h1m3 0h1m21 0h1m4 0h1m13 0h1m13 0h1m1 0h2m4 0h1m2 0h1m-130 1h1m15 0h1m7 0h1m3 0h2m39 0h1m31 0h1m3 0h1m4 0h1m15 0h1m-84 1h1m1 0h1m1 0h1m2 0h1m21 0h1m22 0h1m3 0h1m10 0h1m-100 1h1m45 0h1m12 0h1m10 0h1m6 0h1m5 0h1m2 0h1m-94 1h1m7 0h1m2 0h1m3 0h1m31 0h1m12 0h1m19 0h1m1 0h1m9 0h1m9 0h1m22 0h2m-128 1h1m1 0h1m14 0h1m9 0h1m4 0h1m10 0h1m11 0h1m9 0h1m5 0h1m9 0h1m7 0h1m1 0h1m17 0h1m-104 1h1m3 0h1m10 0h1m7 0h1m6 0h2m4 0h1m2 0h1m1 0h1m61 0h1m-112 1h1m14 0h1m22 0h1m31 0h1m42 0h1m-119 1h1m49 0h1m14 0h1m15 0h1m16 0h1m7 0h1m29 0h1m-138 1h1m10 0h1m9 0h1m1 0h1m15 0h1m8 0h1m7 0h1m51 0h1m25 0h1m1 0h1m-126 1h1m16 0h1m18 0h1m12 0h1m22 0h2m43 0h1m-115 1h1m9 0h1m1 0h1m31 0h1m3 0h1m9 0h1m12 0h1m12 0h1m6 0h1m3 0h1m15 0h1m-96 1h1m16 0h1m13 0h1m2 0h1m49 0h1m-115 1h1m15 0h2m38 0h1m5 0h1m-61 1h1m7 0h1m16 0h1m28 0h1m4 0h1m1 0h1m28 0h1m10 0h1m6 0h1m28 0h1m-135 1h1m21 0h1m5 0h2m6 0h1m14 0h1m24 0h1m19 0h1m7 0h1m-66 1h1m21 0h1m2 0h1m4 0h1m27 0h1m8 0h1m-104 1h1m20 0h2m4 0h1m10 0h1m26 0h1m11 0h1m18 0h1m4 0h1m8 0h1m19 0h1m-123 1h1m13 0h1m19 0h1m72 0h1m-117 1h1m13 0h1m20 0h1m3 0h1m3 0h1m41 0h1m18 0h1m12 0h2m-116 1h2m4 0h1m10 0h2m37 0h1m26 0h1m30 0h1m8 0h1m1 0h1m-131 1h1m31 0h1m23 0h1m31 0h1m8 0h1m4 0h1m5 0h1m6 0h1m-119 1h1m2 0h1m2 0h1m14 0h1m46 0h1m10 0h1m6 0h1m8 0h1m12 0h1m28 0h2m-135 1h1m6 0h1m1 0h3m17 0h2m34 0h1m1 0h1m6 0h1m10 0h1m5 0h1m6 0h1m16 0h1m2 0h2m-98 1h1m14 0h1m28 0h2m19 0h1m2 0h2m7 0h2m25 0h1m-105 1h1m7 0h1m3 0h1m17 0h1m1 0h1m4 0h1m5 0h2m13 0h1m12 0h1m-81 1h2m27 0h1m10 0h1m14 0h1m10 0h1m6 0h1m3 0h1m10 0h1m4 0h1m12 0h1m2 0h1m-59 1h1m22 0h1m15 0h1m7 0h1m9 0h1m10 0h1m-136 1h1m3 0h1m9 0h1m1 0h1m13 0h1m10 0h1m8 0h1m6 0h1m12 0h1m2 0h1m41 0h1m14 0h1m-84 1h1m7 0h1m1 0h1m7 0h1m17 0h1m-83 1h1m9 0h1m56 0h1m1 0h1m3 0h1m1 0h1m39 0h1m3 0h1m12 0h1m-133 1h1m2 0h1m16 0h1m30 0h1m3 0h1m5 0h1m3 0h1m10 0h1m26 0h1m11 0h1m4 0h1"/>
<path stroke="#7a7a7a" d="M4 0.5h1m13 0h1m66 0h1m2 0h1m3 0h2m9 0h1m6 0h1m3 0h2m3 0h1m2 0h1m11 0h2m-127 1h1m1 0h1m24 0h1m1 0h1m11 0h1m21 0h1m40 0h1m22 0h1m-124 1h1m9 0h1m30 0h2m31 0h1m-58 1h1m9 0h1m24 0h1m18 0h1m3 0h1m2 0h1m26 0h1m11 0h1m-116 1h1m16 0h1m23 0h1m21 0h1m5 0h1m4 0h1m4 0h1m10 0h1m1 0h1m14 0h1m1 0h1m13 0h1m-138 1h1m13 0h2m22 0h1m2 0h1m27 0h1m11 0h1m25 0h1m16 0h1m-125 1h1m29 0h1m2 0h1m31 0h1m4 0h1m22 0h1m29 0h1m-118 1h1m6 0h1m44 0h1m6 0h1m20 0h2m31 0h1m2 0h1m13 0h1m-137 1h1m33 0h1m27 0h1m13 0h2m43 0h1m14 0h1m-125 1h1m3 0h1m2 0h1m14 0h1m1 0h1m7 0h1m23 0h1m21 0h1m33 0h1m8 0h1m-135 1h1m2 0h1m2 0h1m4 0h1m11 0h1m18 0h1m20 0h1m5 0h1m37 0h1m3 0h1m1 0h1m16 0h1m7 0h1m-94 1h1m18 0h1m23 0h2m13 0h1m3 0h1m3 0h1m25 0h1m-113 1h1m19 0h1m12 0h1m42 0h1m29 0h1m-126 1h1m21 0h1m21 0h1m32 0h1m17 0h1m-79 1h1m15 0h1m9 0h2m6 0h1m3 0h1m12 0h1m1 0h1m9 0h1m2 0h1m18 0h1m6 0h1m7 0h1m2 0h1m-91 1h1m16 0h1m4 0h1m3 0h1m5 0h1m6 0h1m12 0h1m-81 1h1m-9 1h1m4 0h1m18 0h1m1 0h1m15 0h1m21 0h1m7 0h1m41 0h2m12 0h1m-123 1h1m9 0h1m9 0h1m5 0h1m2 0h1m1 0h1m10 0h3m15 0h1m15 0h1m8 0h1m2 0h1m8 0h1m19 0h1m13 0h1m-110 1h1m48 0h1m10 0h1m3 0h1m19 0h1m8 0h1m9 0h1m5 0h1m-136 1h1m26 0h1m4 0h2m1 0h1m48 0h2m3 0h1m15 0h1m8 0h1m4 0h1m10 0h1m-105 1h1m17 0h1m34 0h1m41 0h1m8 0h1m7 0h1m-136 1h1m21 0h1m4 0h1m3 0h1m4 0h1m36 0h1m3 0h1m19 0h1m10 0h2m15 0h1m8 0h1m-111 1h1m23 0h1m13 0h1m11 0h1m23 0h1m9 0h1m-83 1h1m10 0h1m10 0h1m14 0h1m5 0h1m16 0h1m-92 1h1m1 0h1m81 0h1m8 0h1m14 0h1m17 0h1m-102 1h1m10 0h1m15 0h1m26 0h1m7 0h1m1 0h1m2 0h1m16 0h1m20 0h1m-126 1h1m22 0h1m4 0h1m2 0h1m1 0h2m3 0h1m2 0h1m17 0h1m13 0h1m4 0h1m8 0h1m2 0h1m1 0h1m25 0h1m1 0h1m6 0h1m6 0h1m-139 1h1m9 0h1m23 0h2m2 0h1m10 0h1m9 0h1m61 0h1m2 0h1m12 0h1m-128 1h2m25 0h1m14 0h1m11 0h1m19 0h1m16 0h1m6 0h1m4 0h1m12 0h1m-120 1h1m1 0h1m32 0h1m28 0h1m25 0h1m28 0h3m7 0h1m-138 1h1m40 0h1m4 0h1m11 0h2m18 0h1m4 0h1m9 0h1m19 0h1m1 0h1m-104 1h1m6 0h1m1 0h1m55 0h1m27 0h1m3 0h2m24 0h1m-135 1h1m1 0h1m28 0h1m2 0h1m3 0h1m8 0h1m10 0h2m10 0h1m2 0h1m20 0h1m8 0h1m6 0h1m2 0h1m3 0h1m5 0h1m10 0h1m1 0h1m-131 1h1m10 0h1m49 0h1m14 0h2m1 0h1m4 0h1m3 0h1m13 0h1m1 0h2m26 0h1m-135 1h1m26 0h1m29 0h1m4 0h2m7 0h1m6 0h2m14 0h1m8 0h1m17 0h1m-89 1h1m18 0h1m7 0h1m5 0h1m34 0h1m14 0h1m-116 1h2m6 0h1m18 0h1m65 0h3m33 0h2m3 0h1m-120 1h1m4 0h1m6 0h1m8 0h1m31 0h1m2 0h1m23 0h1m6 0h1m3 0h1m1 0h1m20 0h1m-123 1h2m4 0h1m2 0h1m1 0h1m14 0h1m8 0h1m30 0h1m47 0h1m3 0h1m-125 1h1m16 0h1m28 0h1m4 0h1m4 0h1m9 0h1m5 0h1m45 0h1m5 0h1m3 0h1m-129 1h1m1 0h1m8 0h1m1 0h1m27 0h1m9 0h1m1 0h1m33 0h1m2 0h2m21 0h1m17 0h2m-138 1h1m29 0h2m26 0h1m12 0h1m20 0h1m45 0h1m-122 1h1m6 0h1m6 0h1m35 0h1m16 0h1m14 0h1m16 0h1m16 0h2m-130 1h1m10 0h1m31 0h1m44 0h1m16 0h2m4 0h2m-93 1h1m5 0h1m3 0h1m17 0h1m5 0h1m44 0h2m5 0h2m19 0h1m-129 1h1m5 0h1m27 0h1m4 0h1m19 0h1m10 0h1m52 0h1m-103 1h1m17 0h1m55 0h1m34 0h1m-111 1h1m3 0h1m1 0h1m22 0h1m6 0h1m2 0h1m13 0h2m5 0h1m13 0h1m-100 1h1m31 0h1m16 0h2m28 0h1m15 0h2m21 0h1m13 0h1m5 0h2m-98 1h1m8 0h1m11 0h1m3 0h1m10 0h1m5 0h1m23 0h1m2 0h1m16 0h1m-117 1h1m9 0h3m48 0h1m10 0h1m1 0h1m40 0h1m10 0h1m-136 1h1m19 0h1m5 0h1m1 0h1m8 0h1m2 0h1m14 0h1m4 0h1m11 0h1m59 0h1m1 0h1m-107 1h1m7 0h1m4 0h1m17 0h1m1 0h1m2 0h1m27 0h1m4 0h1m13 0h1m10 0h1m1 0h1m-117 1h1m6 0h1m13 0h1m36 0h1m23 0h1m31 0h1m8 0h1m-111 1h1m28 0h1m1 0h1m3 0h1m17 0h1m11 0h1m11 0h2m3 0h1m13 0h1m3 0h1m10 0h1m-105 1h1m2 0h1m17 0h1m24 0h1m13 0h1m8 0h2m23 0h1m-115 1h1m9 0h1m50 0h1m19 0h2m3 0h1m2 0h1m1 0h1m15 0h1m14 0h1m-104 1h1m35 0h1m5 0h1m36 0h1m8 0h1m20 0h1m-103 1h2m4 0h1m22 0h1m13 0h1m29 0h1m27 0h2m-115 1h1m75 0h1m24 0h1m-127 1h1m9 0h1m32 0h1m14 0h1m34 0h1m2 0h1m14 0h1m6 0h1m5 0h1m-121 1h1m32 0h1m17 0h1m4 0h2m14 0h1m5 0h1m24 0h1m9 0h1m5 0h1m13 0h1m-117 1h1m4 0h1m6 0h1m16 0h1m3 0h1m4 0h1m27 0h1m5 0h2m-79 1h1m13 0h1m18 0h1m21 0h1m7 0h1m9 0h1m33 0h1m10 0h1m2 0h1m-124 1h1m2 0h1m16 0h2m5 0h1m7 0h1m7 0h1m17 0h1m56 0h1m1 0h1m-134 1h1m1 0h1m41 0h1m2 0h1m24 0h1m19 0h1m18 0h1m23 0h1m-136 1h1m22 0h1m19 0h1m18 0h2m7 0h1m31 0h1m1 0h1m20 0h1m4 0h1m-110 1h1m29 0h1m12 0h1m32 0h1m12 0h1m1 1h1m-101 1h1m1 0h1m82 0h1m1 0h1m16 0h1m-115 1h1m13 0h1m16 0h1m3 0h1m5 0h1m54 0h1m7 0h1m9 0h1m3 0h1m5 0h1m4 0h1m-114 1h1m4 0h1m8 0h1m10 0h1m29 0h1m31 0h1m-93 1h1m12 0h2m1 0h1m2 0h1m45 0h1m21 0h1m10 0h1m-88 1h1m7 0h1m20 0h1m-52 1h1m41 0h1m8 0h1m30 0h2m36 0h1m6 0h1m4 0h1m-127 1h1m30 0h1m6 0h1m33 0h1m12 0h1m20 0h1m2 0h1m-110 1h1m9 0h1m1 0h1m9 0h1m17 0h1m36 0h1m9 0h1m38 0h1m-137 1h1m8 0h1m1 0h2m3 0h1m12 0h1m9 0h2m4 0h1m25 0h1m28 0h1m6 0h1m-95 1h1m4 0h2m6 0h1m33 0h1m14 0h1m19 0h1m1 0h1m12 0h1m21 0h2m-62 1h1m9 0h1m5 0h1m14 0h1m7 0h1m2 0h1m11 0h1m-88 1h1m6 0h1m14 0h1m59 0h1m5 0h1m-124 1h1m15 0h1m18 0h1m5 0h2m3 0h1m26 0h1m4 0h1m19 0h1m9 0h1m3 0h1m-112 1h1m4 0h1m32 0h1m8 0h1m11 0h1m1 0h1m12 0h1m29 0h1m-106 1h1m26 0h2m12 0h1m20 0h1m12 0h1m5 0h1m3 0h1m4 0h1m35 0h1m4 0h2m-111 1h1m16 0h1m24 0h1m3 0h1m12 0h1m8 0h1m20 0h1m20 0h2m-135 1h2m24 0h1m7 0h1m5 0h1m28 0h2m14 0h2m3 0h1m1 0h1m-97 1h1m16 0h1m38 0h1m27 0h1m19 0h1m34 0h1m-131 1h1m26 0h2m36 0h1m12 0h1m7 0h1m24 0h2m7 0h2m-130 1h1m23 0h1m23 0h1m5 0h1m18 0h1m11 0h1m9 0h1m18 0h1m13 0h1m-117 1h1m9 0h1m25 0h1m2 0h1m5 0h1m16 0h1m1 0h1m19 0h1m23 0h1m2 0h2m3 0h1m2 0h1m6 0h1m-131 1h1m34 0h2m6 0h1m53 0h1m-92 1h1m11 0h1m13 0h2m39 0h1m4 0h1m4 0h2m1 0h1m5 0h1m6 0h1m-95 1h1m12 0h1m12 0h1m30 0h1m16 0h1m11 0h1m11 0h1m-76 1h1m1 0h1m5 0h2m24 0h1m2 0h1m8 0h2m30 0h1m17 0h1m-114 1h1m49 0h1m2 0h1m25 0h1m11 0h1m2 0h1m6 0h1m8 0h1m5 0h2m-134 1h2m5 0h1m18 0h1m11 0h1m7 0h1m1 0h1m30 0h1m2 0h1m4 0h1m11 0h1m33 0h1m-119 1h1m9 0h1m17 0h1m18 0h1m8 0h1m9 0h1m3 0h1m11 0h1m19 0h1m-116 1h1m17 0h1m29 0h1m8 0h1m3 0h1m32 0h1m8 0h1m24 0h1m-131 1h1m24 0h1m42 0h1m6 0h1m35 0h1m23 0h1m-122 1h1m31 0h1m8 0h1m12 0h1m6 0h1m32 0h1m7 0h1m6 0h1m10 0h1m-137 1h1m18 0h1m14 0h1m2 0h1m7 0h2m17 0h1m9 0h1m6 0h1m1 0h2m15 0h1m1 0h1m7 0h1m2 0h1m-113 1h1m29 0h2m36 0h1m63 0h1m-130 1h1m60 0h1m12 0h1m10 0h1m7 0h1m37 0h1m-90 1h1m2 0h1m9 0h1m5 0h1m46 0h1m23 0h1m-136 1h1m25 0h1m3 0h1m10 0h1m1 0h1m12 0h1m-16 1h1m23 0h1m15 0h1m45 0h1m-124 1h1m7 0h1m14 0h1m27 0h1m20 0h2m23 0h1m4 0h1m9 0h1m17 0h1m2 0h1m-135 1h2m13 0h1m19 0h1m16 0h1m12 0h1m24 0h1m6 0h1m5 0h1m2 0h1m1 0h1m23 0h1m-123 1h2m19 0h1m1 0h1m1 0h1m25 0h1m15 0h1m4 0h1m3 0h1m6 0h1m3 0h1m8 0h1m27 0h1m-126 1h1m4 0h1m1 0h1m1 0h1m17 0h1m8 0h1m8 0h1m6 0h1m3 0h1m9 0h1m2 0h2m34 0h1m5 0h1m7 0h1m-36 1h1m19 0h1m6 0h1m8 0h1m3 0h1m-113 1h2m16 0h1m11 0h1m8 0h1m11 0h1m34 0h1m5 0h1m19 0h1m-109 1h2m7 0h1m2 0h1m4 0h1m13 0h2m1 0h1m44 0h1m2 0h1m-110 1h1m21 0h2m6 0h1m25 0h1m29 0h1m2 0h1m1 0h1m2 0h1m23 0h1m5 0h1m6 0h1m4 0h1m-136 1h2m26 0h2m13 0h1m40 0h1m15 0h1m22 0h1m6 0h2m-132 1h1m17 0h1m18 0h1m11 0h1m6 0h1m7 0h1m5 0h1m3 0h1m46 0h1m8 0h1m-132 1h1m6 0h1m34 0h1m7 0h1m24 0h1m15 0h1m12 0h1m-103 1h1m8 0h1m18 0h1m15 0h1m7 0h1m4 0h1m49 0h1m-100 1h2m6 0h1m17 0h1m2 0h2m3 0h1m8 0h2m23 0h1m6 0h1m-74 1h1m10 0h1m21 0h1m50 0h1m10 0h2m-113 1h1m13 0h1m3 0h1m5 0h1m4 0h1m12 0h1m10 0h1m43 0h1m11 0h1m16 0h2m-105 1h1m14 0h2m51 0h1m19 0h1m4 0h1m-116 1h1m1 0h1m30 0h1m17 0h1m48 0h1m16 0h1m5 0h1m3 0h1m-108 1h1m13 0h1m11 0h1m10 0h1m25 0h1m7 0h1m19 0h1m5 0h1m19 0h1m-110 1h1m8 0h1m18 0h1m12 0h1m43 0h1m8 0h1m12 0h1m-134 1h1m7 0h1m29 0h1m2 0h2m28 0h1m5 0h1m5 0h2m17 0h2m25 0h1m-120 1h1m23 0h2m2 0h1m9 0h1m39 0h1m5 0h1m1 0h1m22 0h1m-100 1h1m17 0h1m32 0h1m2 0h1m10 0h1m39 0h1m-99 1h2m2 0h1m4 0h1m51 0h1m30 0h1m-109 1h1m25 0h1m8 0h1m19 0h1m9 0h1m17 0h1m3 0h1m8 0h1m13 0h1m-122 1h1m8 0h1m28 0h1m25 0h1m1 0h1m12 0h2m9 0h1m8 0h1m27 0h1m-8 1h1m11 0h1m3 0h1m-132 1h1m6 0h1m6 0h1m6 0h1m5 0h1m11 0h1m2 0h1m27 0h2m5 0h1m15 0h1m13 0h1m13 0h1m5 0h1m3 0h1m-127 1h1m4 0h1m29 0h1m5 0h1m9 0h1m5 0h1m6 0h1m4 0h1m2 0h1m10 0h1m17 0h1m7 0h1m12 0h1m-123 1h1m13 0h2m5 0h1m26 0h2m23 0h1m23 0h1m18 0h1m-124 1h1m4 0h1m50 0h1m15 0h1m3 0h1m3 0h1m3 0h1m10 0h1m34 0h1m-131 1h1m16 0h2m15 0h1m5 0h1m78 0h1m1 0h1m-119 1h1m9 0h1m9 0h2m13 0h1m10 0h1m5 0h1m13 0h2m11 0h1m10 0h1m-74 1h1m3 0h1m5 0h1m18 0h1m9 0h1m30 0h1m1 0h2m31 0h1m-124 1h1m24 0h1m17 0h1m27 0h1m3 0h1m21 0h1m30 0h1m2 0h1"/>
<path stroke="#858585" d="M8 0.5h1m23 0h1m5 0h1m9 0h1m30 0h1m15 0h1m-82 1h1m39 0h1m29 0h1m5 0h1m-89 1h1m18 0h1m23 0h1m28 0h1m2 0h1m17 0h1m9 0h1m10 0h1m-113 1h1m11 0h1m4 0h1m10 0h1m17 0h2m2 0h1m44 0h1m-62 1h1m12 0h1m10 0h1m19 0h1m8 0h1m8 0h1m10 0h1m11 0h1m5 0h1m2 0h1m-129 1h2m16 0h1m6 0h1m22 0h1m21 0h1m22 0h1m12 0h1m16 0h1m-120 1h1m7 0h1m1 0h2m29 0h1m9 0h1m23 0h1m1 0h1m22 0h1m5 0h1m11 0h1m-96 1h1m7 0h2m28 0h1m43 0h1m26 0h1m-112 1h1m45 0h1m12 0h1m4 0h1m5 0h1m3 0h1m-25 1h1m3 0h1m12 0h1m2 0h1m4 0h1m1 0h1m-55 1h1m27 0h2m53 0h1m1 0h1m-126 1h1m1 0h1m3 0h1m33 0h2m62 0h1m-101 1h1m22 0h1m6 0h1m4 0h1m15 0h1m34 0h1m-91 1h1m50 0h1m44 0h1m-109 1h1m8 0h1m24 0h2m10 0h1m17 0h1m1 0h1m3 0h1m54 0h1m-124 1h1m3 0h1m1 0h2m7 0h1m12 0h1m9 0h1m71 0h1m26 0h1m-134 1h1m72 0h1m9 0h1m24 0h1m14 0h1m-114 1h1m3 0h2m5 0h2m2 0h1m8 0h1m7 0h1m28 0h1m1 0h2m3 0h1m7 0h1m-93 1h1m1 0h1m59 0h1m26 0h1m-75 1h2m13 0h1m27 0h1m17 0h1m14 0h1m4 0h2m-51 1h2m8 0h1m3 0h1m26 0h1m13 0h2m2 0h1m26 0h4m-84 1h1m5 0h1m6 0h1m2 0h1m10 0h1m7 0h1m14 0h1m1 0h1m4 0h2m9 0h1m8 0h1m-109 1h1m8 0h1m43 0h1m25 0h1m22 0h1m4 0h1m-102 1h1m44 0h1m21 0h2m34 0h1m4 0h1m-96 1h1m4 0h1m4 0h1m18 0h1m8 0h1m39 0h1m-114 1h1m30 0h1m8 0h1m23 0h1m20 0h1m44 0h1m2 0h1m-113 1h1m52 0h1m24 0h1m14 0h1m1 0h1m-46 1h1m11 0h1m3 0h1m6 0h1m-71 1h1m43 0h1m11 0h1m33 0h1m8 0h2m-20 1h1m8 0h1m7 0h1m-120 1h1m13 0h1m22 0h1m18 0h1m7 0h1m13 0h2m8 0h1m7 0h2m-52 1h1m10 0h1m31 0h1m31 0h1m5 0h1m-113 1h1m41 0h1m15 0h1m15 0h1m4 0h1m15 0h1m18 0h1m-115 1h1m9 0h1m8 0h1m9 0h1m32 0h1m4 0h1m-67 1h1m36 0h1m26 0h1m24 0h1m13 0h1m4 0h2m-85 1h1m5 0h1m22 0h1m17 0h1m11 0h1m-101 1h1m9 0h1m59 0h1m6 0h1m49 0h1m-134 1h1m23 0h1m2 0h1m1 0h1m6 0h1m31 0h2m1 0h1m7 0h1m3 0h1m3 0h2m16 0h1m7 0h1m-110 1h1m2 0h1m19 0h1m14 0h1m44 0h1m16 0h1m5 0h1m14 0h1m-124 1h1m14 0h1m2 0h1m39 0h1m48 0h1m1 0h1m-102 1h2m7 0h1m12 0h2m4 0h1m24 0h1m7 0h1m59 0h1m-135 1h1m44 0h1m16 0h1m16 0h1m22 0h1m-103 1h2m2 0h1m19 0h1m25 0h1m1 0h1m9 0h2m4 0h1m26 0h1m1 0h1m6 0h1m3 0h1m-93 1h1m11 0h1m26 0h1m5 0h1m15 0h1m5 0h1m15 0h1m8 0h1m-106 1h1m2 0h1m12 0h1m23 0h1m9 0h1m2 0h1m18 0h1m16 0h1m12 0h1m-102 1h2m2 0h1m47 0h1m2 0h1m4 0h1m12 0h1m15 0h1m3 0h1m-91 1h1m33 0h1m35 0h1m1 0h1m50 0h1m2 0h1m-12 1h1m16 0h1m-113 1h1m18 0h1m2 0h1m14 0h1m4 0h1m13 0h1m29 0h1m17 0h1m-116 1h1m65 0h1m16 0h1m4 0h1m17 0h1m9 0h1m-132 1h1m2 0h1m17 0h1m44 0h1m1 0h1m6 0h1m21 0h2m4 0h1m27 0h2m-112 1h1m28 0h2m3 0h1m29 0h1m5 0h1m40 0h1m-131 1h1m21 0h1m12 0h1m10 0h1m39 0h1m11 0h1m32 0h1m-75 1h1m8 0h1m14 0h1m50 0h1m-129 1h1m2 0h1m71 0h1m6 0h1m5 0h2m2 0h1m32 0h1m5 0h1m-134 1h1m13 0h1m39 0h1m16 0h1m-65 1h1m17 0h1m20 0h2m5 0h1m20 0h1m4 0h1m18 0h1m15 0h1m-119 1h1m30 0h1m18 0h1m5 0h1m26 0h2m2 0h1m35 0h1m-114 1h1m11 0h1m20 0h1m16 0h1m33 0h1m24 0h1m-104 1h2m7 0h1m18 0h1m3 0h1m5 0h1m43 0h1m10 0h1m21 0h1m-108 1h1m32 0h1m13 0h1m26 0h1m7 0h1m11 0h1m4 0h2m13 0h1m-137 1h1m18 0h1m39 0h1m25 0h1m17 0h1m6 0h1m-110 1h1m13 0h2m40 0h1m35 0h1m14 0h1m-96 1h1m24 0h1m54 0h1m13 0h1m18 0h1m8 0h1m-130 1h2m5 0h1m18 0h1m22 0h1m5 0h1m11 0h1m4 0h1m47 0h1m2 0h1m-77 1h1m7 0h1m2 0h1m38 0h1m11 0h1m4 0h1m8 0h1m1 0h1m2 0h2m-97 1h1m16 0h1m27 0h1m12 0h1m5 0h1m9 0h1m10 0h1m-117 1h1m35 0h2m10 0h1m27 0h1m39 0h1m-95 1h1m46 0h1m6 0h1m34 0h1m3 0h2m-33 1h1m6 0h1m20 0h1m-29 1h2m42 0h1m-129 1h1m4 0h1m3 0h1m18 0h1m16 0h1m33 0h2m15 0h1m14 0h1m15 0h2m-123 1h1m4 0h1m91 0h1m7 0h1m5 0h1m9 0h1m-126 1h1m48 0h1m26 0h1m15 0h1m27 0h1m2 0h2m-124 1h1m1 0h1m20 0h1m28 0h1m8 0h1m9 0h1m-84 1h1m24 0h1m54 0h1m13 0h1m30 0h1m-122 1h1m3 0h1m8 0h2m2 0h1m3 0h1m6 0h1m12 0h1m6 0h1m1 0h1m9 0h1m14 0h2m42 0h1m-125 1h1m18 0h1m13 0h1m23 0h1m28 0h1m1 0h1m6 0h2m1 0h1m2 0h1m29 0h1m-113 1h1m44 0h1m25 0h1m5 0h1m23 0h1m10 0h1m2 0h1m1 0h1m-116 1h1m18 0h2m9 0h1m1 0h1m5 0h1m51 0h1m24 0h1m-102 1h1m7 0h1m7 0h1m4 0h2m22 0h1m8 0h1m31 0h1m-122 1h1m61 0h1m10 0h1m27 0h1m11 0h1m8 0h1m-123 1h1m10 0h1m9 0h1m27 0h1m33 0h1m42 0h1m-118 1h1m7 0h1m29 0h1m30 0h1m27 0h2m15 0h2m-101 1h1m14 0h1m10 0h1m3 0h1m33 0h1m40 0h1m-120 1h1m3 0h1m12 0h1m11 0h1m23 0h1m13 0h1m15 0h1m1 0h1m11 0h1m18 0h1m3 0h1m-103 1h1m9 0h1m17 0h1m25 0h1m30 0h1m24 0h1m-127 1h1m86 0h1m4 0h1m16 0h1m-112 1h1m1 0h1m90 0h1m26 0h1m-121 1h1m24 0h2m16 0h1m9 0h1m10 0h1m17 0h1m19 0h1m-78 1h1m32 0h1m11 0h1m41 0h1m6 0h2m2 0h1m-133 1h1m94 0h1m3 0h2m29 0h1m6 0h1m-122 1h1m7 0h1m42 0h1m13 0h1m27 0h1m9 0h1m-119 1h1m22 0h1m1 0h1m10 0h1m4 0h1m5 0h1m25 0h2m1 0h1m14 0h1m19 0h1m5 0h1m-89 1h2m2 0h1m7 0h1m18 0h1m3 0h1m30 0h1m27 0h1m-122 1h1m28 0h1m55 0h1m29 0h1m10 0h1m-123 1h1m7 0h2m3 0h1m6 0h1m6 0h1m17 0h1m11 0h1m3 0h1m51 0h1m13 0h1m3 0h1m-129 1h1m10 0h1m7 0h1m8 0h1m13 0h1m25 0h1m13 0h1m1 0h1m1 0h1m1 0h1m5 0h1m6 0h1m23 0h1m-109 1h1m36 0h1m26 0h1m2 0h1m4 0h1m6 0h1m-96 1h2m33 0h2m38 0h1m41 0h1m-108 1h1m7 0h1m16 0h1m24 0h1m9 0h1m8 0h1m30 0h1m11 0h1m4 0h1m-131 1h1m20 0h1m1 0h2m25 0h1m7 0h1m54 0h2m-98 1h1m87 0h1m6 0h2m-116 1h1m36 0h1m26 0h1m29 0h1m7 0h2m15 0h2m6 0h1m-121 1h1m30 0h1m12 0h1m6 0h1m5 0h2m14 0h3m34 0h1m-108 1h1m2 0h1m5 0h2m16 0h1m6 0h1m24 0h1m2 0h1m1 0h1m7 0h1m33 0h1m-123 1h1m23 0h2m2 0h1m27 0h1m2 0h1m17 0h2m4 0h1m5 0h1m16 0h1m-107 1h2m16 0h2m41 0h1m22 0h1m5 0h1m2 0h1m9 0h1m-69 1h1m7 0h1m19 0h1m8 0h1m2 0h1m20 0h1m18 0h1m4 0h1m-120 1h1m7 0h1m53 0h1m56 0h1m-121 1h1m9 0h2m2 0h1m40 0h2m11 0h1m17 0h1m36 0h1m-122 1h1m7 0h1m6 0h2m25 0h1m10 0h1m17 0h2m15 0h2m31 0h1m-35 1h2m14 0h1m-83 1h1m40 0h2m11 0h1m13 0h1m11 0h1m20 0h1m-69 1h1m6 0h1m1 0h1m28 0h1m22 0h1m9 0h1m1 0h1m-80 1h1m8 0h1m9 0h2m8 0h1m2 0h1m3 0h1m30 0h3m-77 1h1m38 0h1m15 0h1m15 0h1m8 0h1m-123 1h1m39 0h1m21 0h1m27 0h1m11 0h1m10 0h1m14 0h1m-120 1h1m6 0h2m21 0h2m20 0h1m11 0h1m14 0h1m24 0h1m-101 1h1m35 0h1m12 0h1m9 0h1m15 0h1m6 0h2m-96 1h1m12 0h1m51 0h1m64 0h1m5 0h1m-98 1h1m19 0h1m7 0h1m7 0h1m6 0h1m21 0h1m-108 1h1m7 0h1m1 0h1m57 0h1m16 0h2m19 0h1m-99 1h1m9 0h1m39 0h1m2 0h1m27 0h1m6 0h1m17 0h1m6 0h1m13 0h1m-134 1h1m44 0h1m17 0h1m40 0h1m-104 1h2m4 0h1m45 0h1m75 0h1m7 0h1m-132 1h2m8 0h1m33 0h1m2 0h1m38 0h1m15 0h1m-101 1h1m7 0h1m1 0h1m44 0h1m18 0h1m1 0h1m16 0h1m1 0h1m4 0h1m4 0h1m16 0h1m-115 1h1m40 0h1m24 0h1m21 0h1m26 0h1m-133 1h2m4 0h1m6 0h1m39 0h1m28 0h1m-64 1h1m45 0h1m35 0h1m-104 1h1m8 0h1m6 0h1m4 0h1m46 0h1m23 0h1m19 0h1m18 0h1m-124 1h1m41 0h1m5 0h1m48 0h1m9 0h1m1 0h1m1 0h1m9 0h2m-119 1h1m8 0h1m16 0h3m8 0h1m77 0h2m-123 1h1m43 0h1m5 0h1m6 0h1m41 0h1m4 0h1m13 0h2m10 0h1m1 0h2m-138 1h1m7 0h1m25 0h1m102 0h1m-135 1h1m12 0h1m50 0h1m45 0h1m-114 1h1m9 0h1m5 0h1m40 0h1m27 0h1m42 0h1m1 0h1m-96 1h1m5 0h1m22 0h1m6 0h1m11 0h1m-71 1h1m11 0h1m26 0h1m32 0h1m14 0h1m13 0h1m5 0h1m12 0h1m-133 1h1m19 0h1m51 0h1m16 0h1m3 0h1m16 0h1"/>
<path stroke="#909090" d="M19 0.5h1m7 0h1m5 0h1m9 0h1m17 0h1m2 0h2m8 0h1m36 0h1m20 0h1m7 0h1m-122 1h1m7 0h1m25 0h1m14 0h2m4 0h1m2 0h1m1 0h1m5 0h1m16 0h1m4 0h1m11 0h3m10 0h1m-130 1h2m4 0h1m1 0h1m10 0h1m14 0h1m43 0h2m15 0h1m8 0h1m7 0h1m10 0h3m10 0h1m-125 1h1m1 0h1m4 0h1m10 0h1m3 0h1m7 0h1m18 0h1m21 0h2m10 0h1m17 0h1m4 0h2m3 0h1m2 0h1m4 0h1m3 0h1m-110 1h1m7 0h1m7 0h1m14 0h1m3 0h1m10 0h1m3 0h1m10 0h1m2 0h1m33 0h1m12 0h1m-120 1h1m10 0h1m14 0h1m9 0h1m2 0h1m2 0h1m16 0h1m51 0h1m4 0h1m-129 1h2m13 0h1m5 0h1m8 0h1m7 0h1m39 0h1m15 0h1m21 0h1m8 0h1m-126 1h2m5 0h1m10 0h1m4 0h1m34 0h2m34 0h2m9 0h2m8 0h1m-121 1h1m17 0h1m8 0h1m54 0h1m3 0h2m8 0h1m18 0h1m10 0h1m-113 1h1m3 0h1m6 0h1m4 0h1m6 0h1m10 0h1m6 0h1m18 0h1m2 0h1m3 0h1m9 0h1m4 0h1m20 0h1m7 0h1m8 0h1m-129 1h1m7 0h2m1 0h1m5 0h1m7 0h1m4 0h2m20 0h1m9 0h3m13 0h1m6 0h2m25 0h1m13 0h1m-137 1h1m3 0h1m6 0h1m1 0h1m8 0h2m1 0h2m1 0h1m42 0h1m8 0h2m1 0h1m18 0h1m14 0h1m2 0h1m1 0h1m6 0h1m5 0h1m-123 1h1m8 0h2m4 0h1m30 0h1m1 0h1m6 0h1m11 0h2m3 0h1m4 0h2m29 0h1m12 0h1m-133 1h1m13 0h1m5 0h2m2 0h1m2 0h1m9 0h1m18 0h2m20 0h1m10 0h1m13 0h1m27 0h1m-132 1h1m12 0h1m2 0h1m7 0h1m4 0h1m10 0h1m15 0h2m8 0h1m6 0h1m4 0h1m7 0h1m39 0h1m11 0h1m-134 1h1m17 0h1m13 0h1m2 0h1m7 0h1m3 0h1m2 0h1m6 0h1m24 0h1m45 0h2m-130 1h1m9 0h2m6 0h1m2 0h1m19 0h1m28 0h1m6 0h1m10 0h1m10 0h1m17 0h1m1 0h2m8 0h1m2 0h1m-104 1h1m6 0h1m3 0h1m4 0h1m4 0h1m11 0h1m57 0h1m5 0h1m2 0h2m1 0h1m-121 1h2m9 0h1m11 0h2m25 0h1m61 0h1m-130 1h1m3 0h1m6 0h1m23 0h1m17 0h3m55 0h2m-111 1h1m1 0h1m6 0h1m22 0h1m1 0h1m26 0h2m32 0h1m8 0h2m17 0h2m-129 1h1m5 0h1m12 0h2m15 0h2m10 0h1m59 0h1m17 0h1m-107 1h1m2 0h1m30 0h1m6 0h1m1 0h1m-63 1h1m23 0h1m11 0h1m13 0h2m13 0h1m4 0h1m57 0h1m5 0h1m-128 1h1m27 0h1m2 0h1m7 0h1m6 0h1m14 0h1m63 0h1m1 0h2m-130 1h2m16 0h1m22 0h1m4 0h1m1 0h1m13 0h1m32 0h2m26 0h2m1 0h1m1 0h1m-99 1h1m10 0h1m13 0h3m28 0h2m13 0h1m6 0h1m-110 1h1m28 0h1m9 0h1m1 0h2m5 0h1m3 0h1m16 0h1m22 0h1m9 0h1m13 0h1m3 0h1m7 0h1m-108 1h2m56 0h1m35 0h1m2 0h1m-119 1h1m27 0h1m7 0h3m12 0h1m3 0h1m15 0h1m25 0h1m17 0h1m4 0h1m2 0h3m-128 1h1m10 0h1m2 0h2m4 0h1m1 0h1m21 0h2m5 0h1m5 0h1m9 0h1m3 0h1m48 0h1m11 0h1m-131 1h1m8 0h1m2 0h2m10 0h1m1 0h2m8 0h1m5 0h1m1 0h1m3 0h1m5 0h2m13 0h1m1 0h1m24 0h2m15 0h1m-114 1h1m2 0h3m8 0h1m12 0h1m4 0h1m2 0h2m4 0h2m73 0h1m-121 1h1m4 0h1m3 0h1m4 0h1m10 0h1m1 0h1m3 0h1m68 0h1m28 0h1m-130 1h1m13 0h1m6 0h2m2 0h2m19 0h1m4 0h1m3 0h1m5 0h1m33 0h2m30 0h1m2 0h1m-133 1h1m10 0h1m6 0h1m4 0h1m19 0h1m5 0h1m7 0h1m40 0h1m7 0h1m18 0h1m-126 1h1m9 0h2m5 0h1m14 0h1m21 0h1m3 0h1m23 0h1m6 0h1m17 0h1m14 0h1m1 0h2m-121 1h1m32 0h1m7 0h1m4 0h1m69 0h1m2 0h2m-122 1h3m4 0h1m34 0h2m47 0h1m1 0h2m26 0h1m-119 1h1m13 0h1m4 0h2m12 0h1m10 0h1m6 0h1m24 0h1m5 0h1m4 0h1m-72 1h1m16 0h1m13 0h1m4 0h1m18 0h1m4 0h1m3 0h1m1 0h1m-84 1h1m17 0h1m2 0h1m21 0h1m2 0h1m1 0h1m28 0h1m-74 1h1m17 0h1m53 0h3m11 0h1m3 0h1m1 0h2m1 0h1m-103 1h2m66 0h1m12 0h1m17 0h2m-60 1h1m9 0h2m20 0h2m9 0h1m37 0h1m-117 1h1m33 0h1m16 0h1m15 0h1m15 0h1m2 0h1m2 0h1m11 0h1m16 0h1m-115 1h2m31 0h1m41 0h1m-89 1h2m45 0h3m10 0h1m5 0h1m6 0h1m17 0h1m2 0h1m35 0h1m-119 1h1m34 0h2m12 0h1m6 0h1m6 0h1m11 0h1m3 0h1m4 0h2m3 0h1m20 0h1m1 0h1m7 0h1m6 0h2m-129 1h1m47 0h1m12 0h1m14 0h1m2 0h1m31 0h1m1 0h1m-114 1h1m37 0h2m3 0h1m1 0h4m60 0h1m-118 1h1m45 0h1m16 0h1m12 0h1m7 0h1m-26 1h1m19 0h2m7 0h1m42 0h1m3 0h1m-136 1h1m1 0h2m59 0h1m10 0h2m40 0h1m19 0h1m-136 1h2m4 0h1m3 0h1m15 0h2m12 0h2m13 0h1m7 0h2m23 0h1m27 0h1m3 0h1m10 0h1m-126 1h2m52 0h1m-55 1h1m3 0h1m41 0h1m6 0h2m6 0h1m1 0h1m-26 1h1m14 0h1m-59 1h2m9 0h1m33 0h1m7 0h1m6 0h1m20 0h1m8 0h1m16 0h2m21 0h1m-132 1h1m5 0h1m35 0h1m3 0h1m7 0h1m13 0h1m17 0h1m6 0h1m37 0h1m-90 1h1m1 0h1m1 0h1m7 0h1m6 0h2m5 0h1m37 0h1m14 0h1m-74 1h1m10 0h1m22 0h1m7 0h2m27 0h1m-125 1h1m1 0h1m6 0h3m38 0h1m23 0h1m12 0h2m5 0h2m14 0h1m17 0h1m4 0h1m3 0h1m-137 1h1m11 0h2m39 0h1m14 0h1m6 0h1m14 0h1m36 0h1m4 0h1m-98 1h1m28 0h1m25 0h1m41 0h1m-62 1h1m19 0h1m14 0h2m-85 1h2m2 0h1m6 0h1m9 0h1m2 0h1m7 0h1m7 0h2m25 0h2m24 0h2m13 0h1m-114 1h1m4 0h1m3 0h1m22 0h1m2 0h1m19 0h1m10 0h1m9 0h2m9 0h1m4 0h1m-101 1h1m28 0h1m9 0h2m24 0h1m2 0h1m27 0h2m-92 1h1m5 0h1m6 0h1m2 0h1m29 0h1m22 0h4m22 0h1m16 0h1m-124 1h1m9 0h1m1 0h2m3 0h1m4 0h1m1 0h1m72 0h1m9 0h2m5 0h2m2 0h2m3 0h1m-124 1h1m19 0h1m8 0h1m5 0h1m10 0h2m49 0h1m4 0h1m2 0h1m6 0h1m-105 1h1m25 0h1m20 0h1m1 0h4m14 0h1m8 0h1m16 0h1m25 0h3m-122 1h1m7 0h1m32 0h3m14 0h1m3 0h1m2 0h1m10 0h1m37 0h2m-122 1h1m1 0h1m6 0h1m21 0h2m3 0h1m27 0h1m6 0h2m5 0h1m7 0h1m10 0h2m8 0h1m-116 1h2m4 0h1m1 0h1m13 0h1m62 0h1m8 0h1m2 0h1m8 0h1m3 0h1m5 0h1m1 0h2m2 0h2m-124 1h2m10 0h1m9 0h1m10 0h1m19 0h1m4 0h2m16 0h1m10 0h1m3 0h1m27 0h1m3 0h1m-121 1h1m20 0h1m2 0h1m25 0h1m12 0h1m1 0h1m5 0h1m33 0h1m-106 1h1m22 0h2m24 0h1m22 0h2m30 0h1m4 0h1m-107 1h3m15 0h1m48 0h1m1 0h1m1 0h1m1 0h1m30 0h1m9 0h2m-114 1h1m8 0h1m4 0h1m39 0h1m5 0h1m5 0h1m39 0h1m15 0h2m8 0h1m-130 1h1m6 0h1m5 0h1m25 0h1m5 0h2m45 0h2m-105 1h1m2 0h1m6 0h2m5 0h2m5 0h1m32 0h2m4 0h1m5 0h1m9 0h1m1 0h1m4 0h1m17 0h1m13 0h1m11 0h1m-106 1h2m31 0h1m10 0h1m8 0h1m20 0h2m-99 1h1m7 0h1m6 0h2m7 0h1m14 0h1m11 0h1m9 0h1m4 0h2m8 0h2m29 0h1m12 0h1m15 0h1m-134 1h1m4 0h1m12 0h1m17 0h1m17 0h1m19 0h1m5 0h1m36 0h1m-108 1h1m7 0h1m19 0h1m23 0h2m13 0h1m-82 1h1m1 0h2m14 0h1m1 0h1m21 0h1m19 0h1m3 0h2m14 0h1m4 0h1m32 0h1m5 0h1m-123 1h1m13 0h1m42 0h1m26 0h2m14 0h1m2 0h1m-104 1h1m4 0h1m106 0h2m-111 1h1m3 0h1m1 0h1m47 0h2m1 0h1m40 0h1m29 0h1m-79 1h1m28 0h1m10 0h1m21 0h2m-113 1h1m19 0h2m37 0h1m9 0h1m30 0h2m3 0h1m11 0h1m-112 1h1m2 0h1m74 0h1m13 0h1m2 0h1m-108 1h1m30 0h1m25 0h2m2 0h1m1 0h1m22 0h2m27 0h1m-116 1h1m9 0h1m44 0h1m2 0h1m1 0h1m34 0h1m23 0h1m3 0h1m-126 1h1m10 0h1m8 0h1m18 0h1m14 0h1m3 0h1m15 0h1m12 0h1m1 0h1m15 0h1m3 0h2m13 0h2m1 0h2m-121 1h1m1 0h1m76 0h1m3 0h2m22 0h1m9 0h1m1 0h1m5 0h1m-128 1h1m11 0h1m3 0h1m26 0h2m32 0h1m22 0h1m8 0h1m7 0h1m-122 1h1m6 0h1m7 0h2m43 0h1m30 0h1m36 0h1m-123 1h2m3 0h2m8 0h1m65 0h1m6 0h1m13 0h1m27 0h1m-137 1h1m14 0h1m45 0h1m27 0h1m24 0h1m-113 1h1m16 0h1m25 0h1m5 0h4m37 0h2m5 0h1m3 0h2m9 0h1m-109 1h1m42 0h2m12 0h1m28 0h2m3 0h1m2 0h1m-101 1h1m2 0h1m4 0h1m87 0h1m-100 1h1m9 0h2m5 0h1m6 0h1m35 0h1m15 0h1m2 0h1m18 0h2m7 0h1m23 0h2m-82 1h3m6 0h1m34 0h1m13 0h1m6 0h3m-92 1h1m22 0h2m33 0h1m30 0h3m11 0h1m-92 1h1m8 0h1m3 0h1m60 0h1m-12 1h1m27 0h1m-128 1h2m38 0h1m5 0h1m4 0h1m47 0h1m-82 1h1m52 0h1m32 0h1m3 0h1m-61 1h1m8 0h2m19 0h1m23 0h1m-90 1h1m43 0h2m54 0h2m-37 1h1m29 0h1m-52 1h1m54 0h1m-64 1h1m3 0h1m55 0h1m7 0h3m-123 1h1m41 0h1m4 0h1m15 0h1m5 0h1m24 0h1m9 0h1m6 0h1m1 0h1m-63 1h1m13 0h1m28 0h1m7 0h1m11 0h1m14 0h1m5 0h1m-91 1h1m30 0h1m25 0h3m10 0h1m2 0h1m8 0h1m-75 1h2m2 0h1m34 0h1m3 0h2m3 0h1m22 0h1m1 0h1m12 0h1m-131 1h1m2 0h1m35 0h1m5 0h1m7 0h1m57 0h2m10 0h1m-85 1h1m6 0h1m1 0h1m62 0h2m5 0h2m2 0h1m-41 1h1m6 0h1m17 0h1m3 0h1m10 0h1m2 0h1m-117 1h2m73 0h1m4 0h1m7 0h1m14 0h2m-17 1h1m5 0h1m9 0h1m10 0h1m4 0h1m-126 1h1m46 0h1m32 0h1m20 0h1m21 0h1m3 0h1m-129 1h1m5 0h1m46 0h1m26 0h1m5 0h1m6 0h1m11 0h1m8 0h1m1 0h1m-111 1h1m34 0h2m2 0h1m33 0h1m14 0h1m12 0h1m10 0h1m-74 1h1m21 0h1m7 0h2m47 0h1m-85 1h1m6 0h1m61 0h1m4 0h1m-105 1h1m85 0h2m10 0h1m-112 1h1m48 0h1m55 0h1m-106 1h1m45 0h1m58 0h1m3 0h3m15 0h1m-123 1h1m40 0h1m50 0h1m12 0h1m-119 1h1m7 0h1m25 0h1m-34 1h1m58 0h1m46 0h1m14 0h2m7 0h1m-122 1h1m4 0h1m49 0h1m43 0h1m8 0h1m2 0h1m1 0h1m-66 1h1m5 0h1m1 0h1m15 0h1m26 0h1m8 0h1m2 0h1m-86 1h1m48 0h1m5 0h2m9 0h1m10 0h1m-101 1h2m87 0h1m7 0h1m23 0h1"/>
<path stroke="#9b9b9b" d="M15 0.5h1m91 0h1m25 0h1m-31 1h1m29 0h1m6 0h1m-103 1h1m97 0h1m-119 1h1m25 0h1m82 0h1m-107 1h1m41 0h1m16 0h2m39 0h1m12 0h1m1 0h2m-57 1h1m44 0h1m-113 1h1m2 0h1m40 0h1m27 0h1m49 0h1m-120 1h1m19 0h2m47 0h1m32 0h1m-103 1h1m14 0h1m54 0h1m32 0h1m2 0h1m-103 1h1m18 0h1m19 0h1m-24 1h1m95 0h2m-125 1h1m16 0h1m5 0h1m38 0h1m48 0h1m11 0h2m1 0h1m-108 1h1m10 0h1m45 0h1m-72 1h1m18 0h1m103 0h1m-138 1h1m51 0h1m70 0h1m10 0h1m3 0h1m-122 1h1m7 0h1m4 0h1m3 0h1m92 0h1m4 0h1m-108 1h1m4 0h1m10 0h1m-8 1h1m96 1h1m-80 1h1m75 1h1m-85 1h1m1 0h1m81 0h1m-127 1h1m41 0h1m7 0h1m-15 1h2m17 0h1m71 0h1m-94 1h1m2 0h1m15 0h2m1 0h1m69 0h1m-125 1h1m41 0h1m6 0h1m-50 1h2m34 0h2m2 0h1m-45 1h1m32 0h1m22 0h1m-20 1h1m18 0h1m-25 1h1m20 0h1m-1 1h1m-52 1h2m2 1h1m31 0h1m85 1h1m3 0h1m-129 1h1m15 0h1m4 0h1m81 0h1m-88 1h1m84 3h1m-97 1h1m43 0h1m49 0h1m-98 1h1m1 0h2m79 0h1m-1 1h1m2 0h1m-1 1h1m1 0h1m-83 1h2m61 0h1m-64 1h2m35 0h1m-37 1h1m76 0h2m2 0h1m-18 2h1m-2 1h2m15 0h1m-22 1h1m-65 2h1m-6 3h1m3 0h1m-5 1h1m3 0h1m121 0h1m-127 1h2m71 0h1m-73 2h1m6 0h1m-3 1h1m64 0h1m17 0h2m-20 1h1m18 0h1m-25 1h1m-66 1h1m47 0h1m3 0h1m1 0h1m12 1h1m-15 1h1m17 3h1m-49 2h1m21 0h3m9 0h1m54 0h1m-36 2h1m-20 4h1m57 0h1m-38 1h1m43 0h1m-115 1h1m52 0h3m56 0h1m4 0h1m-68 1h1m20 0h1m45 0h1m-66 1h1m64 0h1m-119 1h1m53 0h1m57 0h1m-119 1h1m57 0h1m65 0h1m-105 1h1m38 0h1m17 0h1m1 1h1m1 0h1m-63 3h1m43 0h1m-63 2h1m83 0h1m-27 1h1m-55 2h1m54 0h2m-64 2h1m4 0h1m1 0h1m-9 1h1m3 0h1m-1 1h1m4 0h1m50 0h1m-61 1h1m124 1h1m-109 5h2m-4 3h2m-2 1h1m1 0h1m1 0h1m-1 1h1m29 1h1m1 3h1m-2 2h1m-2 1h2m2 2h1m59 0h1m-2 1h1m2 1h1m-67 1h1m9 0h1m42 1h1m27 1h2m-11 2h1m8 2h1m-5 1h1m0 1h1m-8 1h1"/>
<path stroke="#a6a6a6" d="M2 0.5h1m80 0h2m-68 1h1m87 0h1m6 0h1m-86 1h1m23 0h1m60 0h1m22 0h1m-98 1h1m40 0h1m32 0h1m-70 1h2m21 0h1m-21 1h1m37 0h1m17 0h1m17 0h1m17 2h1m-133 1h1m120 0h1m-4 2h2m-106 1h1m52 0h1m19 0h1m-74 1h1m-11 1h1m19 0h1m13 0h1m40 1h1m-15 1h2m-33 1h1m55 0h1m-75 1h1m30 0h1m20 0h1m20 0h1m10 0h1m-99 2h1m107 2h1m-78 1h1m-36 1h1m45 0h1m14 0h1m71 0h1m-95 1h1m48 0h1m9 0h1m24 2h2m-62 1h1m9 1h1m18 0h1m13 0h2m-50 1h1m21 0h1m-12 2h1m61 0h1m-92 1h1m-1 1h1m12 0h1m66 1h1m-2 1h1m-44 3h1m5 0h1m-77 1h1m41 0h1m6 0h1m33 0h1m-90 1h1m33 0h1m61 0h1m11 0h2m-18 1h1m3 0h1m-30 1h1m37 0h1m-67 1h1m20 0h1m13 1h1m-32 1h2m-40 1h1m62 0h3m37 0h1m-90 1h1m21 1h1m47 0h1m-49 1h1m17 1h1m11 0h1m-15 1h1m1 0h1m58 0h1m-89 1h1m87 0h1m-92 1h1m87 0h1m2 0h1m4 0h1m2 0h1m-84 2h1m8 1h1m67 0h1m-63 3h1m17 0h1m-12 1h1m44 0h1m-60 1h1m67 0h1m-116 1h1m48 0h1m33 0h1m33 0h1m0 1h1m9 0h1m-84 1h1m39 0h1m15 0h1m-17 1h1m-58 2h2m38 0h1m17 0h1m-80 1h1m1 0h1m117 0h1m-118 1h2m40 0h1m46 0h1m2 0h2m-23 1h6m-71 1h1m52 0h1m-33 1h1m6 0h1m77 0h1m-4 2h1m-88 1h1m2 0h1m48 0h1m16 0h1m-108 2h1m2 0h1m67 0h1m-68 1h1m44 0h1m4 0h1m6 0h1m41 0h1m-101 1h1m59 0h1m-42 1h1m10 0h1m9 0h1m-2 1h1m32 0h1m-58 1h1m-6 1h1m67 0h1m37 0h1m-122 1h1m49 0h1m33 0h2m13 0h2m32 1h1m-128 1h1m11 1h1m71 0h1m-49 2h1m33 2h1m15 0h1m12 0h1m24 0h1m-123 1h1m3 0h1m-2 1h1m103 0h1m7 0h1m-115 1h1m38 0h1m79 0h1m-128 1h1m20 2h1m57 1h1m30 0h1m-101 1h1m42 0h1m56 0h1m-106 3h1m28 0h1m58 0h1m-81 1h1m86 0h1m-78 1h1m73 0h1m-77 1h1m86 0h1m-63 1h1m35 0h1m31 0h1m-68 1h1m44 0h1m-73 2h1m9 1h1m46 0h1m8 1h1m14 0h1m11 0h1m-66 1h1m5 0h1m56 1h1m-31 1h1m-18 1h1m22 1h1m-69 1h1m9 0h1m14 0h1m10 0h1m5 0h1m-13 2h1m5 0h1m4 0h2m42 0h1m-57 2h1m27 0h1m46 1h1m4 0h1m-22 1h1m17 0h1m-112 1h1m71 0h1m4 1h1m-76 1h1m24 0h1m49 0h1m-54 2h1m19 0h1m-55 1h1m83 0h1m-71 1h1m70 0h1m32 1h1m-80 1h2m65 0h1m-92 1h1m12 0h1m23 1h1m22 0h1m52 1h1m-125 1h1m-10 1h1m13 0h1m-2 1h1m55 0h1m12 1h1m22 0h1m-24 1h1"/>
<path stroke="#b1b1b1" d="M106 0.5h1m-105 1h1m68 0h1m34 0h1m22 0h1m-66 1h1m18 0h1m-73 1h1m18 1h1m11 0h1m76 0h2m-90 1h1m11 0h1m14 0h1m29 0h1m12 0h1m-90 1h1m23 0h1m52 0h1m-77 1h1m122 0h1m-122 1h1m88 0h1m31 0h1m-57 1h1m37 0h1m0 1h1m-85 1h1m3 0h1m34 0h1m52 0h2m-69 1h1m31 0h1m10 0h1m-103 1h1m18 0h1m67 0h1m-84 1h1m19 0h1m45 0h1m-25 1h1m17 0h1m-13 1h1m20 0h1m15 0h1m32 0h1m-70 1h1m11 0h1m29 0h1m34 0h1m-96 1h1m16 0h2m3 0h1m67 0h1m-88 1h1m5 0h1m-20 1h2m85 0h1m-98 1h2m8 0h2m104 1h1m-32 1h2m-23 1h1m33 1h1m-76 1h1m14 0h1m6 0h1m59 0h1m-54 1h1m27 0h1m-20 3h1m25 0h2m30 0h1m-101 1h1m9 1h1m12 0h1m29 0h1m-44 1h1m80 0h1m-20 1h1m8 1h1m-32 1h1m42 0h1m-129 1h1m21 0h1m94 1h1m-70 2h1m47 0h1m26 0h1m-32 1h1m8 0h1m22 0h1m-95 1h1m22 0h1m60 1h1m-68 1h1m16 0h1m8 1h1m4 0h1m22 0h1m-97 1h1m84 0h1m-4 1h1m11 0h2m25 0h2m-56 1h1m52 0h1m2 0h1m-81 1h1m23 0h1m6 0h1m12 0h1m41 0h1m-130 1h1m43 0h1m89 0h1m-106 1h1m23 0h1m14 1h1m-69 1h1m24 0h1m87 0h1m-76 1h1m58 0h1m19 0h1m-30 1h1m-90 1h1m126 0h1m-132 1h1m47 0h1m-41 2h1m41 0h1m0 2h1m57 0h1m-86 1h1m111 0h1m-120 1h1m8 0h1m82 0h1m15 0h1m6 0h1m-82 1h1m54 0h1m13 1h1m-31 1h1m-3 1h1m-6 1h1m44 0h1m-88 1h1m-17 2h1m55 0h1m-43 2h1m35 0h1m48 0h1m-110 1h1m2 0h1m73 0h1m-17 1h1m14 0h1m29 0h1m-109 1h1m43 1h1m47 0h1m-102 1h2m87 0h1m8 0h1m-80 1h1m-21 1h1m50 0h1m-26 2h1m23 0h1m-4 1h1m57 1h1m-103 1h1m15 0h1m1 1h1m59 0h1m-20 1h1m23 0h1m-89 1h1m61 0h2m-42 1h1m74 0h1m35 0h1m-93 1h1m16 0h1m66 1h1m-116 1h1m25 0h1m9 0h1m17 0h1m-54 1h1m108 0h1m-117 1h1m1 0h1m6 0h1m50 0h1m-42 2h1m7 0h1m54 0h1m5 0h1m-60 1h1m94 0h1m-108 1h1m63 0h1m46 0h1m-119 1h1m74 0h2m15 0h1m28 1h1m-120 1h1m56 1h1m25 0h1m-37 1h1m8 0h1m-58 3h1m60 0h1m15 0h1m29 1h1m-47 2h1m51 0h1m-1 1h1m-103 1h1m9 0h1m41 0h1m-30 1h1m21 0h1m14 0h1m16 0h1m-76 1h1m16 0h2m32 0h1m9 0h1m-9 2h1m28 0h2m-54 1h1m29 0h1m24 0h1m-94 1h1m93 0h1m-71 1h1m29 0h1m-76 1h1m1 0h1m28 0h1m60 0h1m22 1h1m-97 1h1m55 0h1m-57 1h1m29 0h1m46 0h1m26 0h1m6 0h1m-63 1h1m12 0h1m11 0h1m-44 1h1m57 0h1m-20 1h1m-7 3h2m33 0h1m-13 1h1m13 0h1m-121 1h1m22 0h1m32 0h1m64 1h1m-112 1h1m66 0h1m-61 3h1m39 0h1m50 0h1m-69 1h1m-40 1h1m89 0h1m31 0h1m2 1h1m-60 1h1"/>
<path stroke="#bcbcbc" d="M83 1.5h1m12 0h1m40 0h1m-60 1h2m37 0h1m-106 1h1m26 0h1m15 0h1m11 0h1m10 0h1m-67 1h1m28 0h1m17 0h1m-47 2h1m21 0h1m52 0h1m33 0h1m-117 1h1m55 0h1m8 0h1m-54 1h1m17 0h1m43 0h1m44 0h2m-126 1h1m37 0h1m42 0h1m17 1h1m17 0h1m-42 1h1m22 0h1m-71 1h1m2 0h1m19 0h1m50 0h1m34 0h1m-135 1h1m12 0h1m8 0h1m33 0h1m-48 1h1m64 0h1m37 0h1m-104 1h1m26 0h1m43 0h1m-63 2h1m37 0h1m70 0h1m-95 4h1m89 0h1m-83 1h2m2 0h1m59 0h1m20 0h1m1 0h1m-75 3h1m32 0h1m-37 1h1m-15 1h1m12 0h1m65 0h1m9 0h1m-90 1h2m12 0h1m-22 1h2m39 0h1m-41 1h1m39 0h1m47 1h2m-114 2h1m17 0h1m96 0h1m-96 1h1m26 0h2m42 0h1m1 1h1m-102 1h1m122 0h1m-127 1h1m39 0h1m43 0h1m-42 2h1m41 0h1m-48 1h1m61 0h1m-36 1h1m20 0h1m-79 1h1m44 0h1m32 0h2m-81 1h1m35 0h1m51 0h1m-49 1h1m25 0h1m-1 1h1m36 0h1m-102 1h1m123 0h1m-130 1h1m22 1h1m42 0h1m54 0h1m-70 1h1m69 0h1m3 0h1m-5 1h1m10 0h1m-68 1h1m23 0h1m-63 1h1m54 0h1m49 1h1m-85 1h1m-50 2h1m18 0h1m38 1h1m-2 1h1m64 0h1m-115 1h1m-7 1h1m57 0h1m-18 1h1m83 0h1m-126 1h1m81 1h1m-24 2h1m61 0h1m-1 1h1m-17 2h1m22 1h1m-34 3h1m-51 1h1m13 0h1m54 0h1m-113 2h1m9 0h1m45 0h1m-61 1h1m72 0h1m-7 1h1m5 0h2m4 0h1m8 0h1m23 0h2m5 0h1m3 0h2m-20 1h1m-81 2h1m51 0h1m-67 1h1m38 0h1m44 1h1m28 1h1m-65 1h1m41 0h1m19 0h1m-107 1h1m20 0h1m92 3h1m-115 1h1m-15 2h1m20 1h1m28 0h1m6 0h1m50 0h1m-7 1h1m-109 1h1m95 0h1m-59 1h1m47 0h1m-55 1h1m-10 1h1m28 4h1m3 0h1m3 0h1m32 0h1m21 0h1m-64 1h1m85 0h1m-122 1h1m5 0h1m82 0h1m11 1h1m-97 1h1m24 0h1m-38 1h3m29 0h1m-26 1h1m32 1h1m-48 1h1m46 0h1m-15 1h1m56 2h1m-67 1h1m89 2h1m-61 1h1m59 0h1m-75 1h1m43 0h1m25 0h1m24 0h1m-23 1h1m13 0h1m-90 2h1m12 1h2m45 0h1m-8 1h1m-74 1h1m106 0h2m-117 1h1m22 0h1m19 0h1m57 0h1m1 0h1m16 0h2m-64 1h1m45 2h2m4 0h1m13 1h1m-83 1h1m2 0h1m78 0h1m-87 2h1m73 1h1m-63 1h2m42 1h1m0 1h1m8 0h1m-107 1h1m26 0h1m54 0h1m38 0h1m-78 1h1m61 1h1m-9 1h1"/>
<path stroke="#c8c8c8" d="M105 0.5h1m32 0h1m-44 1h1m39 0h1m-33 1h1m6 1h1m-92 1h1m20 0h1m26 0h1m-34 1h1m67 1h1m32 0h1m-111 1h1m58 0h1m42 0h1m3 0h2m-95 1h1m-3 1h1m94 1h1m-117 1h1m1 0h1m40 0h1m1 0h1m69 0h1m8 0h1m-58 1h1m-42 1h2m89 0h1m-66 1h1m11 1h1m-60 1h1m26 0h1m6 0h1m75 0h1m-97 2h1m-15 1h1m31 0h1m80 2h1m-110 2h1m13 0h1m4 0h1m-40 1h1m19 0h1m40 0h1m58 0h1m-81 1h1m13 0h1m14 0h1m-30 1h1m15 0h1m-17 1h1m11 0h1m48 0h1m-101 1h1m49 0h1m-28 1h1m84 0h1m-111 1h1m31 0h1m-26 1h1m118 0h1m-73 1h1m4 0h1m36 0h1m-83 1h1m1 0h1m29 0h1m22 0h1m-59 2h1m60 0h1m-39 2h1m15 0h1m48 0h1m-80 1h1m3 0h1m75 0h2m32 1h1m-113 2h2m57 0h1m-84 2h1m48 0h1m38 0h1m-75 3h1m55 1h1m18 0h1m-78 1h1m43 0h1m10 1h1m-7 1h1m9 1h1m-1 1h1m64 1h1m-105 3h1m91 1h1m-78 1h1m-42 1h1m106 0h1m-114 1h1m7 0h1m88 0h1m-31 1h1m29 0h1m-74 1h1m32 0h1m12 0h1m54 0h1m-79 1h1m22 0h1m36 0h1m-57 3h1m15 1h1m47 0h1m-86 1h1m79 0h1m-34 1h1m-3 2h1m2 0h1m3 0h1m-78 1h1m96 0h1m-16 1h1m4 0h1m15 1h1m-74 3h1m25 0h1m17 0h1m39 0h1m5 0h1m-124 2h1m47 0h1m47 1h1m10 0h1m-102 1h1m12 0h1m31 1h1m66 0h1m3 0h1m-106 1h1m40 0h1m41 1h1m-1 1h1m-23 2h1m-42 2h1m78 0h1m-114 1h1m110 0h2m-54 1h1m-66 1h1m6 0h1m-1 1h1m48 0h1m51 0h1m-107 2h1m120 1h1m-62 1h1m60 0h1m-75 1h1m39 0h1m-68 1h1m78 3h1m-51 1h1m-33 1h1m-19 2h1m16 0h1m95 0h1m-98 1h1m31 0h1m0 2h1m-35 2h1m42 1h1m43 0h1m-55 1h1m58 0h1m-40 2h1m-26 3h1m10 0h1m-1 2h1m26 3h1m-24 1h1m68 0h1m0 2h1m-8 5h1m-43 2h1m57 2h1m-22 2h1m-14 2h1m-18 1h2"/>
<path stroke="#d3d3d3" d="M18 2.5h1m7 1h1m108 0h1m-78 1h1m-39 1h1m114 0h1m-75 2h1m21 0h1m-58 2h1m36 0h1m-5 2h1m69 1h1m-113 1h1m22 0h1m88 0h1m-122 7h1m19 0h1m102 4h1m-128 1h1m-4 1h1m71 0h1m-72 6h1m14 0h2m12 1h1m-10 2h1m36 3h1m44 1h1m-95 1h1m-3 1h1m79 0h1m11 5h1m-95 1h1m85 1h1m-22 4h1m0 1h2m-72 1h1m15 0h1m14 1h1m91 1h1m-111 2h1m107 0h1m8 4h1m-97 6h1m37 0h1m-61 3h1m110 0h1m-65 2h1m-43 1h1m71 0h1m-82 1h1m68 1h1m-54 4h1m38 0h1m57 0h1m-44 1h1m58 1h1m-97 3h1m42 3h1m-30 5h1m-48 2h1m54 1h1m28 0h1m23 0h1m-54 1h1m67 2h1m-6 2h1m-125 1h1m15 1h1m102 3h1m-62 1h1m-14 2h1m83 0h1m-55 1h1m50 0h1m-17 2h1m-62 7h1m43 0h1m-42 1h1m67 1h1m-10 4h1m-59 1h1m-39 3h1m85 0h1m-99 3h1m128 0h1m-28 2h1m9 1h1"/>
<path stroke="#dedede" d="M117 3.5h1m-98 1h1m101 1h1m-62 1h1m22 0h1m-4 1h1m-57 1h1m112 0h1m-108 1h1m-24 1h1m7 1h1m65 0h1m3 0h2m48 1h1m-47 2h1m-67 2h1m106 0h1m-25 1h1m-77 1h1m-7 2h1m29 2h1m-56 4h1m48 0h1m-48 2h1m48 0h1m-50 3h1m23 0h1m102 1h1m-2 1h1m-125 2h1m100 1h1m-56 2h1m-26 1h1m54 0h1m-56 3h1m70 2h1m-80 1h1m26 0h1m-35 6h1m4 4h1m74 3h1m-76 1h1m118 4h1m-82 2h1m62 3h1m4 6h1m-45 3h1m-76 1h1m114 0h1m-109 1h1m53 0h1m16 0h1m-65 1h1m107 0h1m-117 1h1m115 0h2m-118 1h1m57 1h1m1 2h1m-47 4h1m-17 5h1m3 0h1m117 1h1m-125 6h1m59 1h1m-51 2h1m5 0h1m26 1h1m49 1h1m-36 4h1m17 2h1m-32 4h1m-1 1h1m9 0h1m45 1h1m-11 2h1m31 3h1m-1 1h1m-30 1h1m25 1h1m9 0h1m-45 3h1m-71 1h1m36 7h1m68 0h1m-9 2h1"/>
<path stroke="#e9e9e9" d="M40 2.5h1m87 1h1m-94 1h1m80 0h1m-98 1h1m69 0h1m-28 1h1m15 5h1m53 0h1m-106 1h1m8 0h1m93 0h1m1 0h1m5 2h1m-107 1h1m32 2h1m43 1h1m-108 5h1m127 1h1m-91 2h1m62 2h1m-97 2h1m18 2h1m-9 1h1m30 1h1m38 9h1m-7 9h1m20 0h1m-13 6h1m-4 2h1m-74 1h1m32 1h1m-21 7h1m26 0h1m24 0h1m27 0h1m-63 1h5m-48 2h1m40 0h1m10 0h1m80 0h1m-77 4h1m64 1h1m-8 1h1m6 0h1m-1 1h2m-104 1h1m104 3h1m-86 1h1m43 3h1m-88 2h1m87 2h1m-87 3h1m111 13h1m-12 11h1m-94 3h1m-6 2h1m110 13h1m-44 4h1"/>
<path stroke="#f4f4f4" d="M120 0.5h1m5 7h1m-89 2h1m93 0h1m-10 1h1m2 0h1m-37 3h1m39 0h1m7 2h1m-112 1h1m4 0h1m32 0h1m-14 2h1m-9 6h1m-43 2h1m55 0h1m-28 1h1m-28 1h1m46 1h1m-16 4h1m51 11h1m-40 5h1m-48 6h1m86 3h1m-22 1h1m-1 1h1m0 1h1m39 1h1m-37 3h1m-2 1h1m-47 2h1m92 1h1m5 11h1m-117 2h1m56 2h1m14 2h1m-18 1h1m-65 1h1m-1 5h1m61 3h1m-44 7h1m-20 3h1m111 8h1m-56 2h1m-3 3h1m42 7h1m26 0h1"/>
<path stroke="#ffffff" d="M17 0.5h1m52 0h1m0 2h1m63 2h1m-106 1h1m4 0h1m34 1h1m62 1h1m-115 1h1m50 0h1m-56 1h1m54 1h1m56 0h2m3 0h1m-97 1h1m33 0h1m64 1h1m-66 1h1m64 0h2m-110 2h1m79 1h1m-76 1h1m37 0h1m-1 2h1m-1 2h1m-33 1h1m31 0h1m-68 1h1m66 0h1m-68 1h1m36 1h1m-38 1h2m50 0h1m3 0h1m10 0h1m-71 1h1m3 0h1m65 1h1m-1 2h1m-64 1h2m61 2h1m-1 1h1m-49 4h1m47 0h1m-1 1h1m-1 1h1m-1 1h1m-63 1h1m61 0h1m-1 1h1m18 1h1m-20 1h1m41 0h1m-43 2h1m-1 1h1m-1 4h1m11 1h1m-80 1h1m67 0h1m-69 1h1m66 0h1m-1 1h1m-1 1h1m-1 1h1m-1 1h1m17 0h1m-89 1h1m69 0h1m-71 1h1m69 0h2m-2 1h1m-19 1h1m17 0h1m-19 1h1m16 0h3m-20 1h1m16 0h3m-3 1h3m-3 1h3m-3 1h3m-51 1h1m28 0h1m5 0h2m1 0h1m1 0h2m1 0h14m3 0h2m1 0h2m4 0h1m-36 1h5m1 0h25m-31 1h1m1 0h1m1 0h1m2 0h1m1 0h12m4 0h1m4 0h1m-17 1h3m-8 1h1m4 0h3m-3 1h3m-3 1h3m-3 1h3m-12 1h1m8 0h3m-10 1h1m1 0h1m5 0h1m55 0h1m-101 1h1m37 0h1m5 0h1m-1 1h1m9 0h1m-11 1h1m68 0h1m-70 1h1m-1 1h1m-1 1h1m-1 1h1m-1 1h1m15 1h1m-17 2h1m-1 1h1m-1 1h1m18 0h1m-25 2h1m-4 5h1m7 2h1m-1 1h1m-1 2h1m-1 5h1m32 3h1m-34 3h1m-1 1h1m-23 1h1m8 1h1m12 2h1m-1 1h1m-61 2h1m59 4h1m54 1h1m-56 1h1m-1 7h1m-1 2h1m-1 1h1m39 2h1"/>
</g>
<g clip-path="url(#c2)">
<path d="M778.4 1308.8L820.4 1350.8M778.4 1350.8L820.4 1308.8" fill="none" stroke="#f00" stroke-width="6.6"/>
<path d="M174.3 1329H1424.4" fill="none" stroke="#191970" stroke-opacity=".5" stroke-width="6.8"/>
<path d="M799.4 704V1954.1" fill="none" stroke="#191970" stroke-opacity=".78" stroke-width="7.1"/>
<rect class="rc" x="320.6" y="1027.6" width="266" height="266"/>
<rect class="rc" x="1109.7" y="1036.4" width="266" height="266"/>
<rect class="rc" x="338.3" y="1665.9" width="266" height="266"/>
<rect class="rc" x="808.2" y="1665.9" width="266" height="266"/>
<text transform="translate(261.3 1714.2) scale(1.08 1)" x="0" y="0" text-anchor="middle" style="font-family:'Liberation Serif','DejaVu Serif',serif;font-weight:bold;font-size:77px;fill:#fff;fill-opacity:.75">N</text>
<path d="M268.6 1714.4L298.1 1770.3L272.7 1766.4L252.9 1889.5L229.6 1884.9L248.4 1762.6L223.4 1758.2Z" fill="#fff" fill-opacity=".76" stroke="#111" stroke-opacity=".9" stroke-width="1.9" stroke-linejoin="miter"/>
</g>
<path class="tk" d="M249.7 1954.1v-13.6M249.7 704v13.6M427 1954.1v-13.6M427 704v13.6M604.3 1954.1v-13.6M604.3 704v13.6M781.6 1954.1v-13.6M781.6 704v13.6M958.9 1954.1v-13.6M958.9 704v13.6M1136.3 1954.1v-13.6M1136.3 704v13.6M1313.6 1954.1v-13.6M1313.6 704v13.6M174.3 717.2h13.6M1424.4 717.2h-13.6M174.3 894.6h13.6M1424.4 894.6h-13.6M174.3 1071.9h13.6M1424.4 1071.9h-13.6M174.3 1249.2h13.6M1424.4 1249.2h-13.6M174.3 1426.5h13.6M1424.4 1426.5h-13.6M174.3 1603.8h13.6M1424.4 1603.8h-13.6M174.3 1781.2h13.6M1424.4 1781.2h-13.6"/>
<rect class="sp" x="174.3" y="703.95" width="1250.1" height="1250.15"/>
<text x="249.7" y="1998" text-anchor="middle" class="tl">6320</text>
<text x="427" y="1998" text-anchor="middle" class="tl">6340</text>
<text x="604.3" y="1998" text-anchor="middle" class="tl">6360</text>
<text x="781.6" y="1998" text-anchor="middle" class="tl">6380</text>
<text x="958.9" y="1998" text-anchor="middle" class="tl">6400</text>
<text x="1136.3" y="1998" text-anchor="middle" class="tl">6420</text>
<text x="1313.6" y="1998" text-anchor="middle" class="tl">6440</text>
<text x="162.4" y="731.9" text-anchor="end" class="tl">4020</text>
<text x="162.4" y="909.3" text-anchor="end" class="tl">4040</text>
<text x="162.4" y="1086.6" text-anchor="end" class="tl">4060</text>
<text x="162.4" y="1263.9" text-anchor="end" class="tl">4080</text>
<text x="162.4" y="1441.2" text-anchor="end" class="tl">4100</text>
<text x="162.4" y="1618.5" text-anchor="end" class="tl">4120</text>
<text x="162.4" y="1795.9" text-anchor="end" class="tl">4140</text>
<text x="801.4" y="2047" text-anchor="middle">Range pixel</text>
<text transform="translate(32.1 1329) rotate(-90)" text-anchor="middle">Azimuth pixel</text>
</g>
<g id="right-axes">
<path class="gr" d="M1590.8 1954.1V704M1694.8 1954.1V704M1798.9 1954.1V704M1903 1954.1V704M2007 1954.1V704"/>
<path class="ln" clip-path="url(#c3)" d="M1450 704L1580.3 712.9L1611.5 721.8L1600.6 730.7L1473.3 739.7L1654.5 748.6L1626.7 757.5L1586.2 766.5L1504.4 775.4L1579.5 784.3L1603.9 793.2L1615.7 802.2L1617.4 811.1L1591.3 820L1599.7 829L1637.6 837.9L1562.6 846.8L1619.9 855.8L1528.1 864.7L1611.5 873.6L1504.4 882.5L1661.3 891.5L1573.6 900.4L1547.4 909.3L1592.1 918.3L1504.4 927.2L1609.8 936.1L1572.7 945.1L1562.6 954L1552.5 962.9L1635.1 971.8L1627.5 980.8L1619.9 989.7L1646.9 998.6L1588.8 1007.6L1530.6 1016.5L1549.1 1025.4L1601.4 1034.3L1640.2 1043.3L1679 1052.2L1603.9 1061.1L1601.4 1070.1L1658.7 1079L1603.1 1087.9L1547.4 1096.9L1614.9 1105.8L1660.4 1114.7L1627.5 1123.6L1676.4 1132.6L1645.2 1141.5L1683.2 1150.4L1640.2 1159.4L1566.8 1168.3L1604.8 1177.2L1626.7 1186.2L1728.7 1195.1L1690.8 1204L1684 1212.9L1716 1221.9L1698.3 1230.8L1716.9 1239.7L1668 1248.7L1655.3 1257.6L1739.7 1266.5L1732.1 1275.4L1807.6 1284.4L1798.3 1293.3L1859 1302.2L1869.1 1311.2L2010.8 1320.1L2111.1 1329L2010.8 1338L1916.3 1346.9L1822.8 1355.8L1829.5 1364.7L1786 1373.7L1778.4 1382.6L1640.2 1391.5L1747.2 1400.5L1665.5 1409.4L1590.4 1418.3L1730.4 1427.3L1661.3 1436.2L1755.7 1445.1L1671.4 1454L1718.6 1463L1547.4 1471.9L1610.7 1480.8L1503.6 1489.8L1584.5 1498.7L1713.5 1507.6L1668 1516.5L1679 1525.5L1645.2 1534.4L1675.6 1543.3M1589.6 1561.2L1585.4 1570.1L1603.1 1579.1L1631.7 1588L1636 1596.9L1621.6 1605.8L1609 1614.8L1598 1623.7L1628.4 1632.6L1617.4 1641.6L1527.2 1650.5L1644.4 1659.4L1583.7 1668.4L1588.8 1677.3L1641.9 1686.2L1598.9 1695.1L1675.6 1704.1L1592.1 1713L1555.9 1721.9L1614 1730.9L1590.4 1739.8L1619.9 1748.7L1463.1 1757.6L1671.4 1766.6L1606.5 1775.5L1665.5 1784.4L1644.4 1793.4L1544.9 1802.3L1621.6 1811.2L1620.8 1820.2L1638.5 1829.1L1577.8 1838L1629.2 1846.9L1610.7 1855.9L1562.6 1864.8L1603.9 1873.7L1645.2 1882.7L1587.9 1891.6L1579.5 1900.5L1534.8 1909.5L1605.6 1918.4L1615.7 1927.3L1591.3 1936.2L1503.6 1945.2L1598 1954.1"/>
<path class="tk" d="M1486.7 1954.1v-13.6M1486.7 704v13.6M1590.8 1954.1v-13.6M1590.8 704v13.6M1694.8 1954.1v-13.6M1694.8 704v13.6M1798.9 1954.1v-13.6M1798.9 704v13.6M1903 1954.1v-13.6M1903 704v13.6M2007 1954.1v-13.6M2007 704v13.6M2111.1 1954.1v-13.6M2111.1 704v13.6"/>
<rect class="sp" x="1486.7" y="703.95" width="624.4" height="1250.15"/>
<text x="1485.9" y="1998" text-anchor="middle" class="tl">−60</text>
<text x="1590" y="1998" text-anchor="middle" class="tl">−50</text>
<text x="1694" y="1998" text-anchor="middle" class="tl">−40</text>
<text x="1798.1" y="1998" text-anchor="middle" class="tl">−30</text>
<text x="1902.2" y="1998" text-anchor="middle" class="tl">−20</text>
<text x="2006.2" y="1998" text-anchor="middle" class="tl">−10</text>
<text x="2110.3" y="1998" text-anchor="middle" class="tl">0</text>
<text x="1800.6" y="2047" text-anchor="middle">Normalized power [dB]</text>
</g>
</svg></body></html>
